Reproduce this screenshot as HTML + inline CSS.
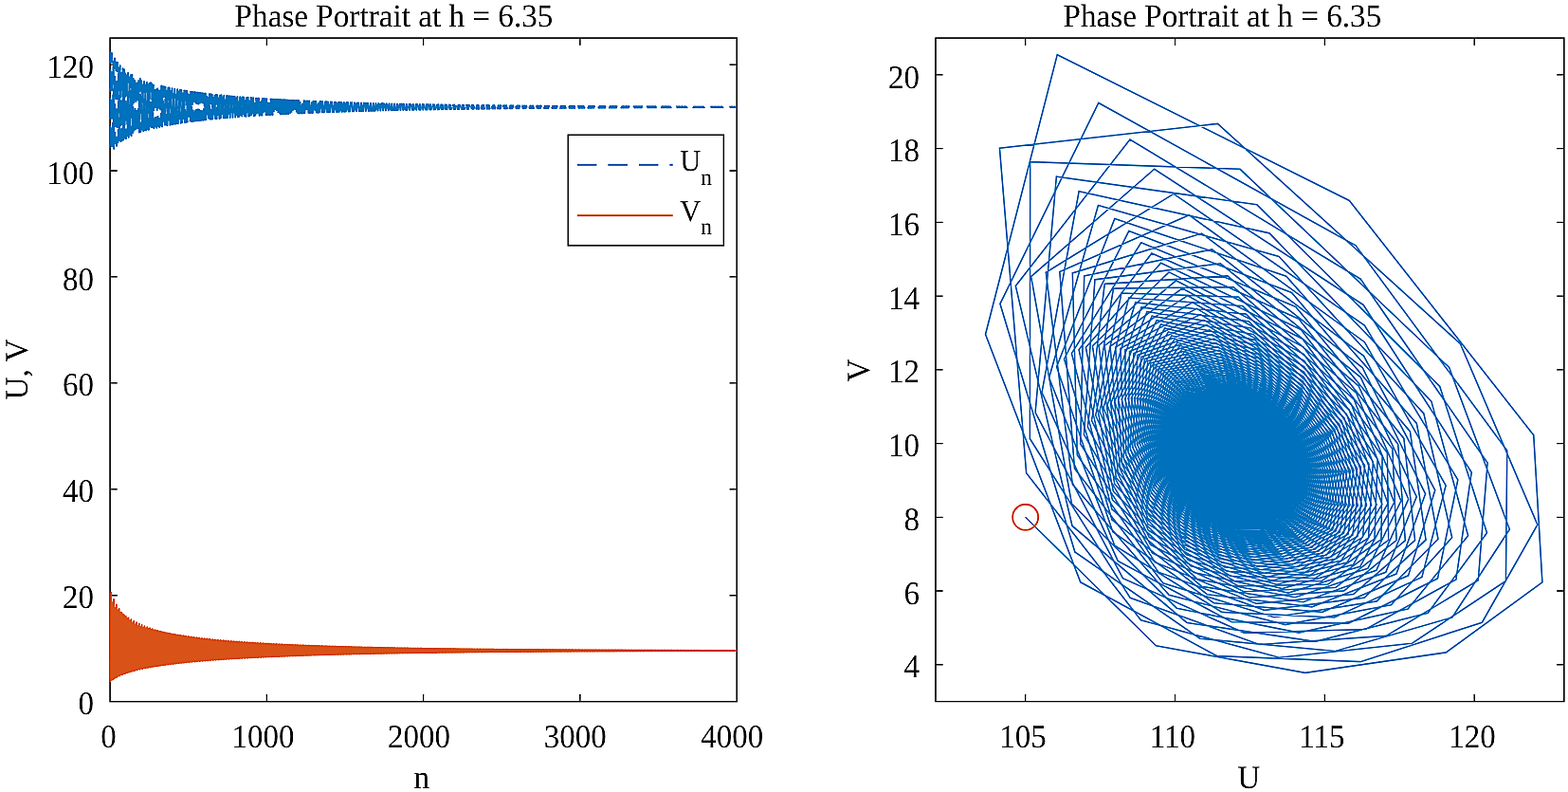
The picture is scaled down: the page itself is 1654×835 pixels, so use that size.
<!DOCTYPE html>
<html lang="en"><head><meta charset="utf-8"><title>Phase Portrait at h = 6.35</title>
<style>
html,body{margin:0;padding:0;background:#fff;}
body{width:1654px;height:835px;overflow:hidden;}
svg{display:block;}
text{font-family:"Liberation Serif","Times New Roman",serif;font-size:33.2px;fill:#1a1a1a;text-rendering:geometricPrecision;}
.t{text-anchor:middle;}
.r{text-anchor:end;}
.ax{fill:none;stroke:#231f20;stroke-width:1.4;}
.tk{stroke:#231f20;stroke-width:1.3;fill:none;}
.d{fill:none;stroke-linejoin:round;}
.m{fill:none;stroke-linejoin:miter;}
</style></head>
<body>
<svg width="1654" height="835" viewBox="0 0 1654 835">
<defs><filter id="usm" filterUnits="userSpaceOnUse" x="0" y="0" width="1654" height="835" color-interpolation-filters="sRGB"><feGaussianBlur in="SourceGraphic" stdDeviation="1.0" result="b"/><feComposite in="SourceGraphic" in2="b" operator="arithmetic" k1="0" k2="2.0" k3="-1.0" k4="0"/></filter></defs>
<g filter="url(#usm)">
<rect width="1654" height="835" fill="#fff"/>
<g id="left">
<rect class="ax" x="116.06" y="40.06" width="661.12" height="699.64"/>
<path class="tk" d="M281.34 739.70v-7.6 M281.34 40.06v7.6 M446.62 739.70v-7.6 M446.62 40.06v7.6 M611.90 739.70v-7.6 M611.90 40.06v7.6 M116.06 627.76h7.6 M777.18 627.76h-7.6 M116.06 515.82h7.6 M777.18 515.82h-7.6 M116.06 403.87h7.6 M777.18 403.87h-7.6 M116.06 291.93h7.6 M777.18 291.93h-7.6 M116.06 179.99h7.6 M777.18 179.99h-7.6 M116.06 68.05h7.6 M777.18 68.05h-7.6"/>
<polyline class="d" stroke="#0072bd" stroke-width="2.0" stroke-dasharray="19.5 10" stroke-dashoffset="0" points="116.06,152.00 116.23,127.56 116.39,99.67 116.56,73.34 116.72,55.33 116.89,56.95 117.05,91.43 117.22,146.04 117.38,159.47 117.55,141.70 117.71,116.18 117.88,89.34 118.04,66.59 118.21,56.23 118.37,70.68 118.54,116.05 118.70,156.83 118.87,151.83 119.04,130.41 119.20,104.55 119.37,79.68 119.53,62.15 119.70,61.92 119.86,90.23 120.03,138.32 120.19,156.74 120.36,142.75 120.52,119.38 120.69,94.04 120.85,72.19 121.02,61.45 121.18,72.75 121.35,111.85 121.51,151.11 121.68,151.16 121.84,132.40 122.01,108.25 122.18,84.53 122.34,67.31 122.51,65.58 122.67,89.32 122.84,132.45 123.00,153.83 123.17,143.25 123.33,121.81 123.50,97.80 123.66,76.72 123.83,65.68 123.99,74.51 124.16,108.72 124.32,146.20 124.49,150.15 124.65,133.78 124.82,111.14 124.99,88.39 125.15,71.46 125.32,68.57 125.48,88.79 125.65,127.88 125.81,150.94 125.98,143.35 126.14,123.69 126.31,100.87 126.47,80.47 126.64,69.21 126.80,76.08 126.97,106.36 127.13,141.99 127.30,148.93 127.46,134.71 127.63,113.42 127.79,91.56 127.96,74.91 128.13,71.12 128.29,88.57 128.46,124.27 128.62,148.17 128.79,143.19 128.95,125.14 129.12,103.40 129.28,83.62 129.45,72.22 129.61,77.51 129.78,104.58 129.94,138.39 130.11,147.57 130.27,135.31 130.44,115.27 130.60,94.22 130.77,77.85 130.94,73.37 131.10,88.56 131.27,121.38 131.43,145.59 131.60,142.82 131.76,126.26 131.93,105.51 132.09,86.30 132.26,74.82 132.42,78.83 132.59,103.23 132.75,135.30 132.92,146.17 133.08,135.66 133.25,116.77 133.41,96.48 133.58,80.40 133.74,75.38 133.91,88.71 134.08,119.03 134.24,143.19 134.41,142.32 134.57,127.13 134.74,107.29 134.90,88.62 135.07,77.11 135.23,80.06 135.40,102.21 135.56,132.65 135.73,144.75 135.89,135.82 136.06,118.00 136.22,98.42 136.39,82.63 136.55,77.20 136.72,88.97 136.89,117.10 137.05,141.00 137.22,141.72 137.38,127.78 137.55,108.79 137.71,90.64 137.88,79.14 138.04,81.22 138.21,101.44 138.37,130.36 138.54,143.35 138.70,135.84 138.87,119.01 139.03,100.10 139.20,84.61 139.36,78.84 139.53,89.30 139.70,115.51 139.86,139.01 140.03,141.05 140.19,128.27 140.36,110.08 140.52,92.42 140.69,80.96 140.85,82.31 141.02,100.88 141.18,128.38 141.35,142.00 141.51,135.75 141.68,119.85 141.84,101.56 142.01,86.37 142.17,80.35 142.34,89.69 142.50,114.20 142.67,137.19 142.84,140.34 143.00,128.62 143.17,111.18 143.33,93.99 143.50,82.60 143.66,83.35 143.83,100.48 143.99,126.65 144.16,140.70 144.32,135.57 144.49,120.53 144.65,102.85 144.82,87.95 144.98,81.74 145.15,90.10 145.31,113.10 145.48,135.54 145.65,139.62 145.81,128.86 145.98,112.13 146.14,95.39 146.31,84.09 146.47,84.33 146.64,100.19 146.80,125.15 146.97,139.46 147.13,135.33 147.30,121.10 147.46,103.98 147.63,89.38 147.79,83.02 147.96,90.55 148.12,112.19 148.29,134.04 148.45,138.88 148.62,129.01 148.79,112.95 148.95,96.64 149.12,85.46 149.28,85.25 149.45,100.01 149.61,123.83 149.78,138.29 149.94,135.04 150.11,121.56 150.27,104.98 150.44,90.68 150.60,84.20 150.77,91.00 150.93,111.42 151.10,132.67 151.26,138.14 151.43,129.09 151.60,113.65 151.76,97.76 151.93,86.70 152.09,86.14 152.26,99.90 152.42,122.68 152.59,137.18 152.75,134.71 152.92,121.94 153.08,105.87 153.25,91.85 153.41,85.30 153.58,91.46 153.74,110.78 153.91,131.43 154.07,137.41 154.24,129.11 154.40,114.26 154.57,98.78 154.74,87.85 154.90,86.97 155.07,99.86 155.23,121.66 155.40,136.13 155.56,134.35 155.73,122.24 155.89,106.66 156.06,92.93 156.22,86.33 156.39,91.92 156.55,110.25 156.72,130.30 156.88,136.69 157.05,129.08 157.21,114.79 157.38,99.69 157.55,88.91 157.71,87.77 157.88,99.87 158.04,120.76 158.21,135.15 158.37,133.98 158.54,122.48 158.70,107.37 158.87,93.91 159.03,87.29 159.20,92.39 159.36,109.80 159.53,129.26 159.69,135.99 159.86,129.01 160.02,115.25 160.19,100.53 160.36,89.90 160.52,88.53 160.69,99.92 160.85,119.96 161.02,134.22 161.18,133.59 161.35,122.66 161.51,108.00 161.68,94.82 161.84,88.19 162.01,92.85 162.17,109.43 162.34,128.32 162.50,135.31 162.67,128.90 162.83,115.65 163.00,101.29 163.16,90.81 163.33,89.25 163.50,100.01 163.66,119.25 163.83,133.35 163.99,133.19 164.16,122.80 164.32,108.57 164.49,95.65 164.65,89.03 164.82,93.30 164.98,109.12 165.15,127.46 165.31,134.65 165.48,128.77 165.64,115.99 165.81,101.98 165.97,91.66 166.14,89.94 166.31,100.12 166.47,118.62 166.64,132.53 166.80,132.78 166.97,122.90 167.13,109.08 167.30,96.43 167.46,89.83 167.63,93.75 167.79,108.86 167.96,126.66 168.12,134.02 168.29,128.61 168.45,116.29 168.62,102.61 168.78,92.45 168.95,90.60 169.11,100.25 169.28,118.06 169.45,131.76 169.61,132.38 169.78,122.96 169.94,109.53 170.11,97.14 170.27,90.58 170.44,94.19 170.60,108.65 170.77,125.94 170.93,133.40 171.10,128.44 171.26,116.54 171.43,103.20 171.59,93.20 171.76,91.23 171.92,100.40 172.09,117.56 172.26,131.04 172.42,131.97 172.59,123.00 172.75,109.95 172.92,97.80 173.08,91.29 173.25,94.62 173.41,108.49 173.58,125.27 173.74,132.81 173.91,128.25 174.07,116.76 174.24,103.73 174.40,93.89 174.57,91.83 174.73,100.56 174.90,117.12 175.06,130.36 175.23,131.57 175.40,123.01 175.56,110.32 175.73,98.42 175.89,91.96 176.06,95.04 176.22,108.35 176.39,124.65 176.55,132.24 176.72,128.05 176.88,116.94 177.05,104.22 177.21,94.55 177.38,92.41 177.54,100.74 177.71,116.72 177.87,129.71 178.04,131.17 178.21,123.00 178.37,110.65 178.54,99.00 178.70,92.60 178.87,95.45 179.03,108.25 179.20,124.09 179.36,131.69 179.53,127.84 179.69,117.10 179.86,104.67 180.02,95.16 180.19,92.97 180.35,100.92 180.52,116.36 180.68,129.11 180.85,130.78 181.02,122.97 181.18,110.95 181.35,99.53 181.51,93.20 181.68,95.85 181.84,108.17 182.01,123.56 182.17,131.16 182.34,127.62 182.50,117.23 182.67,105.09 182.83,95.74 183.00,93.50 183.16,101.11 183.33,116.04 183.49,128.54 183.66,130.39 183.82,122.92 183.99,111.22 184.16,100.04 184.32,93.78 184.49,96.24 184.65,108.12 184.82,123.08 184.98,130.65 185.15,127.39 185.31,117.34 185.48,105.47 185.64,96.29 185.81,94.01 185.97,101.30 186.14,115.76 186.30,128.00 186.47,130.01 186.63,122.86 186.80,111.46 186.97,100.51 187.13,94.32 187.30,96.63 187.46,108.08 187.63,122.63 187.79,130.16 187.96,127.17 188.12,117.43 188.29,105.83 188.45,96.81 188.62,94.50 188.78,101.50 188.95,115.50 189.11,127.49 189.28,129.64 189.44,122.78 189.61,111.68 189.77,100.95 189.94,94.84 190.11,97.00 190.27,108.06 190.44,122.21 190.60,129.69 190.77,126.93 190.93,117.50 191.10,106.16 191.26,97.30 191.43,94.97 191.59,101.70 191.76,115.27 191.92,127.01 192.09,129.27 192.25,122.70 192.42,111.88 192.58,101.36 192.75,95.34 192.92,97.36 193.08,108.06 193.25,121.83 193.41,129.24 193.58,126.70 193.74,117.55 193.91,106.47 194.07,97.77 194.24,95.42 194.40,101.91 194.57,115.06 194.73,126.56 194.90,128.91 195.06,122.60 195.23,112.06 195.39,101.75 195.56,95.82 195.72,97.72 195.89,108.06 196.06,121.47 196.22,128.81 196.39,126.47 196.55,117.59 196.72,106.75 196.88,98.21 197.05,95.86 197.21,102.11 197.38,114.88 197.54,126.13 197.71,128.56 197.87,122.50 198.04,112.22 198.20,102.12 198.37,96.27 198.53,98.06 198.70,108.08 198.87,121.13 199.03,128.39 199.20,126.23 199.36,117.62 199.53,107.02 199.69,98.63 199.86,96.28 200.02,102.31 200.19,114.71 200.35,125.72 200.52,128.22 200.68,122.39 200.85,112.37 201.01,102.47 201.18,96.71 201.34,98.40 201.51,108.11 201.68,120.82 201.84,127.99 202.01,126.00 202.17,117.63 202.34,107.26 202.50,99.03 202.67,96.69 202.83,102.52 203.00,114.56 203.16,125.33 203.33,127.89 203.49,122.28 203.66,112.50 203.82,102.79 203.99,97.13 204.15,98.73 204.32,108.15 204.48,120.53 204.65,127.61 204.82,125.77 204.98,117.64 205.15,107.49 205.31,99.41 205.48,97.08 205.64,102.72 205.81,114.43 205.97,124.97 206.14,127.56 206.30,122.16 206.47,112.61 206.63,103.10 206.80,97.53 206.96,99.05 207.13,108.19 207.29,120.26 207.46,127.24 207.63,125.54 207.79,117.63 207.96,107.71 208.12,99.77 208.29,97.46 208.45,102.92 208.62,114.31 208.78,124.62 208.95,127.25 209.11,122.04 209.28,112.72 209.44,103.40 209.61,97.91 209.77,99.36 209.94,108.24 210.10,120.00 210.27,126.88 210.43,125.31 210.60,117.62 210.77,107.91 210.93,100.12 211.10,97.82 211.26,103.12 211.43,114.20 211.59,124.28 211.76,126.94 211.92,121.91 212.09,112.81 212.25,103.67 212.42,98.28 212.58,99.66 212.75,108.30 212.91,119.76 213.08,126.54 213.24,125.08 213.41,117.60 213.58,108.09 213.74,100.45 213.91,98.18 214.07,103.32 214.24,114.10 214.40,123.97 214.57,126.64 214.73,121.79 214.90,112.89 215.06,103.94 215.23,98.64 215.39,99.96 215.56,108.36 215.72,119.54 215.89,126.20 216.05,124.86 216.22,117.58 216.38,108.27 216.55,100.77 216.72,98.52 216.88,103.51 217.05,114.02 217.21,123.67 217.38,126.34 217.54,121.65 217.71,112.97 217.87,104.19 218.04,98.98 218.20,100.25 218.37,108.42 218.53,119.33 218.70,125.88 218.86,124.63 219.03,117.55 219.19,108.43 219.36,101.07 219.53,98.85 219.69,103.71 219.86,113.94 220.02,123.38 220.19,126.06 220.35,121.52 220.52,113.03 220.68,104.42 220.85,99.31 221.01,100.53 221.18,108.49 221.34,119.13 221.51,125.58 221.67,124.42 221.84,117.51 222.00,108.58 222.17,101.37 222.34,99.17 222.50,103.90 222.67,113.87 222.83,123.10 223.00,125.78 223.16,121.39 223.33,113.09 223.49,104.65 223.66,99.63 223.82,100.80 223.99,108.56 224.15,118.94 224.32,125.28 224.48,124.20 224.65,117.47 224.81,108.73 224.98,101.65 225.14,99.49 225.31,104.08 225.48,113.81 225.64,122.84 225.81,125.50 225.97,121.26 226.14,113.14 226.30,104.87 226.47,99.93 226.63,101.07 226.80,108.63 226.96,118.77 227.13,124.99 227.29,123.99 227.46,117.42 227.62,108.86 227.79,101.92 227.95,99.79 228.12,104.27 228.29,113.76 228.45,122.59 228.62,125.24 228.78,121.12 228.95,113.18 229.11,105.07 229.28,100.23 229.44,101.33 229.61,108.71 229.77,118.60 229.94,124.71 230.10,123.78 230.27,117.38 230.43,108.99 230.60,102.17 230.76,100.08 230.93,104.45 231.09,113.71 231.26,122.35 231.43,124.98 231.59,120.99 231.76,113.22 231.92,105.27 232.09,100.52 232.25,101.58 232.42,108.78 232.58,118.45 232.75,124.44 232.91,123.57 233.08,117.33 233.24,109.11 233.41,102.42 233.57,100.37 233.74,104.63 233.90,113.67 234.07,122.12 234.24,124.73 234.40,120.85 234.57,113.25 234.73,105.46 234.90,100.80 235.06,101.83 235.23,108.86 235.39,118.30 235.56,124.18 235.72,123.37 235.89,117.27 236.05,109.22 236.22,102.66 236.38,100.64 236.55,104.81 236.71,113.63 236.88,121.89 237.04,124.48 237.21,120.72 237.38,113.28 237.54,105.63 237.71,101.06 237.87,102.07 238.04,108.94 238.20,118.16 238.37,123.93 238.53,123.17 238.70,117.21 238.86,109.32 239.03,102.89 239.19,100.91 239.36,104.98 239.52,113.60 239.69,121.68 239.85,124.24 240.02,120.58 240.19,113.30 240.35,105.81 240.52,101.32 240.68,102.31 240.85,109.02 241.01,118.02 241.18,123.69 241.34,122.97 241.51,117.16 241.67,109.42 241.84,103.11 242.00,101.17 242.17,105.15 242.33,113.57 242.50,121.48 242.66,124.01 242.83,120.45 243.00,113.32 243.16,105.97 243.33,101.58 243.49,102.54 243.66,109.09 243.82,117.90 243.99,123.45 244.15,122.78 244.32,117.10 244.48,109.51 244.65,103.33 244.81,101.43 244.98,105.32 245.14,113.55 245.31,121.28 245.47,123.78 245.64,120.32 245.80,113.34 245.97,106.13 246.14,101.82 246.30,102.76 246.47,109.17 246.63,117.78 246.80,123.22 246.96,122.59 247.13,117.03 247.29,109.60 247.46,103.54 247.62,101.67 247.79,105.48 247.95,113.53 248.12,121.09 248.28,123.56 248.45,120.19 248.61,113.35 248.78,106.28 248.95,102.06 249.11,102.98 249.28,109.25 249.44,117.66 249.61,123.00 249.77,122.40 249.94,116.97 250.10,109.68 250.27,103.74 250.43,101.91 250.60,105.65 250.76,113.51 250.93,120.91 251.09,123.34 251.26,120.06 251.42,113.36 251.59,106.42 251.75,102.29 251.92,103.20 252.09,109.33 252.25,117.56 252.42,122.79 252.58,122.22 252.75,116.91 252.91,109.76 253.08,103.93 253.24,102.15 253.41,105.80 253.57,113.49 253.74,120.73 253.90,123.13 254.07,119.93 254.23,113.37 254.40,106.56 254.56,102.51 254.73,103.40 254.90,109.41 255.06,117.45 255.23,122.58 255.39,122.04 255.56,116.84 255.72,109.84 255.89,104.12 256.05,102.37 256.22,105.96 256.38,113.48 256.55,120.56 256.71,122.92 256.88,119.80 257.04,113.37 257.21,106.70 257.37,102.73 257.54,103.61 257.70,109.49 257.87,117.35 258.04,122.38 258.20,121.86 258.37,116.78 258.53,109.91 258.70,104.30 258.86,102.60 259.03,106.11 259.19,113.47 259.36,120.40 259.52,122.72 259.69,119.67 259.85,113.37 260.02,106.83 260.18,102.94 260.35,103.81 260.51,109.57 260.68,117.26 260.85,122.18 261.01,121.69 261.18,116.71 261.34,109.97 261.51,104.48 261.67,102.81 261.84,106.26 262.00,113.46 262.17,120.24 262.33,122.52 262.50,119.55 262.66,113.37 262.83,106.95 262.99,103.14 263.16,104.00 263.32,109.65 263.49,117.17 263.66,121.99 263.82,121.52 263.99,116.64 264.15,110.04 264.32,104.65 264.48,103.02 264.65,106.41 264.81,113.46 264.98,120.09 265.14,122.33 265.31,119.42 265.47,113.37 265.64,107.07 265.80,103.34 265.97,104.19 266.13,109.72 266.30,117.08 266.46,121.80 266.63,121.35 266.80,116.58 266.96,110.10 267.13,104.81 267.29,103.23 267.46,106.55 267.62,113.45 267.79,119.94 267.95,122.14 268.12,119.30 268.28,113.36 268.45,107.19 268.61,103.53 268.78,104.38 268.94,109.80 269.11,117.00 269.27,121.62 269.44,121.19 269.61,116.51 269.77,110.15 269.94,104.97 270.10,103.43 270.27,106.69 270.43,113.45 270.60,119.80 270.76,121.96 270.93,119.18 271.09,113.36 271.26,107.30 271.42,103.72 271.59,104.56 271.75,109.87 271.92,116.92 272.08,121.45 272.25,121.03 272.41,116.44 272.58,110.21 272.75,105.13 272.91,103.62 273.08,106.83 273.24,113.45 273.41,119.66 273.57,121.78 273.74,119.06 273.90,113.35 274.07,107.41 274.23,103.91 274.40,104.74 274.56,109.95 274.73,116.84 274.89,121.27 275.06,120.87 275.22,116.38 275.39,110.26 275.56,105.28 275.72,103.81 275.89,106.97 276.05,113.45 276.22,119.53 276.38,121.60 276.55,118.94 276.71,113.34 276.88,107.51 277.04,104.09 277.21,104.91 277.37,110.02 277.54,116.77 277.70,121.11 277.87,120.71 278.03,116.31 278.20,110.31 278.36,105.43 278.53,104.00 278.70,107.10 278.86,113.45 279.03,119.40 279.19,121.43 279.36,118.82 279.52,113.33 279.69,107.62 279.85,104.26 280.02,105.08 280.18,110.09 280.35,116.70 280.51,120.94 280.68,120.56 280.84,116.25 281.01,110.35 281.17,105.57 281.34,104.18 281.51,107.23 281.67,113.45 281.84,119.27 282.00,121.26 282.17,118.71 282.33,113.32 282.50,107.71 282.66,104.43 282.83,105.25 282.99,110.16 283.16,116.63 283.32,120.79 283.49,120.41 283.65,116.18 283.82,110.40 283.98,105.71 284.15,104.36 284.32,107.36 284.48,113.45 284.65,119.15 284.81,121.10 284.98,118.60 285.14,113.31 285.31,107.81 285.47,104.60 285.64,105.41 285.80,110.23 285.97,116.57 286.13,120.63 286.30,120.26 286.46,116.11 286.63,110.44 286.79,105.85 286.96,104.53 287.12,107.48 287.29,113.45 287.46,119.03 287.62,120.94 287.79,118.48 287.95,113.30 288.12,107.90 288.28,104.76 288.45,105.57 288.61,110.30 288.78,116.50 288.94,120.48 289.11,120.12 289.27,116.05 289.44,110.48 289.60,105.98 289.77,104.70 289.93,107.61 290.10,113.45 290.27,118.91 290.43,120.78 290.60,118.37 290.76,113.28 290.93,107.99 291.09,104.92 291.26,105.73 291.42,110.37 291.59,116.44 291.75,120.34 291.92,119.98 292.08,115.98 292.25,110.52 292.41,106.11 292.58,104.87 292.74,107.73 292.91,113.46 293.07,118.80 293.24,120.63 293.41,118.27 293.57,113.27 293.74,108.08 293.90,105.07 294.07,105.88 294.23,110.44 294.40,116.38 294.56,120.19 294.73,119.84 294.89,115.92 295.06,110.56 295.22,106.23 295.39,105.03 295.55,107.84 295.72,113.46 295.88,118.69 296.05,120.48 296.22,118.16 296.38,113.26 296.55,108.16 296.71,105.22 296.88,106.03 297.04,110.50 297.21,116.32 297.37,120.05 297.54,119.71 297.70,115.86 297.87,110.60 298.03,106.36 298.20,105.19 298.36,107.96 298.53,113.47 298.69,118.58 298.86,120.33 299.02,118.06 299.19,113.24 299.36,108.24 299.52,105.37 299.69,106.17 299.85,110.57 300.02,116.27 300.18,119.92 300.35,119.57 300.51,115.79 300.68,110.63 300.84,106.48 301.01,105.34 301.17,108.07 301.34,113.47 301.50,118.48 301.67,120.19 301.83,117.95 302.00,113.23 302.17,108.32 302.33,105.51 302.50,106.31 302.66,110.63 302.83,116.22 302.99,119.78 303.16,119.44 303.32,115.73 303.49,110.66 303.65,106.59 303.82,105.49 303.98,108.18 304.15,113.48 304.31,118.38 304.48,120.05 304.64,117.85 304.81,113.21 304.98,108.40 305.14,105.65 305.31,106.45 305.47,110.69 305.64,116.16 305.80,119.65 305.97,119.31 306.13,115.67 306.30,110.70 306.46,106.71 306.63,105.64 306.79,108.29 306.96,113.48 307.12,118.28 307.29,119.91 307.45,117.75 307.62,113.20 307.78,108.48 307.95,105.79 308.12,106.59 308.28,110.75 308.45,116.11 308.61,119.53 308.78,119.19 308.94,115.61 309.11,110.73 309.27,106.82 309.44,105.79 309.60,108.39 309.77,113.49 309.93,118.18 310.10,119.78 310.26,117.65 310.43,113.18 310.59,108.55 310.76,105.92 310.93,106.72 311.09,110.81 311.26,116.06 311.42,119.40 311.59,119.07 311.75,115.55 311.92,110.76 312.08,106.93 312.25,105.93 312.41,108.50 312.58,113.49 312.74,118.09 312.91,119.64 313.07,117.56 313.24,113.16 313.40,108.62 313.57,106.06 313.73,106.85 313.90,110.87 314.07,116.01 314.23,119.28 314.40,118.94 314.56,115.49 314.73,110.78 314.89,107.03 315.06,106.07 315.22,108.60 315.39,113.50 315.55,118.00 315.72,119.51 315.88,117.46 316.05,113.15 316.21,108.69 316.38,106.18 316.54,106.98 316.71,110.93 316.88,115.97 317.04,119.16 317.21,118.83 317.37,115.43 317.54,110.81 317.70,107.14 317.87,106.20 318.03,108.70 318.20,113.50 318.36,117.91 318.53,119.39 318.69,117.37 318.86,113.13 319.02,108.76 319.19,106.31 319.35,107.11 319.52,110.99 319.68,115.92 319.85,119.04 320.02,118.71 320.18,115.37 320.35,110.84 320.51,107.24 320.68,106.33 320.84,108.80 321.01,113.51 321.17,117.82 321.34,119.26 321.50,117.28 321.67,113.11 321.83,108.83 322.00,106.43 322.16,107.23 322.33,111.04 322.49,115.88 322.66,118.93 322.83,118.59 322.99,115.32 323.16,110.87 323.32,107.34 323.49,106.46 323.65,108.89 323.82,113.52 323.98,117.73 324.15,119.14 324.31,117.19 324.48,113.10 324.64,108.89 324.81,106.55 324.97,107.35 325.14,111.10 325.30,115.83 325.47,118.82 325.64,118.48 325.80,115.26 325.97,110.89 326.13,107.43 326.30,106.59 326.46,108.98 326.63,113.52 326.79,117.65 326.96,119.02 327.12,117.10 327.29,113.08 327.45,108.96 327.62,106.67 327.78,107.46 327.95,111.15 328.11,115.79 328.28,118.71 328.44,118.37 328.61,115.21 328.78,110.92 328.94,107.53 329.11,106.71 329.27,109.08 329.44,113.53 329.60,117.57 329.77,118.91 329.93,117.01 330.10,113.07 330.26,109.02 330.43,106.79 330.59,107.58 330.76,111.20 330.92,115.75 331.09,118.60 331.25,118.26 331.42,115.15 331.59,110.94 331.75,107.62 331.92,106.84 332.08,109.16 332.25,113.53 332.41,117.49 332.58,118.79 332.74,116.93 332.91,113.05 333.07,109.08 333.24,106.90 333.40,107.69 333.57,111.25 333.73,115.71 333.90,118.50 334.06,118.16 334.23,115.10 334.39,110.96 334.56,107.71 334.73,106.96 334.89,109.25 335.06,113.54 335.22,117.41 335.39,118.68 335.55,116.84 335.72,113.03 335.88,109.14 336.05,107.01 336.21,107.80 336.38,111.30 336.54,115.67 336.71,118.40 336.87,118.05 337.04,115.05 337.20,110.99 337.37,107.80 337.54,107.07 337.70,109.34 337.87,113.54 338.03,117.33 338.20,118.57 338.36,116.76 338.53,113.02 338.69,109.20 338.86,107.12 339.02,107.91 339.19,111.35 339.35,115.63 339.52,118.30 339.68,117.95 339.85,115.00 340.01,111.01 340.18,107.89 340.34,107.19 340.51,109.42 340.68,113.55 340.84,117.26 341.01,118.46 341.17,116.68 341.34,113.00 341.50,109.26 341.67,107.22 341.83,108.01 342.00,111.40 342.16,115.59 342.33,118.20 342.49,117.85 342.66,114.94 342.82,111.03 342.99,107.98 343.15,107.30 343.32,109.50 343.49,113.55 343.65,117.18 343.82,118.36 343.98,116.60 344.15,112.99 344.31,109.31 344.48,107.33 344.64,108.12 344.81,111.44 344.97,115.56 345.14,118.10 345.30,117.75 345.47,114.89 345.63,111.05 345.80,108.06 345.96,107.41 346.13,109.58 346.30,113.56 346.46,117.11 346.63,118.25 346.79,116.52 346.96,112.97 347.12,109.37 347.29,107.43 347.45,108.22 347.62,111.49 347.78,115.52 347.95,118.01 348.11,117.66 348.28,114.85 348.44,111.07 348.61,108.14 348.77,107.52 348.94,109.66 349.10,113.56 349.27,117.04 349.44,118.15 349.60,116.44 349.77,112.96 349.93,109.42 350.10,107.53 350.26,108.32 350.43,111.53 350.59,115.48 350.76,117.92 350.92,117.56 351.09,114.80 351.25,111.09 351.42,108.22 351.58,107.62 351.75,109.74 351.91,113.57 352.08,116.97 352.25,118.05 352.41,116.37 352.58,112.94 352.74,109.47 352.91,107.63 353.07,108.41 353.24,111.58 353.40,115.45 353.57,117.83 353.73,117.47 353.90,114.75 354.06,111.11 354.23,108.30 354.39,107.72 354.56,109.81 354.72,113.57 354.89,116.90 355.05,117.95 355.22,116.29 355.39,112.93 355.55,109.53 355.72,107.73 355.88,108.51 356.05,111.62 356.21,115.41 356.38,117.74 356.54,117.38 356.71,114.70 356.87,111.13 357.04,108.38 357.20,107.83 357.37,109.88 357.53,113.57 357.70,116.84 357.86,117.86 358.03,116.22 358.20,112.91 358.36,109.58 358.53,107.82 358.69,108.60 358.86,111.66 359.02,115.38 359.19,117.65 359.35,117.29 359.52,114.66 359.68,111.15 359.85,108.46 360.01,107.93 360.18,109.96 360.34,113.58 360.51,116.77 360.67,117.76 360.84,116.15 361.00,112.90 361.17,109.63 361.34,107.91 361.50,108.69 361.67,111.70 361.83,115.35 362.00,117.57 362.16,117.20 362.33,114.61 362.49,111.17 362.66,108.53 362.82,108.02 362.99,110.03 363.15,113.58 363.32,116.71 363.48,117.67 363.65,116.08 363.81,112.88 363.98,109.67 364.15,108.00 364.31,108.78 364.48,111.74 364.64,115.31 364.81,117.48 364.97,117.12 365.14,114.57 365.30,111.19 365.47,108.60 365.63,108.12 365.80,110.10 365.96,113.58 366.13,116.65 366.29,117.58 366.46,116.01 366.62,112.87 366.79,109.72 366.96,108.09 367.12,108.87 367.29,111.78 367.45,115.28 367.62,117.40 367.78,117.03 367.95,114.53 368.11,111.20 368.28,108.68 368.44,108.21 368.61,110.16 368.77,113.59 368.94,116.58 369.10,117.49 369.27,115.95 369.43,112.86 369.60,109.77 369.76,108.18 369.93,108.95 370.10,111.82 370.26,115.25 370.43,117.32 370.59,116.95 370.76,114.48 370.92,111.22 371.09,108.75 371.25,108.30 371.42,110.23 371.58,113.59 371.75,116.52 371.91,117.41 372.08,115.88 372.24,112.84 372.41,109.82 372.57,108.26 372.74,109.04 372.91,111.85 373.07,115.22 373.24,117.24 373.40,116.87 373.57,114.44 373.73,111.24 373.90,108.82 374.06,108.39 374.23,110.29 374.39,113.59 374.56,116.46 374.72,117.32 374.89,115.81 375.05,112.83 375.22,109.86 375.38,108.35 375.55,109.12 375.71,111.89 375.88,115.19 376.05,117.16 376.21,116.79 376.38,114.40 376.54,111.26 376.71,108.88 376.87,108.48 377.04,110.35 377.20,113.59 377.37,116.41 377.53,117.24 377.70,115.75 377.86,112.82 378.03,109.91 378.19,108.43 378.36,109.20 378.52,111.92 378.69,115.16 378.86,117.09 379.02,116.71 379.19,114.36 379.35,111.27 379.52,108.95 379.68,108.57 379.85,110.42 380.01,113.60 380.18,116.35 380.34,117.16 380.51,115.69 380.67,112.81 380.84,109.95 381.00,108.51 381.17,109.28 381.33,111.96 381.50,115.13 381.66,117.01 381.83,116.64 382.00,114.32 382.16,111.29 382.33,109.02 382.49,108.65 382.66,110.48 382.82,113.60 382.99,116.29 383.15,117.08 383.32,115.63 383.48,112.80 383.65,109.99 383.81,108.59 383.98,109.36 384.14,111.99 384.31,115.10 384.47,116.94 384.64,116.56 384.81,114.28 384.97,111.31 385.14,109.08 385.30,108.73 385.47,110.53 385.63,113.60 385.80,116.24 385.96,117.00 386.13,115.57 386.29,112.78 386.46,110.04 386.62,108.67 386.79,109.43 386.95,112.02 387.12,115.07 387.28,116.87 387.45,116.49 387.62,114.25 387.78,111.32 387.95,109.14 388.11,108.81 388.28,110.59 388.44,113.60 388.61,116.18 388.77,116.92 388.94,115.51 389.10,112.77 389.27,110.08 389.43,108.75 389.60,109.50 389.76,112.05 389.93,115.04 390.09,116.80 390.26,116.42 390.42,114.21 390.59,111.34 390.76,109.21 390.92,108.89 391.09,110.65 391.25,113.60 391.42,116.13 391.58,116.84 391.75,115.45 391.91,112.76 392.08,110.12 392.24,108.82 392.41,109.58 392.57,112.08 392.74,115.01 392.90,116.73 393.07,116.34 393.23,114.17 393.40,111.35 393.57,109.27 393.73,108.97 393.90,110.70 394.06,113.60 394.23,116.08 394.39,116.77 394.56,115.40 394.72,112.75 394.89,110.16 395.05,108.89 395.22,109.65 395.38,112.11 395.55,114.98 395.71,116.66 395.88,116.28 396.04,114.14 396.21,111.37 396.37,109.33 396.54,109.05 396.71,110.76 396.87,113.60 397.04,116.03 397.20,116.69 397.37,115.34 397.53,112.74 397.70,110.20 397.86,108.97 398.03,109.72 398.19,112.14 398.36,114.96 398.52,116.59 398.69,116.21 398.85,114.10 399.02,111.38 399.18,109.39 399.35,109.12 399.52,110.81 399.68,113.61 399.85,115.97 400.01,116.62 400.18,115.29 400.34,112.73 400.51,110.24 400.67,109.04 400.84,109.78 401.00,112.17 401.17,114.93 401.33,116.53 401.50,116.14 401.66,114.07 401.83,111.40 401.99,109.45 402.16,109.20 402.32,110.86 402.49,113.61 402.66,115.92 402.82,116.55 402.99,115.23 403.15,112.72 403.32,110.28 403.48,109.11 403.65,109.85 403.81,112.20 403.98,114.90 404.14,116.46 404.31,116.07 404.47,114.04 404.64,111.42 404.80,109.50 404.97,109.27 405.13,110.91 405.30,113.61 405.47,115.88 405.63,116.48 405.80,115.18 405.96,112.71 406.13,110.32 406.29,109.18 406.46,109.92 406.62,112.23 406.79,114.88 406.95,116.40 407.12,116.01 407.28,114.00 407.45,111.43 407.61,109.56 407.78,109.34 407.94,110.96 408.11,113.61 408.28,115.83 408.44,116.41 408.61,115.13 408.77,112.70 408.94,110.35 409.10,109.24 409.27,109.98 409.43,112.25 409.60,114.85 409.76,116.34 409.93,115.95 410.09,113.97 410.26,111.45 410.42,109.61 410.59,109.41 410.75,111.01 410.92,113.61 411.08,115.78 411.25,116.35 411.42,115.08 411.58,112.69 411.75,110.39 411.91,109.31 412.08,110.04 412.24,112.28 412.41,114.82 412.57,116.27 412.74,115.88 412.90,113.94 413.07,111.46 413.23,109.67 413.40,109.48 413.56,111.05 413.73,113.61 413.89,115.73 414.06,116.28 414.23,115.03 414.39,112.68 414.56,110.43 414.72,109.37 414.89,110.10 415.05,112.30 415.22,114.80 415.38,116.21 415.55,115.82 415.71,113.91 415.88,111.47 416.04,109.72 416.21,109.54 416.37,111.10 416.54,113.60 416.70,115.69 416.87,116.22 417.03,114.98 417.20,112.68 417.37,110.46 417.53,109.44 417.70,110.16 417.86,112.33 418.03,114.77 418.19,116.16 418.36,115.76 418.52,113.88 418.69,111.49 418.85,109.77 419.02,109.61 419.18,111.14 419.35,113.60 419.51,115.64 419.68,116.15 419.84,114.93 420.01,112.67 420.18,110.50 420.34,109.50 420.51,110.22 420.67,112.35 420.84,114.75 421.00,116.10 421.17,115.71 421.33,113.85 421.50,111.50 421.66,109.83 421.83,109.67 421.99,111.19 422.16,113.60 422.32,115.60 422.49,116.09 422.65,114.89 422.82,112.66 422.98,110.53 423.15,109.56 423.32,110.28 423.48,112.37 423.65,114.72 423.81,116.04 423.98,115.65 424.14,113.82 424.31,111.52 424.47,109.88 424.64,109.74 424.80,111.23 424.97,113.60 425.13,115.55 425.30,116.03 425.46,114.84 425.63,112.65 425.79,110.57 425.96,109.62 426.13,110.34 426.29,112.39 426.46,114.70 426.62,115.99 426.79,115.59 426.95,113.79 427.12,111.53 427.28,109.93 427.45,109.80 427.61,111.27 427.78,113.60 427.94,115.51 428.11,115.97 428.27,114.80 428.44,112.65 428.60,110.60 428.77,109.68 428.94,110.39 429.10,112.42 429.27,114.68 429.43,115.93 429.60,115.54 429.76,113.77 429.93,111.55 430.09,109.97 430.26,109.86 430.42,111.31 430.59,113.60 430.75,115.47 430.92,115.91 431.08,114.75 431.25,112.64 431.41,110.63 431.58,109.74 431.74,110.44 431.91,112.44 432.08,114.65 432.24,115.88 432.41,115.48 432.57,113.74 432.74,111.56 432.90,110.02 433.07,109.92 433.23,111.35 433.40,113.60 433.56,115.43 433.73,115.86 433.89,114.71 434.06,112.63 434.22,110.67 434.39,109.79 434.55,110.50 434.72,112.46 434.89,114.63 435.05,115.82 435.22,115.43 435.38,113.71 435.55,111.57 435.71,110.07 435.88,109.98 436.04,111.39 436.21,113.60 436.37,115.39 436.54,115.80 436.70,114.67 436.87,112.63 437.03,110.70 437.20,109.85 437.36,110.55 437.53,112.48 437.69,114.61 437.86,115.77 438.03,115.38 438.19,113.69 438.36,111.59 438.52,110.12 438.69,110.03 438.85,111.43 439.02,113.59 439.18,115.35 439.35,115.74 439.51,114.63 439.68,112.62 439.84,110.73 440.01,109.91 440.17,110.60 440.34,112.50 440.50,114.58 440.67,115.72 440.84,115.33 441.00,113.66 441.17,111.60 441.33,110.16 441.50,110.09 441.66,111.47 441.83,113.59 441.99,115.31 442.16,115.69 442.32,114.59 442.49,112.61 442.65,110.76 442.82,109.96 442.98,110.65 443.15,112.51 443.31,114.56 443.48,115.67 443.64,115.28 443.81,113.64 443.98,111.61 444.14,110.21 444.31,110.15 444.47,111.50 444.64,113.59 444.80,115.27 444.97,115.64 445.13,114.55 445.30,112.61 445.46,110.79 445.63,110.01 445.79,110.70 445.96,112.53 446.12,114.54 446.29,115.62 446.45,115.23 446.62,113.62 446.79,111.63 446.95,110.25 447.12,110.20 447.28,111.54 447.45,113.59 447.61,115.23 447.78,115.58 447.94,114.51 448.11,112.60 448.27,110.82 448.44,110.06 448.60,110.75 448.77,112.55 448.93,114.52 449.10,115.57 449.26,115.18 449.43,113.59 449.60,111.64 449.76,110.30 449.93,110.25 450.09,111.57 450.26,113.58 450.42,115.19 450.59,115.53 450.75,114.47 450.92,112.60 451.08,110.85 451.25,110.12 451.41,110.79 451.58,112.57 451.74,114.49 451.91,115.52 452.07,115.13 452.24,113.57 452.40,111.65 452.57,110.34 452.74,110.30 452.90,111.61 453.07,113.58 453.23,115.15 453.40,115.48 453.56,114.44 453.73,112.59 453.89,110.88 454.06,110.17 454.22,110.84 454.39,112.58 454.55,114.47 454.72,115.48 454.88,115.08 455.05,113.55 455.21,111.67 455.38,110.38 455.55,110.36 455.71,111.64 455.88,113.58 456.04,115.12 456.21,115.43 456.37,114.40 456.54,112.59 456.70,110.91 456.87,110.21 457.03,110.88 457.20,112.60 457.36,114.45 457.53,115.43 457.69,115.04 457.86,113.53 458.02,111.68 458.19,110.42 458.35,110.41 458.52,111.67 458.69,113.58 458.85,115.08 459.02,115.38 459.18,114.36 459.35,112.58 459.51,110.94 459.68,110.26 459.84,110.93 460.01,112.61 460.17,114.43 460.34,115.39 460.50,114.99 460.67,113.50 460.83,111.69 461.00,110.46 461.16,110.45 461.33,111.70 461.50,113.57 461.66,115.05 461.83,115.34 461.99,114.33 462.16,112.58 462.32,110.97 462.49,110.31 462.65,110.97 462.82,112.63 462.98,114.41 463.15,115.34 463.31,114.95 463.48,113.48 463.64,111.70 463.81,110.50 463.97,110.50 464.14,111.73 464.30,113.57 464.47,115.01 464.64,115.29 464.80,114.30 464.97,112.57 465.13,111.00 465.30,110.36 465.46,111.01 465.63,112.64 465.79,114.39 465.96,115.30 466.12,114.91 466.29,113.46 466.45,111.72 466.62,110.54 466.78,110.55 466.95,111.76 467.11,113.57 467.28,114.98 467.45,115.24 467.61,114.26 467.78,112.57 467.94,111.02 468.11,110.40 468.27,111.05 468.44,112.66 468.60,114.37 468.77,115.25 468.93,114.87 469.10,113.44 469.26,111.73 469.43,110.58 469.59,110.60 469.76,111.79 469.92,113.56 470.09,114.94 470.26,115.20 470.42,114.23 470.59,112.57 470.75,111.05 470.92,110.45 471.08,111.09 471.25,112.67 471.41,114.35 471.58,115.21 471.74,114.82 471.91,113.43 472.07,111.74 472.24,110.62 472.40,110.64 472.57,111.82 472.73,113.56 472.90,114.91 473.06,115.15 473.23,114.20 473.40,112.56 473.56,111.08 473.73,110.49 473.89,111.13 474.06,112.69 474.22,114.33 474.39,115.17 474.55,114.78 474.72,113.41 474.88,111.75 475.05,110.66 475.21,110.68 475.38,111.85 475.54,113.56 475.71,114.88 475.87,115.11 476.04,114.17 476.21,112.56 476.37,111.10 476.54,110.54 476.70,111.17 476.87,112.70 477.03,114.31 477.20,115.13 477.36,114.74 477.53,113.39 477.69,111.77 477.86,110.70 478.02,110.73 478.19,111.88 478.35,113.55 478.52,114.84 478.68,115.07 478.85,114.14 479.01,112.56 479.18,111.13 479.35,110.58 479.51,111.21 479.68,112.71 479.84,114.29 480.01,115.09 480.17,114.71 480.34,113.37 480.50,111.78 480.67,110.73 480.83,110.77 481.00,111.90 481.16,113.55 481.33,114.81 481.49,115.02 481.66,114.11 481.82,112.55 481.99,111.16 482.16,110.62 482.32,111.24 482.49,112.72 482.65,114.27 482.82,115.05 482.98,114.67 483.15,113.35 483.31,111.79 483.48,110.77 483.64,110.81 483.81,111.93 483.97,113.54 484.14,114.78 484.30,114.98 484.47,114.08 484.63,112.55 484.80,111.18 484.96,110.66 485.13,111.28 485.30,112.73 485.46,114.25 485.63,115.01 485.79,114.63 485.96,113.34 486.12,111.80 486.29,110.80 486.45,110.85 486.62,111.96 486.78,113.54 486.95,114.75 487.11,114.94 487.28,114.05 487.44,112.55 487.61,111.21 487.77,110.70 487.94,111.32 488.11,112.75 488.27,114.23 488.44,114.97 488.60,114.59 488.77,113.32 488.93,111.81 489.10,110.84 489.26,110.89 489.43,111.98 489.59,113.54 489.76,114.72 489.92,114.90 490.09,114.02 490.25,112.55 490.42,111.23 490.58,110.74 490.75,111.35 490.92,112.76 491.08,114.21 491.25,114.94 491.41,114.56 491.58,113.30 491.74,111.83 491.91,110.87 492.07,110.93 492.24,112.01 492.40,113.53 492.57,114.69 492.73,114.86 492.90,113.99 493.06,112.54 493.23,111.26 493.39,110.78 493.56,111.38 493.72,112.77 493.89,114.20 494.06,114.90 494.22,114.52 494.39,113.29 494.55,111.84 494.72,110.91 494.88,110.97 495.05,112.03 495.21,113.53 495.38,114.66 495.54,114.83 495.71,113.96 495.87,112.54 496.04,111.28 496.20,110.82 496.37,111.42 496.53,112.78 496.70,114.18 496.87,114.86 497.03,114.49 497.20,113.27 497.36,111.85 497.53,110.94 497.69,111.01 497.86,112.05 498.02,113.52 498.19,114.63 498.35,114.79 498.52,113.94 498.68,112.54 498.85,111.30 499.01,110.86 499.18,111.45 499.34,112.79 499.51,114.16 499.67,114.83 499.84,114.45 500.01,113.26 500.17,111.86 500.34,110.97 500.50,111.05 500.67,112.07 500.83,113.52 501.00,114.60 501.16,114.75 501.33,113.91 501.49,112.54 501.66,111.33 501.82,110.89 501.99,111.48 502.15,112.80 502.32,114.14 502.48,114.79 502.65,114.42 502.82,113.24 502.98,111.87 503.15,111.00 503.31,111.08 503.48,112.10 503.64,113.51 503.81,114.57 503.97,114.72 504.14,113.89 504.30,112.54 504.47,111.35 504.63,110.93 504.80,111.51 504.96,112.81 505.13,114.12 505.29,114.76 505.46,114.39 505.62,113.23 505.79,111.88 505.96,111.03 506.12,111.12 506.29,112.12 506.45,113.51 506.62,114.55 506.78,114.68 506.95,113.86 507.11,112.53 507.28,111.37 507.44,110.97 507.61,111.54 507.77,112.82 507.94,114.11 508.10,114.73 508.27,114.36 508.43,113.21 508.60,111.90 508.77,111.07 508.93,111.16 509.10,112.14 509.26,113.51 509.43,114.52 509.59,114.64 509.76,113.84 509.92,112.53 510.09,111.39 510.25,111.00 510.42,111.57 510.58,112.82 510.75,114.09 510.91,114.69 511.08,114.32 511.24,113.20 511.41,111.91 511.58,111.10 511.74,111.19 511.91,112.16 512.07,113.50 512.24,114.49 512.40,114.61 512.57,113.81 512.73,112.53 512.90,111.42 513.06,111.04 513.23,111.60 513.39,112.83 513.56,114.07 513.72,114.66 513.89,114.29 514.05,113.19 514.22,111.92 514.38,111.13 514.55,111.22 514.72,112.18 514.88,113.50 515.05,114.47 515.21,114.58 515.38,113.79 515.54,112.53 515.71,111.44 515.87,111.07 516.04,111.63 516.20,112.84 516.37,114.06 516.53,114.63 516.70,114.26 516.86,113.18 517.03,111.93 517.19,111.15 517.36,111.26 517.53,112.20 517.69,113.49 517.86,114.44 518.02,114.54 518.19,113.77 518.35,112.53 518.52,111.46 518.68,111.10 518.85,111.66 519.01,112.85 519.18,114.04 519.34,114.60 519.51,114.23 519.67,113.16 519.84,111.94 520.00,111.18 520.17,111.29 520.33,112.22 520.50,113.49 520.67,114.41 520.83,114.51 521.00,113.75 521.16,112.53 521.33,111.48 521.49,111.14 521.66,111.69 521.82,112.86 521.99,114.02 522.15,114.56 522.32,114.20 522.48,113.15 522.65,111.95 522.81,111.21 522.98,111.32 523.14,112.24 523.31,113.48 523.48,114.39 523.64,114.48 523.81,113.72 523.97,112.53 524.14,111.50 524.30,111.17 524.47,111.71 524.63,112.86 524.80,114.01 524.96,114.53 525.13,114.18 525.29,113.14 525.46,111.96 525.62,111.24 525.79,111.35 525.95,112.25 526.12,113.48 526.28,114.36 526.45,114.45 526.62,113.70 526.78,112.53 526.95,111.52 527.11,111.20 527.28,111.74 527.44,112.87 527.61,113.99 527.77,114.50 527.94,114.15 528.10,113.13 528.27,111.97 528.43,111.27 528.60,111.38 528.76,112.27 528.93,113.47 529.09,114.34 529.26,114.42 529.43,113.68 529.59,112.53 529.76,111.54 529.92,111.23 530.09,111.76 530.25,112.88 530.42,113.98 530.58,114.48 530.75,114.12 530.91,113.12 531.08,111.98 531.24,111.30 531.41,111.41 531.57,112.29 531.74,113.47 531.90,114.32 532.07,114.39 532.24,113.66 532.40,112.53 532.57,111.56 532.73,111.26 532.90,111.79 533.06,112.88 533.23,113.96 533.39,114.45 533.56,114.09 533.72,113.11 533.89,111.99 534.05,111.32 534.22,111.44 534.38,112.31 534.55,113.46 534.71,114.29 534.88,114.36 535.04,113.64 535.21,112.53 535.38,111.58 535.54,111.29 535.71,111.81 535.87,112.89 536.04,113.95 536.20,114.42 536.37,114.07 536.53,113.10 536.70,112.00 536.86,111.35 537.03,111.47 537.19,112.32 537.36,113.46 537.52,114.27 537.69,114.33 537.85,113.62 538.02,112.53 538.19,111.60 538.35,111.32 538.52,111.84 538.68,112.90 538.85,113.93 539.01,114.39 539.18,114.04 539.34,113.09 539.51,112.01 539.67,111.37 539.84,111.50 540.00,112.34 540.17,113.45 540.33,114.25 540.50,114.30 540.66,113.60 540.83,112.53 540.99,111.62 541.16,111.35 541.33,111.86 541.49,112.90 541.66,113.92 541.82,114.36 541.99,114.02 542.15,113.08 542.32,112.02 542.48,111.40 542.65,111.53 542.81,112.35 542.98,113.45 543.14,114.22 543.31,114.27 543.47,113.59 543.64,112.53 543.80,111.64 543.97,111.38 544.14,111.89 544.30,112.91 544.47,113.90 544.63,114.34 544.80,113.99 544.96,113.07 545.13,112.03 545.29,111.42 545.46,111.56 545.62,112.37 545.79,113.44 545.95,114.20 546.12,114.24 546.28,113.57 546.45,112.53 546.61,111.66 546.78,111.41 546.94,111.91 547.11,112.91 547.28,113.89 547.44,114.31 547.61,113.97 547.77,113.06 547.94,112.04 548.10,111.45 548.27,111.58 548.43,112.38 548.60,113.44 548.76,114.18 548.93,114.22 549.09,113.55 549.26,112.53 549.42,111.68 549.59,111.43 549.75,111.93 549.92,112.92 550.09,113.87 550.25,114.28 550.42,113.94 550.58,113.05 550.75,112.05 550.91,111.47 551.08,111.61 551.24,112.40 551.41,113.43 551.57,114.16 551.74,114.19 551.90,113.53 552.07,112.53 552.23,111.70 552.40,111.46 552.56,111.95 552.73,112.92 552.90,113.86 553.06,114.26 553.23,113.92 553.39,113.04 553.56,112.06 553.72,111.50 553.89,111.63 554.05,112.41 554.22,113.43 554.38,114.14 554.55,114.17 554.71,113.52 554.88,112.53 555.04,111.71 555.21,111.49 555.37,111.97 555.54,112.93 555.70,113.84 555.87,114.23 556.04,113.90 556.20,113.03 556.37,112.07 556.53,111.52 556.70,111.66 556.86,112.43 557.03,113.42 557.19,114.11 557.36,114.14 557.52,113.50 557.69,112.53 557.85,111.73 558.02,111.51 558.18,111.99 558.35,112.93 558.51,113.83 558.68,114.21 558.85,113.88 559.01,113.02 559.18,112.08 559.34,111.54 559.51,111.68 559.67,112.44 559.84,113.42 560.00,114.09 560.17,114.12 560.33,113.48 560.50,112.53 560.66,111.75 560.83,111.54 560.99,112.01 561.16,112.94 561.32,113.82 561.49,114.18 561.65,113.85 561.82,113.01 561.99,112.09 562.15,111.57 562.32,111.71 562.48,112.45 562.65,113.41 562.81,114.07 562.98,114.09 563.14,113.47 563.31,112.53 563.47,111.77 563.64,111.56 563.80,112.03 563.97,112.94 564.13,113.80 564.30,114.16 564.46,113.83 564.63,113.00 564.80,112.10 564.96,111.59 565.13,111.73 565.29,112.47 565.46,113.41 565.62,114.05 565.79,114.07 565.95,113.45 566.12,112.53 566.28,111.78 566.45,111.59 566.61,112.05 566.78,112.94 566.94,113.79 567.11,114.14 567.27,113.81 567.44,113.00 567.60,112.11 567.77,111.61 567.94,111.75 568.10,112.48 568.27,113.40 568.43,114.03 568.60,114.04 568.76,113.44 568.93,112.53 569.09,111.80 569.26,111.61 569.42,112.07 569.59,112.95 569.75,113.77 569.92,114.11 570.08,113.79 570.25,112.99 570.41,112.12 570.58,111.63 570.75,111.78 570.91,112.49 571.08,113.40 571.24,114.01 571.41,114.02 571.57,113.42 571.74,112.53 571.90,111.82 572.07,111.63 572.23,112.09 572.40,112.95 572.56,113.76 572.73,114.09 572.89,113.77 573.06,112.98 573.22,112.13 573.39,111.65 573.56,111.80 573.72,112.50 573.89,113.39 574.05,114.00 574.22,114.00 574.38,113.41 574.55,112.54 574.71,111.83 574.88,111.66 575.04,112.11 575.21,112.96 575.37,113.75 575.54,114.07 575.70,113.75 575.87,112.98 576.03,112.14 576.20,111.67 576.36,111.82 576.53,112.51 576.70,113.39 576.86,113.98 577.03,113.97 577.19,113.39 577.36,112.54 577.52,111.85 577.69,111.68 577.85,112.13 578.02,112.96 578.18,113.74 578.35,114.05 578.51,113.73 578.68,112.97 578.84,112.15 579.01,111.70 579.17,111.84 579.34,112.52 579.51,113.38 579.67,113.96 579.84,113.95 580.00,113.38 580.17,112.54 580.33,111.86 580.50,111.70 580.66,112.14 580.83,112.96 580.99,113.72 581.16,114.02 581.32,113.71 581.49,112.96 581.65,112.16 581.82,111.72 581.98,111.86 582.15,112.54 582.31,113.38 582.48,113.94 582.65,113.93 582.81,113.36 582.98,112.54 583.14,111.88 583.31,111.72 583.47,112.16 583.64,112.96 583.80,113.71 583.97,114.00 584.13,113.69 584.30,112.96 584.46,112.17 584.63,111.74 584.79,111.89 584.96,112.55 585.12,113.37 585.29,113.92 585.46,113.91 585.62,113.35 585.79,112.54 585.95,111.89 586.12,111.75 586.28,112.18 586.45,112.97 586.61,113.70 586.78,113.98 586.94,113.68 587.11,112.95 587.27,112.18 587.44,111.75 587.60,111.91 587.77,112.56 587.93,113.37 588.10,113.90 588.26,113.89 588.43,113.34 588.60,112.54 588.76,111.91 588.93,111.77 589.09,112.19 589.26,112.97 589.42,113.69 589.59,113.96 589.75,113.66 589.92,112.94 590.08,112.18 590.25,111.77 590.41,111.93 590.58,112.57 590.74,113.36 590.91,113.89 591.07,113.87 591.24,113.33 591.41,112.54 591.57,111.92 591.74,111.79 591.90,112.21 592.07,112.97 592.23,113.67 592.40,113.94 592.56,113.64 592.73,112.94 592.89,112.19 593.06,111.79 593.22,111.94 593.39,112.58 593.55,113.36 593.72,113.87 593.88,113.85 594.05,113.31 594.22,112.54 594.38,111.94 594.55,111.81 594.71,112.22 594.88,112.98 595.04,113.66 595.21,113.92 595.37,113.62 595.54,112.93 595.70,112.20 595.87,111.81 596.03,111.96 596.20,112.59 596.36,113.35 596.53,113.85 596.69,113.83 596.86,113.30 597.02,112.55 597.19,111.95 597.36,111.83 597.52,112.24 597.69,112.98 597.85,113.65 598.02,113.90 598.18,113.61 598.35,112.93 598.51,112.21 598.68,111.83 598.84,111.98 599.01,112.59 599.17,113.35 599.34,113.84 599.50,113.81 599.67,113.29 599.83,112.55 600.00,111.97 600.17,111.85 600.33,112.25 600.50,112.98 600.66,113.64 600.83,113.88 600.99,113.59 601.16,112.92 601.32,112.22 601.49,111.85 601.65,112.00 601.82,112.60 601.98,113.34 602.15,113.82 602.31,113.79 602.48,113.28 602.64,112.55 602.81,111.98 602.97,111.87 603.14,112.27 603.31,112.98 603.47,113.63 603.64,113.87 603.80,113.58 603.97,112.92 604.13,112.23 604.30,111.87 604.46,112.02 604.63,112.61 604.79,113.34 604.96,113.80 605.12,113.77 605.29,113.27 605.45,112.55 605.62,112.00 605.78,111.89 605.95,112.28 606.12,112.98 606.28,113.62 606.45,113.85 606.61,113.56 606.78,112.91 606.94,112.24 607.11,111.88 607.27,112.04 607.44,112.62 607.60,113.33 607.77,113.79 607.93,113.75 608.10,113.26 608.26,112.55 608.43,112.01 608.59,111.90 608.76,112.30 608.92,112.99 609.09,113.61 609.26,113.83 609.42,113.54 609.59,112.91 609.75,112.24 609.92,111.90 610.08,112.05 610.25,112.63 610.41,113.33 610.58,113.77 610.74,113.74 610.91,113.24 611.07,112.56 611.24,112.02 611.40,111.92 611.57,112.31 611.73,112.99 611.90,113.59 612.07,113.81 612.23,113.53 612.40,112.90 612.56,112.25 612.73,111.92 612.89,112.07 613.06,112.64 613.22,113.32 613.39,113.76 613.55,113.72 613.72,113.23 613.88,112.56 614.05,112.04 614.21,111.94 614.38,112.32 614.54,112.99 614.71,113.58 614.88,113.79 615.04,113.51 615.21,112.90 615.37,112.26 615.54,111.93 615.70,112.09 615.87,112.65 616.03,113.32 616.20,113.74 616.36,113.70 616.53,113.22 616.69,112.56 616.86,112.05 617.02,111.96 617.19,112.34 617.35,112.99 617.52,113.57 617.68,113.78 617.85,113.50 618.02,112.89 618.18,112.27 618.35,111.95 618.51,112.10 618.68,112.65 618.84,113.31 619.01,113.73 619.17,113.69 619.34,113.21 619.50,112.56 619.67,112.06 619.83,111.98 620.00,112.35 620.16,112.99 620.33,113.56 620.49,113.76 620.66,113.49 620.83,112.89 620.99,112.28 621.16,111.97 621.32,112.12 621.49,112.66 621.65,113.31 621.82,113.71 621.98,113.67 622.15,113.20 622.31,112.56 622.48,112.07 622.64,111.99 622.81,112.36 622.97,112.99 623.14,113.55 623.30,113.74 623.47,113.47 623.63,112.88 623.80,112.28 623.97,111.98 624.13,112.14 624.30,112.67 624.46,113.30 624.63,113.70 624.79,113.65 624.96,113.19 625.12,112.56 625.29,112.09 625.45,112.01 625.62,112.37 625.78,112.99 625.95,113.54 626.11,113.73 626.28,113.46 626.44,112.88 626.61,112.29 626.78,112.00 626.94,112.15 627.11,112.68 627.27,113.30 627.44,113.68 627.60,113.64 627.77,113.19 627.93,112.57 628.10,112.10 628.26,112.03 628.43,112.39 628.59,113.00 628.76,113.53 628.92,113.71 629.09,113.44 629.25,112.88 629.42,112.30 629.58,112.01 629.75,112.17 629.92,112.68 630.08,113.29 630.25,113.67 630.41,113.62 630.58,113.18 630.74,112.57 630.91,112.11 631.07,112.04 631.24,112.40 631.40,113.00 631.57,113.52 631.73,113.70 631.90,113.43 632.06,112.87 632.23,112.31 632.39,112.03 632.56,112.18 632.73,112.69 632.89,113.29 633.06,113.66 633.22,113.61 633.39,113.17 633.55,112.57 633.72,112.12 633.88,112.06 634.05,112.41 634.21,113.00 634.38,113.51 634.54,113.68 634.71,113.42 634.87,112.87 635.04,112.31 635.20,112.04 635.37,112.19 635.54,112.70 635.70,113.28 635.87,113.64 636.03,113.59 636.20,113.16 636.36,112.57 636.53,112.13 636.69,112.07 636.86,112.42 637.02,113.00 637.19,113.50 637.35,113.66 637.52,113.41 637.68,112.86 637.85,112.32 638.01,112.06 638.18,112.21 638.34,112.70 638.51,113.28 638.68,113.63 638.84,113.58 639.01,113.15 639.17,112.57 639.34,112.15 639.50,112.09 639.67,112.43 639.83,113.00 640.00,113.49 640.16,113.65 640.33,113.39 640.49,112.86 640.66,112.33 640.82,112.07 640.99,112.22 641.15,112.71 641.32,113.27 641.49,113.62 641.65,113.56 641.82,113.14 641.98,112.58 642.15,112.16 642.31,112.10 642.48,112.44 642.64,113.00 642.81,113.48 642.97,113.64 643.14,113.38 643.30,112.86 643.47,112.34 643.63,112.08 643.80,112.24 643.96,112.71 644.13,113.27 644.29,113.60 644.46,113.55 644.63,113.13 644.79,112.58 644.96,112.17 645.12,112.12 645.29,112.45 645.45,113.00 645.62,113.47 645.78,113.62 645.95,113.37 646.11,112.85 646.28,112.34 646.44,112.10 646.61,112.25 646.77,112.72 646.94,113.26 647.10,113.59 647.27,113.53 647.44,113.13 647.60,112.58 647.77,112.18 647.93,112.13 648.10,112.46 648.26,113.00 648.43,113.46 648.59,113.61 648.76,113.36 648.92,112.85 649.09,112.35 649.25,112.11 649.42,112.26 649.58,112.73 649.75,113.26 649.91,113.58 650.08,113.52 650.24,113.12 650.41,112.58 650.58,112.19 650.74,112.15 650.91,112.47 651.07,113.00 651.24,113.46 651.40,113.59 651.57,113.35 651.73,112.85 651.90,112.36 652.06,112.13 652.23,112.28 652.39,112.73 652.56,113.25 652.72,113.57 652.89,113.51 653.05,113.11 653.22,112.59 653.39,112.20 653.55,112.16 653.72,112.48 653.88,113.00 654.05,113.45 654.21,113.58 654.38,113.34 654.54,112.85 654.71,112.36 654.87,112.14 655.04,112.29 655.20,112.74 655.37,113.25 655.53,113.55 655.70,113.49 655.86,113.10 656.03,112.59 656.20,112.21 656.36,112.17 656.53,112.49 656.69,113.00 656.86,113.44 657.02,113.57 657.19,113.32 657.35,112.84 657.52,112.37 657.68,112.15 657.85,112.30 658.01,112.74 658.18,113.24 658.34,113.54 658.51,113.48 658.67,113.10 658.84,112.59 659.00,112.22 659.17,112.19 659.34,112.50 659.50,113.00 659.67,113.43 659.83,113.55 660.00,113.31 660.16,112.84 660.33,112.38 660.49,112.16 660.66,112.31 660.82,112.75 660.99,113.24 661.15,113.53 661.32,113.47 661.48,113.09 661.65,112.59 661.81,112.23 661.98,112.20 662.15,112.51 662.31,113.00 662.48,113.42 662.64,113.54 662.81,113.30 662.97,112.84 663.14,112.38 663.30,112.18 663.47,112.32 663.63,112.75 663.80,113.24 663.96,113.52 664.13,113.46 664.29,113.08 664.46,112.59 664.62,112.24 664.79,112.21 664.95,112.52 665.12,113.00 665.29,113.41 665.45,113.53 665.62,113.29 665.78,112.84 665.95,112.39 666.11,112.19 666.28,112.34 666.44,112.76 666.61,113.23 666.77,113.51 666.94,113.44 667.10,113.08 667.27,112.60 667.43,112.25 667.60,112.22 667.76,112.53 667.93,113.00 668.10,113.40 668.26,113.51 668.43,113.28 668.59,112.83 668.76,112.40 668.92,112.20 669.09,112.35 669.25,112.76 669.42,113.23 669.58,113.50 669.75,113.43 669.91,113.07 670.08,112.60 670.24,112.26 670.41,112.24 670.57,112.54 670.74,113.00 670.90,113.39 671.07,113.50 671.24,113.27 671.40,112.83 671.57,112.40 671.73,112.21 671.90,112.36 672.06,112.77 672.23,113.22 672.39,113.49 672.56,113.42 672.72,113.06 672.89,112.60 673.05,112.27 673.22,112.25 673.38,112.54 673.55,113.00 673.71,113.39 673.88,113.49 674.05,113.26 674.21,112.83 674.38,112.41 674.54,112.22 674.71,112.37 674.87,112.77 675.04,113.22 675.20,113.48 675.37,113.41 675.53,113.06 675.70,112.60 675.86,112.28 676.03,112.26 676.19,112.55 676.36,113.00 676.52,113.38 676.69,113.48 676.86,113.26 677.02,112.83 677.19,112.42 677.35,112.24 677.52,112.38 677.68,112.77 677.85,113.21 678.01,113.46 678.18,113.40 678.34,113.05 678.51,112.61 678.67,112.29 678.84,112.27 679.00,112.56 679.17,113.00 679.33,113.37 679.50,113.47 679.66,113.25 679.83,112.83 680.00,112.42 680.16,112.25 680.33,112.39 680.49,112.78 680.66,113.21 680.82,113.45 680.99,113.39 681.15,113.05 681.32,112.61 681.48,112.30 681.65,112.28 681.81,112.57 681.98,113.00 682.14,113.36 682.31,113.46 682.47,113.24 682.64,112.82 682.81,112.43 682.97,112.26 683.14,112.40 683.30,112.78 683.47,113.20 683.63,113.44 683.80,113.38 683.96,113.04 684.13,112.61 684.29,112.31 684.46,112.30 684.62,112.58 684.79,113.00 684.95,113.35 685.12,113.44 685.28,113.23 685.45,112.82 685.61,112.43 685.78,112.27 685.95,112.41 686.11,112.79 686.28,113.20 686.44,113.43 686.61,113.37 686.77,113.03 686.94,112.61 687.10,112.32 687.27,112.31 687.43,112.58 687.60,113.00 687.76,113.35 687.93,113.43 688.09,113.22 688.26,112.82 688.42,112.44 688.59,112.28 688.76,112.42 688.92,112.79 689.09,113.20 689.25,113.42 689.42,113.36 689.58,113.03 689.75,112.61 689.91,112.33 690.08,112.32 690.24,112.59 690.41,113.00 690.57,113.34 690.74,113.42 690.90,113.21 691.07,112.82 691.23,112.45 691.40,112.29 691.56,112.43 691.73,112.79 691.90,113.19 692.06,113.41 692.23,113.35 692.39,113.02 692.56,112.62 692.72,112.34 692.89,112.33 693.05,112.60 693.22,113.00 693.38,113.33 693.55,113.41 693.71,113.20 693.88,112.82 694.04,112.45 694.21,112.30 694.37,112.44 694.54,112.80 694.71,113.19 694.87,113.40 695.04,113.34 695.20,113.02 695.37,112.62 695.53,112.35 695.70,112.34 695.86,112.60 696.03,113.00 696.19,113.32 696.36,113.40 696.52,113.20 696.69,112.81 696.85,112.46 697.02,112.31 697.18,112.45 697.35,112.80 697.52,113.18 697.68,113.40 697.85,113.33 698.01,113.01 698.18,112.62 698.34,112.35 698.51,112.35 698.67,112.61 698.84,113.00 699.00,113.32 699.17,113.39 699.33,113.19 699.50,112.81 699.66,112.46 699.83,112.32 699.99,112.46 700.16,112.80 700.32,113.18 700.49,113.39 700.66,113.32 700.82,113.01 700.99,112.62 701.15,112.36 701.32,112.36 701.48,112.62 701.65,113.00 701.81,113.31 701.98,113.38 702.14,113.18 702.31,112.81 702.47,112.47 702.64,112.33 702.80,112.47 702.97,112.81 703.13,113.18 703.30,113.38 703.47,113.31 703.63,113.00 703.80,112.63 703.96,112.37 704.13,112.37 704.29,112.62 704.46,113.00 704.62,113.30 704.79,113.37 704.95,113.17 705.12,112.81 705.28,112.48 705.45,112.34 705.61,112.47 705.78,112.81 705.94,113.17 706.11,113.37 706.27,113.30 706.44,113.00 706.61,112.63 706.77,112.38 706.94,112.38 707.10,112.63 707.27,113.00 707.43,113.30 707.60,113.36 707.76,113.16 707.93,112.81 708.09,112.48 708.26,112.35 708.42,112.48 708.59,112.81 708.75,113.17 708.92,113.36 709.08,113.29 709.25,112.99 709.42,112.63 709.58,112.39 709.75,112.39 709.91,112.64 710.08,113.00 710.24,113.29 710.41,113.35 710.57,113.16 710.74,112.81 710.90,112.49 711.07,112.36 711.23,112.49 711.40,112.82 711.56,113.16 711.73,113.35 711.89,113.28 712.06,112.99 712.22,112.63 712.39,112.39 712.56,112.40 712.72,112.64 712.89,113.00 713.05,113.28 713.22,113.34 713.38,113.15 713.55,112.81 713.71,112.49 713.88,112.37 714.04,112.50 714.21,112.82 714.37,113.16 714.54,113.34 714.70,113.27 714.87,112.99 715.03,112.64 715.20,112.40 715.37,112.41 715.53,112.65 715.70,113.00 715.86,113.28 716.03,113.33 716.19,113.14 716.36,112.81 716.52,112.50 716.69,112.38 716.85,112.51 717.02,112.82 717.18,113.16 717.35,113.33 717.51,113.26 717.68,112.98 717.84,112.64 718.01,112.41 718.18,112.42 718.34,112.65 718.51,113.00 718.67,113.27 718.84,113.33 719.00,113.14 719.17,112.81 719.33,112.50 719.50,112.38 719.66,112.51 719.83,112.82 719.99,113.15 720.16,113.33 720.32,113.25 720.49,112.98 720.65,112.64 720.82,112.42 720.98,112.42 721.15,112.66 721.32,113.00 721.48,113.26 721.65,113.32 721.81,113.13 721.98,112.80 722.14,112.51 722.31,112.39 722.47,112.52 722.64,112.83 722.80,113.15 722.97,113.32 723.13,113.25 723.30,112.97 723.46,112.64 723.63,112.42 723.79,112.43 723.96,112.66 724.13,113.00 724.29,113.26 724.46,113.31 724.62,113.12 724.79,112.80 724.95,112.51 725.12,112.40 725.28,112.53 725.45,112.83 725.61,113.15 725.78,113.31 725.94,113.24 726.11,112.97 726.27,112.64 726.44,112.43 726.60,112.44 726.77,112.67 726.93,113.00 727.10,113.25 727.27,113.30 727.43,113.12 727.60,112.80 727.76,112.52 727.93,112.41 728.09,112.54 728.26,112.83 728.42,113.14 728.59,113.30 728.75,113.23 728.92,112.97 729.08,112.65 729.25,112.44 729.41,112.45 729.58,112.67 729.74,113.00 729.91,113.24 730.08,113.29 730.24,113.11 730.41,112.80 730.57,112.52 730.74,112.42 730.90,112.54 731.07,112.83 731.23,113.14 731.40,113.29 731.56,113.22 731.73,112.96 731.89,112.65 732.06,112.45 732.22,112.46 732.39,112.68 732.55,113.00 732.72,113.24 732.88,113.28 733.05,113.11 733.22,112.80 733.38,112.53 733.55,112.43 733.71,112.55 733.88,112.84 734.04,113.13 734.21,113.29 734.37,113.21 734.54,112.96 734.70,112.65 734.87,112.45 735.03,112.47 735.20,112.68 735.36,112.99 735.53,113.23 735.69,113.27 735.86,113.10 736.03,112.80 736.19,112.53 736.36,112.43 736.52,112.56 736.69,112.84 736.85,113.13 737.02,113.28 737.18,113.21 737.35,112.95 737.51,112.65 737.68,112.46 737.84,112.47 738.01,112.69 738.17,112.99 738.34,113.23 738.50,113.27 738.67,113.09 738.84,112.80 739.00,112.54 739.17,112.44 739.33,112.56 739.50,112.84 739.66,113.13 739.83,113.27 739.99,113.20 740.16,112.95 740.32,112.66 740.49,112.47 740.65,112.48 740.82,112.69 740.98,112.99 741.15,113.22 741.31,113.26 741.48,113.09 741.64,112.80 741.81,112.54 741.98,112.45 742.14,112.57 742.31,112.84 742.47,113.12 742.64,113.26 742.80,113.19 742.97,112.95 743.13,112.66 743.30,112.47 743.46,112.49 743.63,112.70 743.79,112.99 743.96,113.22 744.12,113.25 744.29,113.08 744.45,112.80 744.62,112.55 744.79,112.46 744.95,112.58 745.12,112.85 745.28,113.12 745.45,113.26 745.61,113.19 745.78,112.94 745.94,112.66 746.11,112.48 746.27,112.50 746.44,112.70 746.60,112.99 746.77,113.21 746.93,113.24 747.10,113.08 747.26,112.80 747.43,112.55 747.59,112.46 747.76,112.58 747.93,112.85 748.09,113.12 748.26,113.25 748.42,113.18 748.59,112.94 748.75,112.66 748.92,112.49 749.08,112.50 749.25,112.71 749.41,112.99 749.58,113.20 749.74,113.24 749.91,113.07 750.07,112.80 750.24,112.56 750.40,112.47 750.57,112.59 750.74,112.85 750.90,113.11 751.07,113.24 751.23,113.17 751.40,112.94 751.56,112.66 751.73,112.49 751.89,112.51 752.06,112.71 752.22,112.99 752.39,113.20 752.55,113.23 752.72,113.07 752.88,112.80 753.05,112.56 753.21,112.48 753.38,112.60 753.54,112.85 753.71,113.11 753.88,113.24 754.04,113.17 754.21,112.94 754.37,112.67 754.54,112.50 754.70,112.52 754.87,112.72 755.03,112.99 755.20,113.19 755.36,113.22 755.53,113.06 755.69,112.80 755.86,112.56 756.02,112.49 756.19,112.60 756.35,112.85 756.52,113.11 756.69,113.23 756.85,113.16 757.02,112.93 757.18,112.67 757.35,112.50 757.51,112.52 757.68,112.72 757.84,112.99 758.01,113.19 758.17,113.21 758.34,113.06 758.50,112.80 758.67,112.57 758.83,112.49 759.00,112.61 759.16,112.85 759.33,113.10 759.50,113.22 759.66,113.15 759.83,112.93 759.99,112.67 760.16,112.51 760.32,112.53 760.49,112.72 760.65,112.99 760.82,113.18 760.98,113.21 761.15,113.05 761.31,112.80 761.48,112.57 761.64,112.50 761.81,112.61 761.97,112.86 762.14,113.10 762.30,113.22 762.47,113.15 762.64,112.93 762.80,112.67 762.97,112.52 763.13,112.54 763.30,112.73 763.46,112.99 763.63,113.18 763.79,113.20 763.96,113.05 764.12,112.80 764.29,112.58 764.45,112.51 764.62,112.62 764.78,112.86 764.95,113.10 765.11,113.21 765.28,113.14 765.45,112.92 765.61,112.68 765.78,112.52 765.94,112.54 766.11,112.73 766.27,112.99 766.44,113.17 766.60,113.19 766.77,113.04 766.93,112.80 767.10,112.58 767.26,112.51 767.43,112.62 767.59,112.86 767.76,113.09 767.92,113.20 768.09,113.13 768.25,112.92 768.42,112.68 768.59,112.53 768.75,112.55 768.92,112.74 769.08,112.98 769.25,113.17 769.41,113.19 769.58,113.04 769.74,112.79 769.91,112.59 770.07,112.52 770.24,112.63 770.40,112.86 770.57,113.09 770.73,113.20 770.90,113.13 771.06,112.92 771.23,112.68 771.40,112.53 771.56,112.56 771.73,112.74 771.89,112.98 772.06,113.16 772.22,113.18 772.39,113.03 772.55,112.79 772.72,112.59 772.88,112.53 773.05,112.64 773.21,112.86 773.38,113.09 773.54,113.19 773.71,113.12 773.87,112.92 774.04,112.68 774.20,112.54 774.37,112.56 774.54,112.74 774.70,112.98 774.87,113.16 775.03,113.18 775.20,113.03 775.36,112.79 775.53,112.59 775.69,112.53 775.86,112.64 776.02,112.86 776.19,113.08 776.35,113.19 776.52,113.12 776.68,112.91 776.85,112.68 777.01,112.54 777.18,112.57"/>
<polyline class="d" stroke="#d95319" stroke-width="1.9" points="116.06,694.92 116.23,714.43 116.39,718.56 116.56,715.46 116.72,704.80 116.89,682.46 117.05,646.84 117.22,624.69 117.38,667.17 117.55,704.79 117.71,715.99 117.88,716.87 118.04,710.90 118.21,696.07 118.37,668.57 118.54,635.18 118.70,638.89 118.87,688.22 119.04,710.54 119.20,716.24 119.37,714.07 119.53,704.60 119.70,684.80 119.86,653.67 120.03,632.01 120.19,662.52 120.36,700.21 120.52,713.35 120.69,715.26 120.85,710.14 121.02,696.76 121.18,672.20 121.35,642.07 121.51,640.97 121.68,683.00 121.84,707.17 122.01,714.25 122.18,712.94 122.34,704.50 122.51,686.67 122.67,658.76 122.84,637.56 123.00,659.82 123.17,696.25 123.33,710.94 123.50,713.81 123.66,709.47 123.83,697.31 123.99,675.05 124.16,647.46 124.32,643.22 124.49,679.01 124.65,704.20 124.82,712.47 124.99,711.94 125.15,704.38 125.32,688.11 125.48,662.69 125.65,642.06 125.81,658.38 125.98,692.84 126.14,708.75 126.31,712.48 126.47,708.84 126.64,697.72 126.80,677.33 126.97,651.80 127.13,645.44 127.30,676.00 127.46,701.57 127.63,710.84 127.79,711.02 127.96,704.22 128.13,689.24 128.29,665.80 128.46,645.83 128.62,657.75 128.79,689.96 128.95,706.74 129.12,711.25 129.28,708.25 129.45,698.02 129.61,679.17 129.78,655.36 129.94,647.58 130.11,673.75 130.27,699.23 130.44,709.34 130.60,710.15 130.77,704.02 130.94,690.12 131.10,668.34 131.27,649.04 131.43,657.64 131.60,687.52 131.76,704.92 131.93,710.11 132.09,707.69 132.26,698.23 132.42,680.67 132.59,658.32 132.75,649.59 132.92,672.10 133.08,697.16 133.25,707.95 133.41,709.33 133.58,703.79 133.74,690.82 133.91,670.44 134.08,651.83 134.24,657.86 134.41,685.49 134.57,703.26 134.74,709.04 134.90,707.14 135.07,698.36 135.23,681.92 135.40,660.82 135.56,651.47 135.73,670.90 135.89,695.32 136.06,706.66 136.22,708.55 136.39,703.54 136.55,691.38 136.72,672.20 136.89,654.25 137.05,658.29 137.22,683.79 137.38,701.74 137.55,708.05 137.71,706.61 137.88,698.43 138.04,682.95 138.21,662.96 138.37,653.22 138.54,670.06 138.70,693.69 138.87,705.46 139.03,707.80 139.20,703.27 139.36,691.82 139.53,673.69 139.70,656.39 139.86,658.85 140.03,682.38 140.19,700.36 140.36,707.11 140.52,706.10 140.69,698.45 140.85,683.81 141.02,664.81 141.18,654.83 141.35,669.49 141.51,692.26 141.68,704.34 141.84,707.09 142.01,702.99 142.17,692.17 142.34,674.98 142.50,658.28 142.67,659.50 142.84,681.21 143.00,699.10 143.17,706.22 143.33,705.60 143.50,698.43 143.66,684.54 143.83,666.42 143.99,656.32 144.16,669.12 144.32,690.99 144.49,703.30 144.65,706.41 144.82,702.70 144.98,692.45 145.15,676.08 145.31,659.97 145.48,660.19 145.65,680.25 145.81,697.95 145.98,705.39 146.14,705.11 146.31,698.38 146.47,685.16 146.64,667.84 146.80,657.71 146.97,668.92 147.13,689.88 147.30,702.34 147.46,705.76 147.63,702.41 147.79,692.66 147.96,677.04 148.12,661.48 148.29,660.90 148.45,679.47 148.62,696.91 148.79,704.60 148.95,704.63 149.12,698.30 149.28,685.68 149.45,669.09 149.61,658.99 149.78,668.84 149.94,688.90 150.11,701.44 150.27,705.14 150.44,702.11 150.60,692.83 150.77,677.88 150.93,662.84 151.10,661.61 151.26,678.83 151.43,695.96 151.60,703.86 151.76,704.17 151.93,698.21 152.09,686.13 152.26,670.19 152.42,660.17 152.59,668.86 152.75,688.03 152.92,700.60 153.08,704.55 153.25,701.81 153.41,692.96 153.58,678.62 153.74,664.08 153.91,662.33 154.07,678.32 154.24,695.09 154.40,703.16 154.57,703.73 154.74,698.09 154.90,686.51 155.07,671.19 155.23,661.28 155.40,668.95 155.56,687.28 155.73,699.82 155.89,703.98 156.06,701.52 156.22,693.05 156.39,679.27 156.55,665.19 156.72,663.03 156.88,677.91 157.05,694.30 157.21,702.49 157.38,703.29 157.55,697.96 157.71,686.83 157.88,672.07 158.04,662.30 158.21,669.10 158.37,686.61 158.54,699.09 158.70,703.44 158.87,701.22 159.03,693.11 159.20,679.85 159.36,666.21 159.53,663.71 159.69,677.58 159.86,693.57 160.02,701.86 160.19,702.87 160.36,697.82 160.52,687.11 160.69,672.87 160.85,663.25 161.02,669.29 161.18,686.03 161.35,698.41 161.51,702.91 161.68,700.93 161.84,693.14 162.01,680.36 162.17,667.14 162.34,664.37 162.50,677.33 162.67,692.92 162.83,701.27 163.00,702.46 163.16,697.67 163.33,687.35 163.50,673.60 163.66,664.14 163.83,669.52 163.99,685.52 164.16,697.78 164.32,702.42 164.49,700.64 164.65,693.16 164.82,680.82 164.98,668.00 165.15,665.01 165.31,677.15 165.48,692.32 165.64,700.71 165.81,702.07 165.97,697.51 166.14,687.56 166.31,674.26 166.47,664.98 166.64,669.77 166.80,685.08 166.97,697.19 167.13,701.94 167.30,700.35 167.46,693.15 167.63,681.22 167.79,668.79 167.96,665.63 168.12,677.01 168.29,691.77 168.45,700.17 168.62,701.68 168.78,697.35 168.95,687.73 169.11,674.86 169.28,665.75 169.45,670.04 169.61,684.69 169.78,696.64 169.94,701.48 170.11,700.07 170.27,693.13 170.44,681.59 170.60,669.51 170.77,666.23 170.93,676.92 171.10,691.27 171.26,699.67 171.43,701.31 171.59,697.18 171.76,687.88 171.92,675.40 172.09,666.48 172.26,670.32 172.42,684.35 172.59,696.13 172.75,701.04 172.92,699.79 173.08,693.10 173.25,681.92 173.41,670.19 173.58,666.80 173.74,676.87 173.91,690.82 174.07,699.19 174.24,700.95 174.40,697.01 174.57,688.00 174.73,675.90 174.90,667.17 175.06,670.61 175.23,684.06 175.40,695.65 175.56,700.62 175.73,699.52 175.89,693.06 176.06,682.21 176.22,670.81 176.39,667.35 176.55,676.85 176.72,690.40 176.88,698.73 177.05,700.60 177.21,696.84 177.38,688.10 177.54,676.36 177.71,667.82 177.87,670.90 178.04,683.81 178.21,695.20 178.37,700.22 178.54,699.25 178.70,693.01 178.87,682.48 179.03,671.39 179.20,667.88 179.36,676.86 179.53,690.02 179.69,698.30 179.86,700.26 180.02,696.66 180.19,688.19 180.35,676.78 180.52,668.42 180.68,671.20 180.85,683.59 181.02,694.78 181.18,699.83 181.35,698.98 181.51,692.94 181.68,682.72 181.84,671.93 182.01,668.39 182.17,676.89 182.34,689.68 182.50,697.89 182.67,699.93 182.83,696.49 183.00,688.26 183.16,677.17 183.33,669.00 183.49,671.50 183.66,683.40 183.82,694.39 183.99,699.46 184.16,698.72 184.32,692.88 184.49,682.93 184.65,672.43 184.82,668.88 184.98,676.94 185.15,689.36 185.31,697.51 185.48,699.61 185.64,696.31 185.81,688.32 185.97,677.53 186.14,669.54 186.30,671.80 186.47,683.24 186.63,694.02 186.80,699.10 186.97,698.47 187.13,692.80 187.30,683.13 187.46,672.91 187.63,669.35 187.79,677.00 187.96,689.08 188.12,697.14 188.29,699.30 188.45,696.14 188.62,688.36 188.78,677.87 188.95,670.05 189.11,672.10 189.28,683.11 189.44,693.67 189.61,698.76 189.77,698.22 189.94,692.72 190.11,683.30 190.27,673.35 190.44,669.81 190.60,677.08 190.77,688.81 190.93,696.78 191.10,699.00 191.26,695.96 191.43,688.39 191.59,678.18 191.76,670.54 191.92,672.39 192.09,682.99 192.25,693.35 192.42,698.43 192.58,697.98 192.75,692.64 192.92,683.46 193.08,673.77 193.25,670.24 193.41,677.17 193.58,688.57 193.74,696.45 193.91,698.71 194.07,695.79 194.24,688.42 194.40,678.46 194.57,671.00 194.73,672.68 194.90,682.90 195.06,693.05 195.23,698.11 195.39,697.74 195.56,692.55 195.72,683.61 195.89,674.16 196.06,670.66 196.22,677.27 196.39,688.35 196.55,696.13 196.72,698.42 196.88,695.62 197.05,688.43 197.21,678.73 197.38,671.44 197.54,672.97 197.71,682.82 197.87,692.77 198.04,697.80 198.20,697.50 198.37,692.46 198.53,683.74 198.70,674.53 198.87,671.06 199.03,677.38 199.20,688.16 199.36,695.83 199.53,698.15 199.69,695.45 199.86,688.44 200.02,678.98 200.19,671.86 200.35,673.25 200.52,682.76 200.68,692.50 200.85,697.51 201.01,697.28 201.18,692.37 201.34,683.86 201.51,674.88 201.68,671.45 201.84,677.50 202.01,687.97 202.17,695.54 202.34,697.88 202.50,695.28 202.67,688.44 202.83,679.22 203.00,672.25 203.16,673.53 203.33,682.72 203.49,692.25 203.66,697.22 203.82,697.05 203.99,692.27 204.15,683.97 204.32,675.20 204.48,671.82 204.65,677.62 204.82,687.81 204.98,695.26 205.15,697.62 205.31,695.11 205.48,688.44 205.64,679.43 205.81,672.63 205.97,673.80 206.14,682.68 206.30,692.01 206.47,696.95 206.63,696.83 206.80,692.18 206.96,684.07 207.13,675.52 207.29,672.18 207.46,677.74 207.63,687.65 207.79,695.00 207.96,697.37 208.12,694.94 208.29,688.43 208.45,679.64 208.62,673.00 208.78,674.07 208.95,682.66 209.11,691.79 209.28,696.69 209.44,696.62 209.61,692.08 209.77,684.16 209.94,675.81 210.10,672.53 210.27,677.87 210.43,687.52 210.60,694.74 210.77,697.13 210.93,694.78 211.10,688.41 211.26,679.83 211.43,673.34 211.59,674.33 211.76,682.64 211.92,691.58 212.09,696.43 212.25,696.41 212.42,691.98 212.58,684.24 212.75,676.09 212.91,672.86 213.08,678.00 213.24,687.39 213.41,694.50 213.58,696.89 213.74,694.62 213.91,688.39 214.07,680.01 214.24,673.67 214.40,674.59 214.57,682.64 214.73,691.39 214.90,696.19 215.06,696.20 215.23,691.88 215.39,684.31 215.56,676.36 215.72,673.19 215.89,678.13 216.05,687.27 216.22,694.27 216.38,696.66 216.55,694.46 216.72,688.37 216.88,680.18 217.05,673.99 217.21,674.84 217.38,682.64 217.54,691.20 217.71,695.95 217.87,696.00 218.04,691.78 218.20,684.38 218.37,676.61 218.53,673.50 218.70,678.26 218.86,687.17 219.03,694.05 219.19,696.43 219.36,694.30 219.53,688.35 219.69,680.34 219.86,674.30 220.02,675.08 220.19,682.65 220.35,691.03 220.52,695.72 220.68,695.80 220.85,691.68 221.01,684.44 221.18,676.86 221.34,673.80 221.51,678.40 221.67,687.07 221.84,693.84 222.00,696.21 222.17,694.15 222.34,688.32 222.50,680.49 222.67,674.59 222.83,675.32 223.00,682.66 223.16,690.86 223.33,695.50 223.49,695.61 223.66,691.58 223.82,684.50 223.99,677.09 224.15,674.09 224.32,678.53 224.48,686.99 224.65,693.64 224.81,696.00 224.98,693.99 225.14,688.29 225.31,680.64 225.48,674.87 225.64,675.56 225.81,682.68 225.97,690.70 226.14,695.28 226.30,695.42 226.47,691.48 226.63,684.55 226.80,677.31 226.96,674.37 227.13,678.67 227.29,686.91 227.46,693.44 227.62,695.79 227.79,693.84 227.95,688.26 228.12,680.77 228.29,675.14 228.45,675.79 228.62,682.70 228.78,690.56 228.95,695.08 229.11,695.24 229.28,691.38 229.44,684.59 229.61,677.52 229.77,674.65 229.94,678.80 230.10,686.84 230.27,693.26 230.43,695.59 230.60,693.69 230.76,688.22 230.93,680.90 231.09,675.40 231.26,676.01 231.43,682.73 231.59,690.42 231.76,694.87 231.92,695.05 232.09,691.28 232.25,684.63 232.42,677.72 232.58,674.91 232.75,678.94 232.91,686.77 233.08,693.08 233.24,695.40 233.41,693.55 233.57,688.18 233.74,681.02 233.90,675.65 234.07,676.23 234.24,682.76 234.40,690.28 234.57,694.68 234.73,694.88 234.90,691.18 235.06,684.67 235.23,677.92 235.39,675.17 235.56,679.07 235.72,686.71 235.89,692.91 236.05,695.21 236.22,693.40 236.38,688.15 236.55,681.14 236.71,675.89 236.88,676.44 237.04,682.80 237.21,690.16 237.38,694.49 237.54,694.70 237.71,691.09 237.87,684.70 238.04,678.10 238.20,675.41 238.37,679.20 238.53,686.66 238.70,692.74 238.86,695.02 239.03,693.26 239.19,688.11 239.36,681.25 239.52,676.12 239.69,676.65 239.85,682.84 240.02,690.04 240.19,694.31 240.35,694.53 240.52,690.99 240.68,684.74 240.85,678.28 241.01,675.65 241.18,679.34 241.34,686.61 241.51,692.58 241.67,694.84 241.84,693.12 242.00,688.07 242.17,681.35 242.33,676.35 242.50,676.85 242.66,682.88 242.83,689.93 243.00,694.13 243.16,694.37 243.33,690.89 243.49,684.76 243.66,678.45 243.82,675.89 243.99,679.47 244.15,686.57 244.32,692.43 244.48,694.66 244.65,692.98 244.81,688.03 244.98,681.45 245.14,676.57 245.31,677.05 245.47,682.92 245.64,689.82 245.80,693.96 245.97,694.21 246.14,690.80 246.30,684.79 246.47,678.62 246.63,676.11 246.80,679.59 246.96,686.53 247.13,692.28 247.29,694.49 247.46,692.85 247.62,687.99 247.79,681.55 247.95,676.78 248.12,677.24 248.28,682.96 248.45,689.72 248.61,693.79 248.78,694.05 248.95,690.70 249.11,684.81 249.28,678.78 249.44,676.33 249.61,679.72 249.77,686.49 249.94,692.14 250.10,694.32 250.27,692.71 250.43,687.94 250.60,681.64 250.76,676.98 250.93,677.43 251.09,683.01 251.26,689.62 251.42,693.63 251.59,693.89 251.75,690.61 251.92,684.83 252.09,678.93 252.25,676.55 252.42,679.85 252.58,686.46 252.75,692.00 252.91,694.15 253.08,692.58 253.24,687.90 253.41,681.73 253.57,677.17 253.74,677.62 253.90,683.06 254.07,689.53 254.23,693.47 254.40,693.74 254.56,690.52 254.73,684.85 254.90,679.08 255.06,676.75 255.23,679.97 255.39,686.43 255.56,691.87 255.72,693.99 255.89,692.46 256.05,687.86 256.22,681.81 256.38,677.37 256.55,677.80 256.71,683.10 256.88,689.44 257.04,693.32 257.21,693.59 257.37,690.42 257.54,684.87 257.70,679.22 257.87,676.96 258.04,680.09 258.20,686.41 258.37,691.74 258.53,693.84 258.70,692.33 258.86,687.82 259.03,681.89 259.19,677.55 259.36,677.97 259.52,683.15 259.69,689.36 259.85,693.17 260.02,693.44 260.18,690.33 260.35,684.88 260.51,679.36 260.68,677.15 260.85,680.21 261.01,686.38 261.18,691.62 261.34,693.68 261.51,692.20 261.67,687.77 261.84,681.97 262.00,677.73 262.17,678.14 262.33,683.20 262.50,689.28 262.66,693.03 262.83,693.30 262.99,690.24 263.16,684.90 263.32,679.50 263.49,677.34 263.66,680.33 263.82,686.36 263.99,691.50 264.15,693.53 264.32,692.08 264.48,687.73 264.65,682.04 264.81,677.90 264.98,678.31 265.14,683.25 265.31,689.20 265.47,692.89 265.64,693.15 265.80,690.16 265.97,684.91 266.13,679.62 266.30,677.53 266.46,680.45 266.63,686.35 266.80,691.39 266.96,693.39 267.13,691.96 267.29,687.69 267.46,682.11 267.62,678.07 267.79,678.48 267.95,683.30 268.12,689.13 268.28,692.75 268.45,693.02 268.61,690.07 268.78,684.92 268.94,679.75 269.11,677.71 269.27,680.56 269.44,686.33 269.61,691.28 269.77,693.24 269.94,691.84 270.10,687.64 270.27,682.18 270.43,678.23 270.60,678.64 270.76,683.35 270.93,689.06 271.09,692.62 271.26,692.88 271.42,689.98 271.59,684.93 271.75,679.87 271.92,677.88 272.08,680.68 272.25,686.32 272.41,691.17 272.58,693.10 272.75,691.73 272.91,687.60 273.08,682.25 273.24,678.39 273.41,678.79 273.57,683.40 273.74,688.99 273.90,692.49 274.07,692.75 274.23,689.90 274.40,684.94 274.56,679.99 274.73,678.05 274.89,680.79 275.06,686.30 275.22,691.06 275.39,692.97 275.56,691.62 275.72,687.56 275.89,682.31 276.05,678.55 276.22,678.95 276.38,683.45 276.55,688.93 276.71,692.36 276.88,692.62 277.04,689.82 277.21,684.95 277.37,680.10 277.54,678.22 277.70,680.90 277.87,686.29 278.03,690.96 278.20,692.83 278.36,691.50 278.53,687.52 278.70,682.37 278.86,678.70 279.03,679.10 279.19,683.50 279.36,688.87 279.52,692.24 279.69,692.49 279.85,689.73 280.02,684.95 280.18,680.22 280.35,678.38 280.51,681.00 280.68,686.29 280.84,690.86 281.01,692.70 281.17,691.39 281.34,687.48 281.51,682.43 281.67,678.85 281.84,679.24 282.00,683.56 282.17,688.81 282.33,692.12 282.50,692.36 282.66,689.65 282.83,684.96 282.99,680.32 283.16,678.54 283.32,681.11 283.49,686.28 283.65,690.77 283.82,692.58 283.98,691.29 284.15,687.43 284.32,682.49 284.48,678.99 284.65,679.39 284.81,683.61 284.98,688.75 285.14,692.00 285.31,692.24 285.47,689.57 285.64,684.96 285.80,680.43 285.97,678.70 286.13,681.21 286.30,686.27 286.46,690.68 286.63,692.45 286.79,691.18 286.96,687.39 287.12,682.55 287.29,679.13 287.46,679.53 287.62,683.66 287.79,688.70 287.95,691.89 288.12,692.12 288.28,689.50 288.45,684.97 288.61,680.53 288.78,678.85 288.94,681.31 289.11,686.27 289.27,690.59 289.44,692.33 289.60,691.08 289.77,687.35 289.93,682.60 290.10,679.26 290.27,679.66 290.43,683.71 290.60,688.64 290.76,691.78 290.93,692.00 291.09,689.42 291.26,684.97 291.42,680.63 291.59,678.99 291.75,681.41 291.92,686.26 292.08,690.50 292.25,692.21 292.41,690.97 292.58,687.31 292.74,682.65 292.91,679.39 293.07,679.80 293.24,683.76 293.41,688.59 293.57,691.67 293.74,691.89 293.90,689.34 294.07,684.98 294.23,680.73 294.40,679.14 294.56,681.51 294.73,686.26 294.89,690.41 295.06,692.09 295.22,690.87 295.39,687.27 295.55,682.70 295.72,679.52 295.88,679.93 296.05,683.80 296.22,688.54 296.38,691.56 296.55,691.77 296.71,689.27 296.88,684.98 297.04,680.82 297.21,679.28 297.37,681.61 297.54,686.26 297.70,690.33 297.87,691.98 298.03,690.77 298.20,687.23 298.36,682.75 298.53,679.65 298.69,680.05 298.86,683.85 299.02,688.50 299.19,691.46 299.36,691.66 299.52,689.20 299.69,684.99 299.85,680.91 300.02,679.41 300.18,681.70 300.35,686.26 300.51,690.25 300.68,691.86 300.84,690.68 301.01,687.20 301.17,682.80 301.34,679.77 301.50,680.18 301.67,683.90 301.83,688.45 302.00,691.36 302.17,691.55 302.33,689.12 302.50,684.99 302.66,681.00 302.83,679.55 302.99,681.79 303.16,686.26 303.32,690.17 303.49,691.75 303.65,690.58 303.82,687.16 303.98,682.85 304.15,679.89 304.31,680.30 304.48,683.95 304.64,688.41 304.81,691.26 304.98,691.45 305.14,689.05 305.31,684.99 305.47,681.09 305.64,679.68 305.80,681.89 305.97,686.26 306.13,690.10 306.30,691.65 306.46,690.49 306.63,687.12 306.79,682.90 306.96,680.01 307.12,680.42 307.29,684.00 307.45,688.37 307.62,691.16 307.78,691.34 307.95,688.98 308.12,684.99 308.28,681.18 308.45,679.81 308.61,681.97 308.78,686.26 308.94,690.02 309.11,691.54 309.27,690.40 309.44,687.08 309.60,682.94 309.77,680.12 309.93,680.54 310.10,684.04 310.26,688.33 310.43,691.07 310.59,691.24 310.76,688.92 310.93,685.00 311.09,681.26 311.26,679.93 311.42,682.06 311.59,686.26 311.75,689.95 311.92,691.44 312.08,690.31 312.25,687.05 312.41,682.99 312.58,680.23 312.74,680.65 312.91,684.09 313.07,688.29 313.24,690.97 313.40,691.14 313.57,688.85 313.73,685.00 313.90,681.34 314.07,680.05 314.23,682.15 314.40,686.26 314.56,689.88 314.73,691.34 314.89,690.22 315.06,687.01 315.22,683.03 315.39,680.34 315.55,680.76 315.72,684.13 315.88,688.25 316.05,690.88 316.21,691.04 316.38,688.78 316.54,685.00 316.71,681.42 316.88,680.17 317.04,682.23 317.21,686.26 317.37,689.81 317.54,691.24 317.70,690.13 317.87,686.98 318.03,683.07 318.20,680.45 318.36,680.87 318.53,684.18 318.69,688.21 318.86,690.79 319.02,690.94 319.19,688.72 319.35,685.00 319.52,681.50 319.68,680.29 319.85,682.31 320.02,686.26 320.18,689.74 320.35,691.14 320.51,690.05 320.68,686.94 320.84,683.11 321.01,680.55 321.17,680.98 321.34,684.22 321.50,688.17 321.67,690.71 321.83,690.85 322.00,688.65 322.16,685.00 322.33,681.58 322.49,680.40 322.66,682.39 322.83,686.27 322.99,689.68 323.16,691.04 323.32,689.96 323.49,686.91 323.65,683.15 323.82,680.65 323.98,681.08 324.15,684.26 324.31,688.14 324.48,690.62 324.64,690.75 324.81,688.59 324.97,685.01 325.14,681.65 325.30,680.51 325.47,682.47 325.64,686.27 325.80,689.61 325.97,690.95 326.13,689.88 326.30,686.88 326.46,683.19 326.63,680.75 326.79,681.19 326.96,684.31 327.12,688.11 327.29,690.54 327.45,690.66 327.62,688.53 327.78,685.01 327.95,681.72 328.11,680.62 328.28,682.55 328.44,686.27 328.61,689.55 328.78,690.86 328.94,689.80 329.11,686.84 329.27,683.23 329.44,680.85 329.60,681.29 329.77,684.35 329.93,688.07 330.10,690.46 330.26,690.57 330.43,688.47 330.59,685.01 330.76,681.80 330.92,680.73 331.09,682.62 331.25,686.27 331.42,689.49 331.59,690.77 331.75,689.72 331.92,686.81 332.08,683.27 332.25,680.95 332.41,681.38 332.58,684.39 332.74,688.04 332.91,690.38 333.07,690.48 333.24,688.41 333.40,685.01 333.57,681.87 333.73,680.83 333.90,682.70 334.06,686.28 334.23,689.43 334.39,690.68 334.56,689.65 334.73,686.78 334.89,683.30 335.06,681.04 335.22,681.48 335.39,684.43 335.55,688.01 335.72,690.30 335.88,690.40 336.05,688.35 336.21,685.01 336.38,681.93 336.54,680.93 336.71,682.77 336.87,686.28 337.04,689.37 337.20,690.59 337.37,689.57 337.54,686.75 337.70,683.34 337.87,681.13 338.03,681.57 338.20,684.47 338.36,687.98 338.53,690.22 338.69,690.31 338.86,688.30 339.02,685.01 339.19,682.00 339.35,681.03 339.52,682.84 339.68,686.28 339.85,689.31 340.01,690.51 340.18,689.50 340.34,686.72 340.51,683.37 340.68,681.22 340.84,681.67 341.01,684.51 341.17,687.95 341.34,690.15 341.50,690.23 341.67,688.24 341.83,685.02 342.00,682.07 342.16,681.13 342.33,682.91 342.49,686.29 342.66,689.26 342.82,690.43 342.99,689.42 343.15,686.69 343.32,683.41 343.49,681.31 343.65,681.76 343.82,684.55 343.98,687.92 344.15,690.07 344.31,690.14 344.48,688.19 344.64,685.02 344.81,682.13 344.97,681.23 345.14,682.98 345.30,686.29 345.47,689.20 345.63,690.34 345.80,689.35 345.96,686.66 346.13,683.44 346.30,681.39 346.46,681.84 346.63,684.58 346.79,687.89 346.96,690.00 347.12,690.06 347.29,688.13 347.45,685.02 347.62,682.20 347.78,681.32 347.95,683.05 348.11,686.29 348.28,689.15 348.44,690.26 348.61,689.28 348.77,686.63 348.94,683.48 349.10,681.48 349.27,681.93 349.44,684.62 349.60,687.86 349.77,689.93 349.93,689.98 350.10,688.08 350.26,685.02 350.43,682.26 350.59,681.41 350.76,683.11 350.92,686.30 351.09,689.09 351.25,690.19 351.42,689.21 351.58,686.61 351.75,683.51 351.91,681.56 352.08,682.01 352.25,684.66 352.41,687.84 352.58,689.86 352.74,689.91 352.91,688.03 353.07,685.02 353.24,682.32 353.40,681.50 353.57,683.18 353.73,686.30 353.90,689.04 354.06,690.11 354.23,689.14 354.39,686.58 354.56,683.54 354.72,681.64 354.89,682.10 355.05,684.69 355.22,687.81 355.39,689.79 355.55,689.83 355.72,687.98 355.88,685.03 356.05,682.38 356.21,681.59 356.38,683.24 356.54,686.30 356.71,688.99 356.87,690.03 357.04,689.08 357.20,686.55 357.37,683.58 357.53,681.72 357.70,682.18 357.86,684.73 358.03,687.78 358.20,689.73 358.36,689.76 358.53,687.93 358.69,685.03 358.86,682.44 359.02,681.67 359.19,683.30 359.35,686.31 359.52,688.94 359.68,689.96 359.85,689.01 360.01,686.53 360.18,683.61 360.34,681.79 360.51,682.26 360.67,684.76 360.84,687.76 361.00,689.66 361.17,689.68 361.34,687.88 361.50,685.03 361.67,682.50 361.83,681.76 362.00,683.36 362.16,686.31 362.33,688.89 362.49,689.88 362.66,688.95 362.82,686.50 362.99,683.64 363.15,681.87 363.32,682.33 363.48,684.79 363.65,687.73 363.81,689.60 363.98,689.61 364.15,687.84 364.31,685.03 364.48,682.55 364.64,681.84 364.81,683.42 364.97,686.32 365.14,688.85 365.30,689.81 365.47,688.88 365.63,686.48 365.80,683.67 365.96,681.94 366.13,682.41 366.29,684.82 366.46,687.71 366.62,689.53 366.79,689.54 366.96,687.79 367.12,685.03 367.29,682.61 367.45,681.92 367.62,683.48 367.78,686.32 367.95,688.80 368.11,689.74 368.28,688.82 368.44,686.45 368.61,683.70 368.77,682.02 368.94,682.48 369.10,684.86 369.27,687.68 369.43,689.47 369.60,689.47 369.76,687.74 369.93,685.04 370.10,682.66 370.26,682.00 370.43,683.53 370.59,686.32 370.76,688.75 370.92,689.67 371.09,688.76 371.25,686.43 371.42,683.73 371.58,682.09 371.75,682.56 371.91,684.89 372.08,687.66 372.24,689.41 372.41,689.40 372.57,687.70 372.74,685.04 372.91,682.72 373.07,682.08 373.24,683.59 373.40,686.33 373.57,688.71 373.73,689.61 373.90,688.70 374.06,686.41 374.23,683.76 374.39,682.16 374.56,682.63 374.72,684.92 374.89,687.64 375.05,689.35 375.22,689.34 375.38,687.66 375.55,685.04 375.71,682.77 375.88,682.15 376.05,683.64 376.21,686.33 376.38,688.66 376.54,689.54 376.71,688.64 376.87,686.38 377.04,683.79 377.20,682.23 377.37,682.70 377.53,684.95 377.70,687.62 377.86,689.29 378.03,689.27 378.19,687.61 378.36,685.05 378.52,682.82 378.69,682.23 378.86,683.70 379.02,686.33 379.19,688.62 379.35,689.47 379.52,688.59 379.68,686.36 379.85,683.82 380.01,682.30 380.18,682.77 380.34,684.98 380.51,687.59 380.67,689.23 380.84,689.21 381.00,687.57 381.17,685.05 381.33,682.87 381.50,682.30 381.66,683.75 381.83,686.33 382.00,688.58 382.16,689.41 382.33,688.53 382.49,686.34 382.66,683.84 382.82,682.36 382.99,682.83 383.15,685.01 383.32,687.57 383.48,689.18 383.65,689.14 383.81,687.53 383.98,685.05 384.14,682.92 384.31,682.37 384.47,683.80 384.64,686.34 384.81,688.54 384.97,689.35 385.14,688.48 385.30,686.32 385.47,683.87 385.63,682.43 385.80,682.90 385.96,685.03 386.13,687.55 386.29,689.12 386.46,689.08 386.62,687.49 386.79,685.06 386.95,682.97 387.12,682.44 387.28,683.85 387.45,686.34 387.62,688.49 387.78,689.28 387.95,688.42 388.11,686.30 388.28,683.90 388.44,682.49 388.61,682.96 388.77,685.06 388.94,687.53 389.10,689.07 389.27,689.02 389.43,687.45 389.60,685.06 389.76,683.02 389.93,682.51 390.09,683.90 390.26,686.34 390.42,688.45 390.59,689.22 390.76,688.37 390.92,686.28 391.09,683.93 391.25,682.55 391.42,683.03 391.58,685.09 391.75,687.51 391.91,689.01 392.08,688.96 392.24,687.41 392.41,685.06 392.57,683.07 392.74,682.58 392.90,683.95 393.07,686.34 393.23,688.41 393.40,689.16 393.57,688.32 393.73,686.26 393.90,683.95 394.06,682.61 394.23,683.09 394.39,685.11 394.56,687.49 394.72,688.96 394.89,688.90 395.05,687.37 395.22,685.07 395.38,683.11 395.55,682.64 395.71,683.99 395.88,686.35 396.04,688.38 396.21,689.10 396.37,688.27 396.54,686.24 396.71,683.98 396.87,682.67 397.04,683.15 397.20,685.14 397.37,687.47 397.53,688.91 397.70,688.84 397.86,687.34 398.03,685.07 398.19,683.16 398.36,682.71 398.52,684.04 398.69,686.35 398.85,688.34 399.02,689.05 399.18,688.22 399.35,686.23 399.52,684.00 399.68,682.73 399.85,683.21 400.01,685.16 400.18,687.45 400.34,688.86 400.51,688.79 400.67,687.30 400.84,685.07 401.00,683.20 401.17,682.77 401.33,684.08 401.50,686.35 401.66,688.30 401.83,688.99 401.99,688.17 402.16,686.21 402.32,684.03 402.49,682.79 402.66,683.26 402.82,685.19 402.99,687.43 403.15,688.81 403.32,688.73 403.48,687.27 403.65,685.08 403.81,683.25 403.98,682.83 404.14,684.13 404.31,686.35 404.47,688.26 404.64,688.94 404.80,688.12 404.97,686.19 405.13,684.06 405.30,682.85 405.47,683.32 405.63,685.21 405.80,687.41 405.96,688.76 406.13,688.68 406.29,687.23 406.46,685.08 406.62,683.29 406.79,682.89 406.95,684.17 407.12,686.36 407.28,688.23 407.45,688.88 407.61,688.07 407.78,686.18 407.94,684.08 408.11,682.90 408.28,683.38 408.44,685.24 408.61,687.39 408.77,688.71 408.94,688.62 409.10,687.20 409.27,685.08 409.43,683.33 409.60,682.95 409.76,684.21 409.93,686.36 410.09,688.19 410.26,688.83 410.42,688.03 410.59,686.16 410.75,684.10 410.92,682.96 411.08,683.43 411.25,685.26 411.42,687.37 411.58,688.66 411.75,688.57 411.91,687.17 412.08,685.09 412.24,683.38 412.41,683.01 412.57,684.25 412.74,686.36 412.90,688.15 413.07,688.77 413.23,687.98 413.40,686.14 413.56,684.13 413.73,683.01 413.89,683.48 414.06,685.28 414.23,687.35 414.39,688.62 414.56,688.52 414.72,687.13 414.89,685.09 415.05,683.42 415.22,683.07 415.38,684.29 415.55,686.36 415.71,688.12 415.88,688.72 416.04,687.94 416.21,686.13 416.37,684.15 416.54,683.07 416.70,683.53 416.87,685.30 417.03,687.34 417.20,688.57 417.37,688.47 417.53,687.10 417.70,685.10 417.86,683.46 418.03,683.13 418.19,684.33 418.36,686.36 418.52,688.09 418.69,688.67 418.85,687.89 419.02,686.11 419.18,684.18 419.35,683.12 419.51,683.59 419.68,685.32 419.84,687.32 420.01,688.53 420.18,688.42 420.34,687.07 420.51,685.10 420.67,683.50 420.84,683.18 421.00,684.37 421.17,686.36 421.33,688.05 421.50,688.62 421.66,687.85 421.83,686.10 421.99,684.20 422.16,683.17 422.32,683.64 422.49,685.34 422.65,687.30 422.82,688.48 422.98,688.37 423.15,687.04 423.32,685.11 423.48,683.54 423.65,683.23 423.81,684.41 423.98,686.36 424.14,688.02 424.31,688.57 424.47,687.81 424.64,686.09 424.80,684.22 424.97,683.22 425.13,683.68 425.30,685.36 425.46,687.28 425.63,688.44 425.79,688.32 425.96,687.01 426.13,685.11 426.29,683.58 426.46,683.29 426.62,684.44 426.79,686.36 426.95,687.99 427.12,688.52 427.28,687.77 427.45,686.07 427.61,684.25 427.78,683.27 427.94,683.73 428.11,685.38 428.27,687.27 428.44,688.40 428.60,688.27 428.77,686.98 428.94,685.12 429.10,683.62 429.27,683.34 429.43,684.48 429.60,686.37 429.76,687.95 429.93,688.48 430.09,687.73 430.26,686.06 430.42,684.27 430.59,683.32 430.75,683.78 430.92,685.40 431.08,687.25 431.25,688.35 431.41,688.23 431.58,686.95 431.74,685.12 431.91,683.65 432.08,683.39 432.24,684.51 432.41,686.37 432.57,687.92 432.74,688.43 432.90,687.69 433.07,686.05 433.23,684.29 433.40,683.36 433.56,683.83 433.73,685.42 433.89,687.23 434.06,688.31 434.22,688.18 434.39,686.93 434.55,685.13 434.72,683.69 434.89,683.44 435.05,684.55 435.22,686.37 435.38,687.89 435.55,688.38 435.71,687.65 435.88,686.03 436.04,684.31 436.21,683.41 436.37,683.87 436.54,685.44 436.70,687.22 436.87,688.27 437.03,688.14 437.20,686.90 437.36,685.13 437.53,683.73 437.69,683.49 437.86,684.58 438.03,686.37 438.19,687.86 438.36,688.34 438.52,687.61 438.69,686.02 438.85,684.34 439.02,683.45 439.18,683.91 439.35,685.46 439.51,687.20 439.68,688.23 439.84,688.10 440.01,686.87 440.17,685.14 440.34,683.76 440.50,683.54 440.67,684.61 440.84,686.37 441.00,687.83 441.17,688.30 441.33,687.58 441.50,686.01 441.66,684.36 441.83,683.50 441.99,683.96 442.16,685.48 442.32,687.18 442.49,688.19 442.65,688.05 442.82,686.85 442.98,685.14 443.15,683.80 443.31,683.58 443.48,684.65 443.64,686.37 443.81,687.80 443.98,688.25 444.14,687.54 444.31,686.00 444.47,684.38 444.64,683.54 444.80,684.00 444.97,685.49 445.13,687.17 445.30,688.16 445.46,688.01 445.63,686.82 445.79,685.15 445.96,683.83 446.12,683.63 446.29,684.68 446.45,686.37 446.62,687.77 446.79,688.21 446.95,687.50 447.12,685.99 447.28,684.40 447.45,683.59 447.61,684.04 447.78,685.51 447.94,687.15 448.11,688.12 448.27,687.97 448.44,686.80 448.60,685.15 448.77,683.87 448.93,683.68 449.10,684.71 449.26,686.37 449.43,687.74 449.60,688.17 449.76,687.47 449.93,685.98 450.09,684.42 450.26,683.63 450.42,684.08 450.59,685.52 450.75,687.14 450.92,688.08 451.08,687.93 451.25,686.77 451.41,685.16 451.58,683.90 451.74,683.72 451.91,684.74 452.07,686.37 452.24,687.72 452.40,688.13 452.57,687.43 452.74,685.97 452.90,684.44 453.07,683.67 453.23,684.12 453.40,685.54 453.56,687.12 453.73,688.04 453.89,687.89 454.06,686.75 454.22,685.16 454.39,683.93 454.55,683.76 454.72,684.77 454.88,686.37 455.05,687.69 455.21,688.09 455.38,687.40 455.55,685.96 455.71,684.46 455.88,683.71 456.04,684.16 456.21,685.56 456.37,687.11 456.54,688.01 456.70,687.85 456.87,686.73 457.03,685.17 457.20,683.97 457.36,683.81 457.53,684.80 457.69,686.37 457.86,687.66 458.02,688.05 458.19,687.37 458.35,685.95 458.52,684.48 458.69,683.75 458.85,684.20 459.02,685.57 459.18,687.09 459.35,687.97 459.51,687.81 459.68,686.70 459.84,685.17 460.01,684.00 460.17,683.85 460.34,684.82 460.50,686.37 460.67,687.63 460.83,688.01 461.00,687.34 461.16,685.94 461.33,684.50 461.50,683.79 461.66,684.24 461.83,685.58 461.99,687.08 462.16,687.94 462.32,687.77 462.49,686.68 462.65,685.18 462.82,684.03 462.98,683.89 463.15,684.85 463.31,686.37 463.48,687.61 463.64,687.97 463.81,687.31 463.97,685.93 464.14,684.52 464.30,683.83 464.47,684.27 464.64,685.60 464.80,687.06 464.97,687.90 465.13,687.74 465.30,686.66 465.46,685.18 465.63,684.06 465.79,683.93 465.96,684.88 466.12,686.37 466.29,687.58 466.45,687.93 466.62,687.27 466.78,685.92 466.95,684.54 467.11,683.87 467.28,684.31 467.45,685.61 467.61,687.05 467.78,687.87 467.94,687.70 468.11,686.64 468.27,685.19 468.44,684.09 468.60,683.97 468.77,684.90 468.93,686.37 469.10,687.56 469.26,687.90 469.43,687.24 469.59,685.91 469.76,684.56 469.92,683.91 470.09,684.34 470.26,685.63 470.42,687.03 470.59,687.84 470.75,687.67 470.92,686.62 471.08,685.20 471.25,684.12 471.41,684.01 471.58,684.93 471.74,686.36 471.91,687.53 472.07,687.86 472.24,687.21 472.40,685.91 472.57,684.58 472.73,683.94 472.90,684.38 473.06,685.64 473.23,687.02 473.40,687.80 473.56,687.63 473.73,686.60 473.89,685.20 474.06,684.15 474.22,684.04 474.39,684.96 474.55,686.36 474.72,687.51 474.88,687.82 475.05,687.19 475.21,685.90 475.38,684.60 475.54,683.98 475.71,684.41 475.87,685.65 476.04,687.00 476.21,687.77 476.37,687.60 476.54,686.58 476.70,685.21 476.87,684.18 477.03,684.08 477.20,684.98 477.36,686.36 477.53,687.48 477.69,687.79 477.86,687.16 478.02,685.89 478.19,684.62 478.35,684.01 478.52,684.44 478.68,685.66 478.85,686.99 479.01,687.74 479.18,687.56 479.35,686.56 479.51,685.21 479.68,684.21 479.84,684.12 480.01,685.00 480.17,686.36 480.34,687.46 480.50,687.75 480.67,687.13 480.83,685.88 481.00,684.63 481.16,684.05 481.33,684.48 481.49,685.68 481.66,686.98 481.82,687.71 481.99,687.53 482.16,686.54 482.32,685.22 482.49,684.24 482.65,684.15 482.82,685.03 482.98,686.36 483.15,687.43 483.31,687.72 483.48,687.10 483.64,685.88 483.81,684.65 483.97,684.08 484.14,684.51 484.30,685.69 484.47,686.96 484.63,687.68 484.80,687.50 484.96,686.52 485.13,685.22 485.30,684.27 485.46,684.19 485.63,685.05 485.79,686.36 485.96,687.41 486.12,687.69 486.29,687.08 486.45,685.87 486.62,684.67 486.78,684.12 486.95,684.54 487.11,685.70 487.28,686.95 487.44,687.65 487.61,687.47 487.77,686.51 487.94,685.23 488.11,684.29 488.27,684.22 488.44,685.07 488.60,686.36 488.77,687.39 488.93,687.65 489.10,687.05 489.26,685.86 489.43,684.69 489.59,684.15 489.76,684.57 489.92,685.71 490.09,686.94 490.25,687.62 490.42,687.44 490.58,686.49 490.75,685.24 490.92,684.32 491.08,684.26 491.25,685.09 491.41,686.36 491.58,687.36 491.74,687.62 491.91,687.02 492.07,685.86 492.24,684.71 492.40,684.18 492.57,684.60 492.73,685.72 492.90,686.92 493.06,687.59 493.23,687.41 493.39,686.47 493.56,685.24 493.72,684.35 493.89,684.29 494.06,685.12 494.22,686.35 494.39,687.34 494.55,687.59 494.72,687.00 494.88,685.85 495.05,684.72 495.21,684.21 495.38,684.63 495.54,685.73 495.71,686.91 495.87,687.56 496.04,687.38 496.20,686.46 496.37,685.25 496.53,684.37 496.70,684.32 496.87,685.14 497.03,686.35 497.20,687.32 497.36,687.56 497.53,686.97 497.69,685.85 497.86,684.74 498.02,684.25 498.19,684.66 498.35,685.74 498.52,686.90 498.68,687.53 498.85,687.35 499.01,686.44 499.18,685.25 499.34,684.40 499.51,684.36 499.67,685.16 499.84,686.35 500.01,687.30 500.17,687.53 500.34,686.95 500.50,685.84 500.67,684.76 500.83,684.28 501.00,684.68 501.16,685.75 501.33,686.89 501.49,687.50 501.66,687.32 501.82,686.42 501.99,685.26 502.15,684.42 502.32,684.39 502.48,685.18 502.65,686.35 502.82,687.28 502.98,687.50 503.15,686.93 503.31,685.84 503.48,684.77 503.64,684.31 503.81,684.71 503.97,685.76 504.14,686.87 504.30,687.48 504.47,687.29 504.63,686.41 504.80,685.27 504.96,684.45 505.13,684.42 505.29,685.20 505.46,686.35 505.62,687.26 505.79,687.47 505.96,686.90 506.12,685.83 506.29,684.79 506.45,684.34 506.62,684.74 506.78,685.77 506.95,686.86 507.11,687.45 507.28,687.26 507.44,686.39 507.61,685.27 507.77,684.47 507.94,684.45 508.10,685.21 508.27,686.35 508.43,687.23 508.60,687.44 508.77,686.88 508.93,685.83 509.10,684.81 509.26,684.37 509.43,684.76 509.59,685.78 509.76,686.85 509.92,687.42 510.09,687.23 510.25,686.38 510.42,685.28 510.58,684.50 510.75,684.48 510.91,685.23 511.08,686.34 511.24,687.21 511.41,687.41 511.58,686.86 511.74,685.82 511.91,684.82 512.07,684.39 512.24,684.79 512.40,685.79 512.57,686.84 512.73,687.40 512.90,687.21 513.06,686.37 513.23,685.28 513.39,684.52 513.56,684.51 513.72,685.25 513.89,686.34 514.05,687.19 514.22,687.39 514.38,686.84 514.55,685.82 514.72,684.84 514.88,684.42 515.05,684.81 515.21,685.79 515.38,686.83 515.54,687.37 515.71,687.18 515.87,686.35 516.04,685.29 516.20,684.55 516.37,684.53 516.53,685.27 516.70,686.34 516.86,687.17 517.03,687.36 517.19,686.82 517.36,685.81 517.53,684.85 517.69,684.45 517.86,684.84 518.02,685.80 518.19,686.81 518.35,687.35 518.52,687.16 518.68,686.34 518.85,685.30 519.01,684.57 519.18,684.56 519.34,685.29 519.51,686.34 519.67,687.15 519.84,687.33 520.00,686.80 520.17,685.81 520.33,684.87 520.50,684.48 520.67,684.86 520.83,685.81 521.00,686.80 521.16,687.32 521.33,687.13 521.49,686.33 521.66,685.30 521.82,684.59 521.99,684.59 522.15,685.30 522.32,686.34 522.48,687.14 522.65,687.31 522.81,686.78 522.98,685.81 523.14,684.88 523.31,684.50 523.48,684.89 523.64,685.82 523.81,686.79 523.97,687.30 524.14,687.11 524.30,686.31 524.47,685.31 524.63,684.61 524.80,684.62 524.96,685.32 525.13,686.33 525.29,687.12 525.46,687.28 525.62,686.76 525.79,685.80 525.95,684.90 526.12,684.53 526.28,684.91 526.45,685.83 526.62,686.78 526.78,687.28 526.95,687.08 527.11,686.30 527.28,685.31 527.44,684.64 527.61,684.64 527.77,685.34 527.94,686.33 528.10,687.10 528.27,687.25 528.43,686.74 528.60,685.80 528.76,684.91 528.93,684.56 529.09,684.93 529.26,685.83 529.43,686.77 529.59,687.25 529.76,687.06 529.92,686.29 530.09,685.32 530.25,684.66 530.42,684.67 530.58,685.35 530.75,686.33 530.91,687.08 531.08,687.23 531.24,686.72 531.41,685.80 531.57,684.93 531.74,684.58 531.90,684.95 532.07,685.84 532.24,686.76 532.40,687.23 532.57,687.04 532.73,686.28 532.90,685.33 533.06,684.68 533.23,684.69 533.39,685.37 533.56,686.33 533.72,687.06 533.89,687.21 534.05,686.70 534.22,685.79 534.38,684.94 534.55,684.61 534.71,684.98 534.88,685.85 535.04,686.75 535.21,687.21 535.38,687.01 535.54,686.26 535.71,685.33 535.87,684.70 536.04,684.72 536.20,685.38 536.37,686.32 536.53,687.04 536.70,687.18 536.86,686.68 537.03,685.79 537.19,684.96 537.36,684.63 537.52,685.00 537.69,685.85 537.85,686.73 538.02,687.18 538.19,686.99 538.35,686.25 538.52,685.34 538.68,684.72 538.85,684.74 539.01,685.40 539.18,686.32 539.34,687.03 539.51,687.16 539.67,686.66 539.84,685.79 540.00,684.97 540.17,684.65 540.33,685.02 540.50,685.86 540.66,686.72 540.83,687.16 540.99,686.97 541.16,686.24 541.33,685.34 541.49,684.74 541.66,684.77 541.82,685.41 541.99,686.32 542.15,687.01 542.32,687.13 542.48,686.65 542.65,685.78 542.81,684.98 542.98,684.68 543.14,685.04 543.31,685.87 543.47,686.71 543.64,687.14 543.80,686.95 543.97,686.23 544.14,685.35 544.30,684.76 544.47,684.79 544.63,685.43 544.80,686.32 544.96,686.99 545.13,687.11 545.29,686.63 545.46,685.78 545.62,685.00 545.79,684.70 545.95,685.06 546.12,685.87 546.28,686.70 546.45,687.12 546.61,686.93 546.78,686.22 546.94,685.36 547.11,684.78 547.28,684.81 547.44,685.44 547.61,686.31 547.77,686.97 547.94,687.09 548.10,686.61 548.27,685.78 548.43,685.01 548.60,684.72 548.76,685.08 548.93,685.88 549.09,686.69 549.26,687.10 549.42,686.91 549.59,686.21 549.75,685.36 549.92,684.80 550.09,684.83 550.25,685.45 550.42,686.31 550.58,686.96 550.75,687.07 550.91,686.60 551.08,685.78 551.24,685.03 551.41,684.75 551.57,685.10 551.74,685.88 551.90,686.68 552.07,687.08 552.23,686.89 552.40,686.20 552.56,685.37 552.73,684.82 552.90,684.86 553.06,685.47 553.23,686.31 553.39,686.94 553.56,687.05 553.72,686.58 553.89,685.77 554.05,685.04 554.22,684.77 554.38,685.11 554.55,685.89 554.71,686.67 554.88,687.06 555.04,686.87 555.21,686.19 555.37,685.37 555.54,684.84 555.70,684.88 555.87,685.48 556.04,686.31 556.20,686.92 556.37,687.02 556.53,686.56 556.70,685.77 556.86,685.05 557.03,684.79 557.19,685.13 557.36,685.89 557.52,686.66 557.69,687.04 557.85,686.85 558.02,686.18 558.18,685.38 558.35,684.86 558.51,684.90 558.68,685.49 558.85,686.30 559.01,686.91 559.18,687.00 559.34,686.55 559.51,685.77 559.67,685.07 559.84,684.81 560.00,685.15 560.17,685.90 560.33,686.65 560.50,687.02 560.66,686.83 560.83,686.17 560.99,685.39 561.16,684.87 561.32,684.92 561.49,685.50 561.65,686.30 561.82,686.89 561.99,686.98 562.15,686.53 562.32,685.77 562.48,685.08 562.65,684.83 562.81,685.17 562.98,685.90 563.14,686.64 563.31,687.00 563.47,686.81 563.64,686.16 563.80,685.39 563.97,684.89 564.13,684.94 564.30,685.51 564.46,686.30 564.63,686.88 564.80,686.96 564.96,686.52 565.13,685.77 565.29,685.09 565.46,684.85 565.62,685.19 565.79,685.91 565.95,686.63 566.12,686.98 566.28,686.79 566.45,686.16 566.61,685.40 566.78,684.91 566.94,684.96 567.11,685.53 567.27,686.30 567.44,686.86 567.60,686.94 567.77,686.50 567.94,685.77 568.10,685.10 568.27,684.87 568.43,685.20 568.60,685.91 568.76,686.62 568.93,686.96 569.09,686.77 569.26,686.15 569.42,685.40 569.59,684.93 569.75,684.98 569.92,685.54 570.08,686.29 570.25,686.85 570.41,686.92 570.58,686.49 570.75,685.76 570.91,685.12 571.08,684.89 571.24,685.22 571.41,685.92 571.57,686.61 571.74,686.94 571.90,686.75 572.07,686.14 572.23,685.41 572.40,684.94 572.56,685.00 572.73,685.55 572.89,686.29 573.06,686.83 573.22,686.90 573.39,686.48 573.56,685.76 573.72,685.13 573.89,684.91 574.05,685.23 574.22,685.92 574.38,686.60 574.55,686.93 574.71,686.74 574.88,686.13 575.04,685.41 575.21,684.96 575.37,685.02 575.54,685.56 575.70,686.29 575.87,686.82 576.03,686.89 576.20,686.46 576.36,685.76 576.53,685.14 576.70,684.93 576.86,685.25 577.03,685.93 577.19,686.59 577.36,686.91 577.52,686.72 577.69,686.12 577.85,685.42 578.02,684.98 578.18,685.04 578.35,685.57 578.51,686.28 578.68,686.80 578.84,686.87 579.01,686.45 579.17,685.76 579.34,685.15 579.51,684.95 579.67,685.27 579.84,685.93 580.00,686.59 580.17,686.89 580.33,686.70 580.50,686.12 580.66,685.43 580.83,684.99 580.99,685.05 581.16,685.58 581.32,686.28 581.49,686.79 581.65,686.85 581.82,686.44 581.98,685.76 582.15,685.16 582.31,684.97 582.48,685.28 582.65,685.93 582.81,686.58 582.98,686.87 583.14,686.69 583.31,686.11 583.47,685.43 583.64,685.01 583.80,685.07 583.97,685.59 584.13,686.28 584.30,686.78 584.46,686.83 584.63,686.43 584.79,685.76 584.96,685.17 585.12,684.98 585.29,685.30 585.46,685.94 585.62,686.57 585.79,686.86 585.95,686.67 586.12,686.10 586.28,685.44 586.45,685.02 586.61,685.09 586.78,685.60 586.94,686.28 587.11,686.76 587.27,686.82 587.44,686.41 587.60,685.76 587.77,685.19 587.93,685.00 588.10,685.31 588.26,685.94 588.43,686.56 588.60,686.84 588.76,686.66 588.93,686.09 589.09,685.44 589.26,685.04 589.42,685.11 589.59,685.61 589.75,686.27 589.92,686.75 590.08,686.80 590.25,686.40 590.41,685.76 590.58,685.20 590.74,685.02 590.91,685.32 591.07,685.95 591.24,686.55 591.41,686.83 591.57,686.64 591.74,686.09 591.90,685.45 592.07,685.05 592.23,685.12 592.40,685.62 592.56,686.27 592.73,686.74 592.89,686.78 593.06,686.39 593.22,685.76 593.39,685.21 593.55,685.04 593.72,685.34 593.88,685.95 594.05,686.54 594.22,686.81 594.38,686.62 594.55,686.08 594.71,685.45 594.88,685.07 595.04,685.14 595.21,685.63 595.37,686.27 595.54,686.72 595.70,686.76 595.87,686.38 596.03,685.76 596.20,685.22 596.36,685.05 596.53,685.35 596.69,685.95 596.86,686.53 597.02,686.79 597.19,686.61 597.36,686.07 597.52,685.46 597.69,685.08 597.85,685.16 598.02,685.64 598.18,686.26 598.35,686.71 598.51,686.75 598.68,686.37 598.84,685.76 599.01,685.23 599.17,685.07 599.34,685.36 599.50,685.96 599.67,686.52 599.83,686.78 600.00,686.60 600.17,686.07 600.33,685.46 600.50,685.10 600.66,685.17 600.83,685.65 600.99,686.26 601.16,686.70 601.32,686.73 601.49,686.36 601.65,685.76 601.82,685.24 601.98,685.09 602.15,685.38 602.31,685.96 602.48,686.52 602.64,686.76 602.81,686.58 602.97,686.06 603.14,685.47 603.31,685.11 603.47,685.19 603.64,685.65 603.80,686.26 603.97,686.68 604.13,686.72 604.30,686.34 604.46,685.75 604.63,685.25 604.79,685.10 604.96,685.39 605.12,685.96 605.29,686.51 605.45,686.75 605.62,686.57 605.78,686.06 605.95,685.47 606.12,685.13 606.28,685.20 606.45,685.66 606.61,686.26 606.78,686.67 606.94,686.70 607.11,686.33 607.27,685.75 607.44,685.26 607.60,685.12 607.77,685.40 607.93,685.96 608.10,686.50 608.26,686.73 608.43,686.55 608.59,686.05 608.76,685.48 608.92,685.14 609.09,685.22 609.26,685.67 609.42,686.25 609.59,686.66 609.75,686.69 609.92,686.32 610.08,685.75 610.25,685.27 610.41,685.13 610.58,685.41 610.74,685.97 610.91,686.49 611.07,686.72 611.24,686.54 611.40,686.05 611.57,685.49 611.73,685.15 611.90,685.23 612.07,685.68 612.23,686.25 612.40,686.65 612.56,686.67 612.73,686.31 612.89,685.75 613.06,685.28 613.22,685.15 613.39,685.43 613.55,685.97 613.72,686.48 613.88,686.71 614.05,686.53 614.21,686.04 614.38,685.49 614.54,685.17 614.71,685.25 614.88,685.69 615.04,686.25 615.21,686.64 615.37,686.66 615.54,686.30 615.70,685.75 615.87,685.29 616.03,685.16 616.20,685.44 616.36,685.97 616.53,686.48 616.69,686.69 616.86,686.51 617.02,686.03 617.19,685.50 617.35,685.18 617.52,685.26 617.68,685.69 617.85,686.24 618.02,686.63 618.18,686.64 618.35,686.29 618.51,685.75 618.68,685.30 618.84,685.18 619.01,685.45 619.17,685.97 619.34,686.47 619.50,686.68 619.67,686.50 619.83,686.03 620.00,685.50 620.16,685.19 620.33,685.27 620.49,685.70 620.66,686.24 620.83,686.61 620.99,686.63 621.16,686.29 621.32,685.75 621.49,685.31 621.65,685.19 621.82,685.46 621.98,685.98 622.15,686.46 622.31,686.66 622.48,686.49 622.64,686.02 622.81,685.51 622.97,685.21 623.14,685.29 623.30,685.71 623.47,686.24 623.63,686.60 623.80,686.62 623.97,686.28 624.13,685.75 624.30,685.32 624.46,685.20 624.63,685.47 624.79,685.98 624.96,686.45 625.12,686.65 625.29,686.48 625.45,686.02 625.62,685.51 625.78,685.22 625.95,685.30 626.11,685.71 626.28,686.24 626.44,686.59 626.61,686.60 626.78,686.27 626.94,685.75 627.11,685.33 627.27,685.22 627.44,685.48 627.60,685.98 627.77,686.45 627.93,686.64 628.10,686.47 628.26,686.02 628.43,685.52 628.59,685.23 628.76,685.31 628.92,685.72 629.09,686.23 629.25,686.58 629.42,686.59 629.58,686.26 629.75,685.75 629.92,685.34 630.08,685.23 630.25,685.49 630.41,685.98 630.58,686.44 630.74,686.63 630.91,686.45 631.07,686.01 631.24,685.52 631.40,685.24 631.57,685.33 631.73,685.73 631.90,686.23 632.06,686.57 632.23,686.58 632.39,686.25 632.56,685.76 632.73,685.35 632.89,685.24 633.06,685.50 633.22,685.98 633.39,686.43 633.55,686.61 633.72,686.44 633.88,686.01 634.05,685.53 634.21,685.26 634.38,685.34 634.54,685.73 634.71,686.23 634.87,686.56 635.04,686.56 635.20,686.24 635.37,685.76 635.54,685.36 635.70,685.26 635.87,685.51 636.03,685.99 636.20,686.42 636.36,686.60 636.53,686.43 636.69,686.00 636.86,685.53 637.02,685.27 637.19,685.35 637.35,685.74 637.52,686.22 637.68,686.55 637.85,686.55 638.01,686.23 638.18,685.76 638.34,685.37 638.51,685.27 638.68,685.52 638.84,685.99 639.01,686.42 639.17,686.59 639.34,686.42 639.50,686.00 639.67,685.54 639.83,685.28 640.00,685.36 640.16,685.75 640.33,686.22 640.49,686.54 640.66,686.54 640.82,686.23 640.99,685.76 641.15,685.37 641.32,685.28 641.49,685.53 641.65,685.99 641.82,686.41 641.98,686.58 642.15,686.41 642.31,685.99 642.48,685.54 642.64,685.29 642.81,685.38 642.97,685.75 643.14,686.22 643.30,686.53 643.47,686.53 643.63,686.22 643.80,685.76 643.96,685.38 644.13,685.29 644.29,685.54 644.46,685.99 644.63,686.40 644.79,686.57 644.96,686.40 645.12,685.99 645.29,685.55 645.45,685.30 645.62,685.39 645.78,685.76 645.95,686.22 646.11,686.52 646.28,686.52 646.44,686.21 646.61,685.76 646.77,685.39 646.94,685.31 647.10,685.55 647.27,685.99 647.44,686.40 647.60,686.55 647.77,686.39 647.93,685.99 648.10,685.55 648.26,685.31 648.43,685.40 648.59,685.76 648.76,686.21 648.92,686.51 649.09,686.50 649.25,686.20 649.42,685.76 649.58,685.40 649.75,685.32 649.91,685.56 650.08,685.99 650.24,686.39 650.41,686.54 650.58,686.38 650.74,685.98 650.91,685.56 651.07,685.32 651.24,685.41 651.40,685.77 651.57,686.21 651.73,686.50 651.90,686.49 652.06,686.20 652.23,685.76 652.39,685.41 652.56,685.33 652.72,685.57 652.89,685.99 653.05,686.38 653.22,686.53 653.39,686.37 653.55,685.98 653.72,685.56 653.88,685.33 654.05,685.42 654.21,685.77 654.38,686.21 654.54,686.49 654.71,686.48 654.87,686.19 655.04,685.76 655.20,685.42 655.37,685.34 655.53,685.58 655.70,686.00 655.86,686.38 656.03,686.52 656.20,686.36 656.36,685.98 656.53,685.57 656.69,685.34 656.86,685.43 657.02,685.78 657.19,686.20 657.35,686.48 657.52,686.47 657.68,686.18 657.85,685.76 658.01,685.42 658.18,685.35 658.34,685.59 658.51,686.00 658.67,686.37 658.84,686.51 659.00,686.35 659.17,685.97 659.34,685.57 659.50,685.35 659.67,685.44 659.83,685.78 660.00,686.20 660.16,686.47 660.33,686.46 660.49,686.17 660.66,685.76 660.82,685.43 660.99,685.36 661.15,685.59 661.32,686.00 661.48,686.36 661.65,686.50 661.81,686.34 661.98,685.97 662.15,685.57 662.31,685.36 662.48,685.45 662.64,685.79 662.81,686.20 662.97,686.46 663.14,686.45 663.30,686.17 663.47,685.76 663.63,685.44 663.80,685.37 663.96,685.60 664.13,686.00 664.29,686.36 664.46,686.49 664.62,686.33 664.79,685.97 664.95,685.58 665.12,685.37 665.29,685.46 665.45,685.79 665.62,686.19 665.78,686.45 665.95,686.44 666.11,686.16 666.28,685.76 666.44,685.45 666.61,685.39 666.77,685.61 666.94,686.00 667.10,686.35 667.27,686.48 667.43,686.32 667.60,685.96 667.76,685.58 667.93,685.38 668.10,685.47 668.26,685.80 668.43,686.19 668.59,686.44 668.76,686.43 668.92,686.16 669.09,685.76 669.25,685.45 669.42,685.40 669.58,685.62 669.75,686.00 669.91,686.34 670.08,686.47 670.24,686.31 670.41,685.96 670.57,685.59 670.74,685.39 670.90,685.48 671.07,685.80 671.24,686.19 671.40,686.44 671.57,686.42 671.73,686.15 671.90,685.76 672.06,685.46 672.23,685.41 672.39,685.63 672.56,686.00 672.72,686.34 672.89,686.46 673.05,686.31 673.22,685.96 673.38,685.59 673.55,685.40 673.71,685.49 673.88,685.81 674.05,686.19 674.21,686.43 674.38,686.41 674.54,686.14 674.71,685.76 674.87,685.47 675.04,685.42 675.20,685.63 675.37,686.00 675.53,686.33 675.70,686.45 675.86,686.30 676.03,685.95 676.19,685.60 676.36,685.41 676.52,685.50 676.69,685.81 676.86,686.18 677.02,686.42 677.19,686.40 677.35,686.14 677.52,685.77 677.68,685.48 677.85,685.43 678.01,685.64 678.18,686.00 678.34,686.33 678.51,686.44 678.67,686.29 678.84,685.95 679.00,685.60 679.17,685.42 679.33,685.51 679.50,685.82 679.66,686.18 679.83,686.41 680.00,686.39 680.16,686.13 680.33,685.77 680.49,685.48 680.66,685.44 680.82,685.65 680.99,686.00 681.15,686.32 681.32,686.43 681.48,686.28 681.65,685.95 681.81,685.61 681.98,685.43 682.14,685.52 682.31,685.82 682.47,686.18 682.64,686.40 682.81,686.38 682.97,686.13 683.14,685.77 683.30,685.49 683.47,685.44 683.63,685.65 683.80,686.01 683.96,686.31 684.13,686.42 684.29,686.27 684.46,685.95 684.62,685.61 684.79,685.44 684.95,685.53 685.12,685.82 685.28,686.18 685.45,686.40 685.61,686.37 685.78,686.12 685.95,685.77 686.11,685.50 686.28,685.45 686.44,685.66 686.61,686.01 686.77,686.31 686.94,686.41 687.10,686.27 687.27,685.94 687.43,685.61 687.60,685.45 687.76,685.53 687.93,685.83 688.09,686.17 688.26,686.39 688.42,686.36 688.59,686.12 688.76,685.77 688.92,685.51 689.09,685.46 689.25,685.67 689.42,686.01 689.58,686.30 689.75,686.40 689.91,686.26 690.08,685.94 690.24,685.62 690.41,685.46 690.57,685.54 690.74,685.83 690.90,686.17 691.07,686.38 691.23,686.36 691.40,686.11 691.56,685.77 691.73,685.51 691.90,685.47 692.06,685.67 692.23,686.01 692.39,686.30 692.56,686.39 692.72,686.25 692.89,685.94 693.05,685.62 693.22,685.46 693.38,685.55 693.55,685.84 693.71,686.17 693.88,686.37 694.04,686.35 694.21,686.10 694.37,685.77 694.54,685.52 694.71,685.48 694.87,685.68 695.04,686.01 695.20,686.29 695.37,686.39 695.53,686.24 695.70,685.94 695.86,685.63 696.03,685.47 696.19,685.56 696.36,685.84 696.52,686.16 696.69,686.36 696.85,686.34 697.02,686.10 697.18,685.77 697.35,685.53 697.52,685.49 697.68,685.69 697.85,686.01 698.01,686.29 698.18,686.38 698.34,686.24 698.51,685.94 698.67,685.63 698.84,685.48 699.00,685.57 699.17,685.84 699.33,686.16 699.50,686.36 699.66,686.33 699.83,686.10 699.99,685.77 700.16,685.53 700.32,685.50 700.49,685.69 700.66,686.01 700.82,686.28 700.99,686.37 701.15,686.23 701.32,685.93 701.48,685.63 701.65,685.49 701.81,685.57 701.98,685.85 702.14,686.16 702.31,686.35 702.47,686.32 702.64,686.09 702.80,685.77 702.97,685.54 703.13,685.51 703.30,685.70 703.47,686.01 703.63,686.28 703.80,686.36 703.96,686.22 704.13,685.93 704.29,685.64 704.46,685.50 704.62,685.58 704.79,685.85 704.95,686.16 705.12,686.34 705.28,686.31 705.45,686.09 705.61,685.78 705.78,685.54 705.94,685.51 706.11,685.70 706.27,686.01 706.44,686.27 706.61,686.35 706.77,686.22 706.94,685.93 707.10,685.64 707.27,685.50 707.43,685.59 707.60,685.85 707.76,686.15 707.93,686.34 708.09,686.31 708.26,686.08 708.42,685.78 708.59,685.55 708.75,685.52 708.92,685.71 709.08,686.01 709.25,686.27 709.42,686.35 709.58,686.21 709.75,685.93 709.91,685.65 710.08,685.51 710.24,685.60 710.41,685.86 710.57,686.15 710.74,686.33 710.90,686.30 711.07,686.08 711.23,685.78 711.40,685.56 711.56,685.53 711.73,685.71 711.89,686.01 712.06,686.26 712.22,686.34 712.39,686.20 712.56,685.93 712.72,685.65 712.89,685.52 713.05,685.60 713.22,685.86 713.38,686.15 713.55,686.32 713.71,686.29 713.88,686.07 714.04,685.78 714.21,685.56 714.37,685.54 714.54,685.72 714.70,686.01 714.87,686.26 715.03,686.33 715.20,686.20 715.37,685.92 715.53,685.65 715.70,685.53 715.86,685.61 716.03,685.86 716.19,686.15 716.36,686.32 716.52,686.28 716.69,686.07 716.85,685.78 717.02,685.57 717.18,685.55 717.35,685.72 717.51,686.01 717.68,686.25 717.84,686.32 718.01,686.19 718.18,685.92 718.34,685.66 718.51,685.53 718.67,685.62 718.84,685.86 719.00,686.14 719.17,686.31 719.33,686.28 719.50,686.06 719.66,685.78 719.83,685.57 719.99,685.55 720.16,685.73 720.32,686.01 720.49,686.25 720.65,686.32 720.82,686.19 720.98,685.92 721.15,685.66 721.32,685.54 721.48,685.62 721.65,685.87 721.81,686.14 721.98,686.30 722.14,686.27 722.31,686.06 722.47,685.78 722.64,685.58 722.80,685.56 722.97,685.74 723.13,686.01 723.30,686.24 723.46,686.31 723.63,686.18 723.79,685.92 723.96,685.66 724.13,685.55 724.29,685.63 724.46,685.87 724.62,686.14 724.79,686.30 724.95,686.26 725.12,686.06 725.28,685.78 725.45,685.59 725.61,685.57 725.78,685.74 725.94,686.01 726.11,686.24 726.27,686.30 726.44,686.17 726.60,685.92 726.77,685.67 726.93,685.55 727.10,685.64 727.27,685.87 727.43,686.14 727.60,686.29 727.76,686.26 727.93,686.05 728.09,685.78 728.26,685.59 728.42,685.57 728.59,685.74 728.75,686.01 728.92,686.23 729.08,686.29 729.25,686.17 729.41,685.92 729.58,685.67 729.74,685.56 729.91,685.64 730.08,685.88 730.24,686.13 730.41,686.28 730.57,686.25 730.74,686.05 730.90,685.79 731.07,685.60 731.23,685.58 731.40,685.75 731.56,686.01 731.73,686.23 731.89,686.29 732.06,686.16 732.22,685.92 732.39,685.68 732.55,685.57 732.72,685.65 732.88,685.88 733.05,686.13 733.22,686.28 733.38,686.24 733.55,686.05 733.71,685.79 733.88,685.60 734.04,685.59 734.21,685.75 734.37,686.01 734.54,686.22 734.70,686.28 734.87,686.16 735.03,685.91 735.20,685.68 735.36,685.57 735.53,685.66 735.69,685.88 735.86,686.13 736.03,686.27 736.19,686.24 736.36,686.04 736.52,685.79 736.69,685.61 736.85,685.60 737.02,685.76 737.18,686.01 737.35,686.22 737.51,686.27 737.68,686.15 737.84,685.91 738.01,685.68 738.17,685.58 738.34,685.66 738.50,685.88 738.67,686.13 738.84,686.27 739.00,686.23 739.17,686.04 739.33,685.79 739.50,685.61 739.66,685.60 739.83,685.76 739.99,686.01 740.16,686.21 740.32,686.27 740.49,686.15 740.65,685.91 740.82,685.69 740.98,685.59 741.15,685.67 741.31,685.88 741.48,686.12 741.64,686.26 741.81,686.22 741.98,686.04 742.14,685.79 742.31,685.62 742.47,685.61 742.64,685.77 742.80,686.01 742.97,686.21 743.13,686.26 743.30,686.14 743.46,685.91 743.63,685.69 743.79,685.59 743.96,685.67 744.12,685.89 744.29,686.12 744.45,686.25 744.62,686.22 744.79,686.03 744.95,685.79 745.12,685.62 745.28,685.61 745.45,685.77 745.61,686.01 745.78,686.20 745.94,686.26 746.11,686.14 746.27,685.91 746.44,685.69 746.60,685.60 746.77,685.68 746.93,685.89 747.10,686.12 747.26,686.25 747.43,686.21 747.59,686.03 747.76,685.79 747.93,685.63 748.09,685.62 748.26,685.78 748.42,686.01 748.59,686.20 748.75,686.25 748.92,686.13 749.08,685.91 749.25,685.70 749.41,685.60 749.58,685.68 749.74,685.89 749.91,686.12 750.07,686.24 750.24,686.21 750.40,686.03 750.57,685.79 750.74,685.63 750.90,685.63 751.07,685.78 751.23,686.01 751.40,686.20 751.56,686.24 751.73,686.13 751.89,685.91 752.06,685.70 752.22,685.61 752.39,685.69 752.55,685.89 752.72,686.11 752.88,686.24 753.05,686.20 753.21,686.02 753.38,685.80 753.54,685.64 753.71,685.63 753.88,685.78 754.04,686.01 754.21,686.19 754.37,686.24 754.54,686.12 754.70,685.91 754.87,685.70 755.03,685.62 755.20,685.69 755.36,685.89 755.53,686.11 755.69,686.23 755.86,686.20 756.02,686.02 756.19,685.80 756.35,685.64 756.52,685.64 756.69,685.79 756.85,686.01 757.02,686.19 757.18,686.23 757.35,686.12 757.51,685.91 757.68,685.71 757.84,685.62 758.01,685.70 758.17,685.90 758.34,686.11 758.50,686.23 758.67,686.19 758.83,686.02 759.00,685.80 759.16,685.65 759.33,685.64 759.50,685.79 759.66,686.01 759.83,686.18 759.99,686.23 760.16,686.11 760.32,685.91 760.49,685.71 760.65,685.63 760.82,685.70 760.98,685.90 761.15,686.11 761.31,686.22 761.48,686.18 761.64,686.01 761.81,685.80 761.97,685.65 762.14,685.65 762.30,685.79 762.47,686.01 762.64,686.18 762.80,686.22 762.97,686.11 763.13,685.90 763.30,685.71 763.46,685.63 763.63,685.71 763.79,685.90 763.96,686.11 764.12,686.22 764.29,686.18 764.45,686.01 764.62,685.80 764.78,685.66 764.95,685.66 765.11,685.80 765.28,686.01 765.45,686.18 765.61,686.21 765.78,686.11 765.94,685.90 766.11,685.72 766.27,685.64 766.44,685.71 766.60,685.90 766.77,686.10 766.93,686.21 767.10,686.17 767.26,686.01 767.43,685.80 767.59,685.66 767.76,685.66 767.92,685.80 768.09,686.01 768.25,686.17 768.42,686.21 768.59,686.10 768.75,685.90 768.92,685.72 769.08,685.64 769.25,685.72 769.41,685.90 769.58,686.10 769.74,686.21 769.91,686.17 770.07,686.01 770.24,685.80 770.40,685.67 770.57,685.67 770.73,685.80 770.90,686.01 771.06,686.17 771.23,686.20 771.40,686.10 771.56,685.90 771.73,685.72 771.89,685.65 772.06,685.72 772.22,685.91 772.39,686.10 772.55,686.20 772.72,686.16 772.88,686.00 773.05,685.80 773.21,685.67 773.38,685.67 773.54,685.81 773.71,686.01 773.87,686.16 774.04,686.20 774.20,686.09 774.37,685.90 774.54,685.72 774.70,685.65 774.87,685.73 775.03,685.91 775.20,686.10 775.36,686.20 775.53,686.16 775.69,686.00 775.86,685.81 776.02,685.67 776.19,685.68 776.35,685.81 776.52,686.01 776.68,686.16 776.85,686.19 777.01,686.09 777.18,685.90"/>
<text class="t" style="font-size:33.0px" transform="translate(114.40 787.70) scale(1 1.05)">0</text>
<text class="t" style="font-size:33.0px" transform="translate(277.60 787.70) scale(1 1.05)">1000</text>
<text class="t" style="font-size:33.0px" transform="translate(442.00 787.70) scale(1 1.05)">2000</text>
<text class="t" style="font-size:33.0px" transform="translate(606.80 787.70) scale(1 1.05)">3000</text>
<text class="t" style="font-size:33.0px" transform="translate(772.20 787.70) scale(1 1.05)">4000</text>
<text class="r" style="font-size:33.0px" transform="translate(99.10 753.30) scale(1 1.05)">0</text>
<text class="r" style="font-size:33.0px" transform="translate(99.10 641.36) scale(1 1.05)">20</text>
<text class="r" style="font-size:33.0px" transform="translate(99.10 529.42) scale(1 1.05)">40</text>
<text class="r" style="font-size:33.0px" transform="translate(99.10 417.47) scale(1 1.05)">60</text>
<text class="r" style="font-size:33.0px" transform="translate(99.10 305.53) scale(1 1.05)">80</text>
<text class="r" style="font-size:33.0px" transform="translate(99.10 193.59) scale(1 1.05)">100</text>
<text class="r" style="font-size:33.0px" transform="translate(99.10 81.65) scale(1 1.05)">120</text>
<text transform="translate(247.60 27.90) scale(1 1.02)">Phase Portrait at h = 6.35</text>
<text class="t" transform="translate(444.70 831.00) scale(1 1.04)">n</text>
<text class="t" transform="translate(29.00 389.60) rotate(-90) scale(1 1.04)">U, V</text>
<rect x="599.30" y="142.30" width="164.10" height="116.50" fill="#fff" stroke="#231f20" stroke-width="1.6"/>
<line x1="608.9" y1="173.7" x2="709.7" y2="173.7" stroke="#0072bd" stroke-width="2.0" stroke-dasharray="20.5 12"/>
<line x1="608.9" y1="227.2" x2="709.7" y2="227.2" stroke="#d95319" stroke-width="2.0"/>
<text style="font-size:30.5px" transform="translate(717.20 180.30) scale(1 1.04)">U<tspan dx="0" dy="14.0" style="font-size:23.5px">n</tspan></text>
<text style="font-size:30.5px" transform="translate(717.20 232.50) scale(1 1.04)">V<tspan dx="0" dy="14.0" style="font-size:23.5px">n</tspan></text>
</g>
<g id="right">
<rect class="ax" x="986.96" y="40.06" width="662.92" height="699.54"/>
<path class="tk" d="M1081.66 739.60v-7.6 M1081.66 40.06v7.6 M1239.50 739.60v-7.6 M1239.50 40.06v7.6 M1397.34 739.60v-7.6 M1397.34 40.06v7.6 M1555.18 739.60v-7.6 M1555.18 40.06v7.6 M986.96 700.74h7.6 M1649.88 700.74h-7.6 M986.96 623.01h7.6 M1649.88 623.01h-7.6 M986.96 545.28h7.6 M1649.88 545.28h-7.6 M986.96 467.56h7.6 M1649.88 467.56h-7.6 M986.96 389.83h7.6 M1649.88 389.83h-7.6 M986.96 312.10h7.6 M1649.88 312.10h-7.6 M986.96 234.38h7.6 M1649.88 234.38h-7.6 M986.96 156.65h7.6 M1649.88 156.65h-7.6 M986.96 78.92h7.6 M1649.88 78.92h-7.6"/>
<polyline class="m" stroke="#0072bd" stroke-width="1.65" points="1081.66,545.28 1219.49,680.72 1376.83,709.43 1525.32,687.88 1626.90,613.87 1617.74,458.72 1423.31,211.44 1115.27,57.66 1039.52,352.55 1139.79,613.82 1283.68,691.60 1435.10,697.68 1563.37,656.19 1621.82,553.22 1540.31,362.28 1284.42,130.46 1054.44,156.25 1082.65,498.74 1203.47,653.75 1349.30,693.28 1489.58,678.22 1588.42,612.49 1589.75,474.98 1430.05,258.86 1158.82,108.45 1054.93,320.33 1133.86,582.02 1265.67,673.21 1408.56,686.49 1531.78,650.95 1592.38,558.07 1528.66,387.50 1308.11,178.28 1086.67,170.69 1086.39,462.52 1192.21,630.33 1328.41,679.45 1462.22,670.39 1559.30,611.81 1569.08,487.95 1435.18,294.20 1191.96,146.99 1071.34,301.57 1131.05,554.47 1251.93,656.49 1387.35,676.39 1506.25,646.27 1568.51,561.84 1518.71,407.30 1325.76,215.74 1114.40,186.25 1092.09,434.81 1184.44,609.70 1312.15,667.09 1440.42,663.46 1535.93,610.98 1552.24,498.00 1438.17,321.45 1217.70,178.23 1087.65,291.57 1130.44,530.85 1241.34,641.26 1370.06,667.16 1485.13,641.94 1548.61,564.70 1509.87,423.11 1339.07,245.85 1138.14,201.73 1099.01,413.89 1179.19,591.41 1299.25,655.80 1422.53,657.05 1516.48,609.86 1537.81,505.82 1439.43,343.10 1238.05,204.39 1103.25,287.18 1131.39,510.80 1233.15,627.37 1355.79,658.65 1467.36,637.85 1531.65,566.79 1501.82,435.90 1349.14,270.55 1158.45,216.57 1106.64,398.28 1175.82,575.18 1288.85,645.38 1407.55,651.03 1499.90,608.47 1525.12,511.96 1439.46,360.70 1254.38,226.73 1117.86,286.40 1133.44,493.91 1226.83,614.71 1343.88,650.73 1452.21,633.93 1516.96,568.24 1494.37,446.35 1356.76,291.13 1175.85,230.55 1114.58,386.80 1173.85,560.78 1280.38,635.73 1394.83,645.32 1485.52,606.88 1513.79,516.81 1438.61,375.27 1267.64,246.04 1131.34,287.92 1136.29,479.76 1221.97,603.16 1333.85,643.33 1439.13,630.13 1504.06,569.16 1487.41,454.96 1362.51,308.52 1190.81,243.59 1122.57,378.50 1172.93,548.03 1273.44,626.77 1383.89,639.89 1472.92,605.12 1503.57,520.66 1437.15,387.50 1278.50,262.90 1143.69,290.92 1139.68,467.97 1218.29,592.64 1325.35,636.40 1427.74,626.45 1492.60,569.65 1480.87,462.13 1366.81,323.38 1203.72,255.70 1130.44,372.65 1172.83,536.74 1267.73,618.43 1374.42,634.71 1461.76,603.25 1494.27,523.73 1435.28,397.88 1287.45,277.74 1154.96,294.83 1143.43,458.18 1215.54,583.05 1318.11,629.88 1417.72,622.87 1482.34,569.80 1474.71,468.13 1369.98,336.22 1214.90,266.91 1138.07,368.68 1173.35,526.78 1263.02,610.68 1366.15,629.77 1451.82,601.30 1485.77,526.17 1433.12,406.78 1294.88,290.89 1165.21,299.31 1147.41,450.09 1213.56,574.30 1311.89,623.73 1408.86,619.39 1473.08,569.66 1468.88,473.19 1372.27,347.40 1224.62,277.28 1145.39,366.15 1174.34,517.99 1259.14,603.47 1358.90,625.05 1442.89,599.29 1477.96,528.09 1430.76,414.46 1301.06,302.60 1174.52,304.10 1151.52,443.43 1212.19,566.34 1306.55,617.94 1400.97,616.01 1464.66,569.30 1463.36,477.47 1373.86,357.21 1233.11,286.88 1152.37,364.75 1175.71,510.25 1255.96,596.75 1352.52,620.54 1434.84,597.25 1470.75,529.60 1428.28,421.13 1306.22,313.10 1182.99,309.03 1155.69,437.98 1211.33,559.07 1301.94,612.48 1393.92,612.71 1456.99,568.76 1458.12,481.11 1374.90,365.88 1240.54,295.77 1159.00,364.21 1177.35,503.44 1253.35,590.50 1346.86,616.23 1427.55,595.19 1464.07,530.76 1425.72,426.97 1310.54,322.55 1190.69,314.01 1159.84,433.55 1210.88,552.46 1297.96,607.32 1387.58,609.52 1449.95,568.07 1453.15,484.21 1375.49,373.58 1247.06,304.01 1165.26,364.33 1179.20,497.46 1251.23,584.68 1341.84,612.11 1420.91,593.12 1457.86,531.63 1423.12,432.09 1314.15,331.09 1197.69,318.95 1163.96,429.97 1210.78,546.43 1294.51,602.44 1381.85,606.41 1443.47,567.26 1448.43,486.86 1375.73,380.46 1252.81,311.66 1171.16,364.96 1181.21,492.20 1249.53,579.26 1337.38,608.16 1414.84,591.06 1452.06,532.25 1420.50,436.61 1317.17,338.86 1204.08,323.81 1168.00,427.12 1210.95,540.93 1291.52,597.83 1376.68,603.39 1437.49,566.36 1443.93,489.12 1375.68,386.63 1257.89,318.77 1176.72,366.00 1183.33,487.59 1248.19,574.21 1333.39,604.39 1409.28,589.01 1446.65,532.67 1417.89,440.61 1319.69,345.93 1209.91,328.55 1171.95,424.87 1211.36,535.92 1288.93,593.47 1371.97,600.47 1431.94,565.38 1439.66,491.06 1375.39,392.19 1262.39,325.39 1181.94,367.33 1185.53,483.55 1247.14,569.50 1329.82,600.77 1404.17,586.97 1441.57,532.92 1415.30,444.17 1321.80,352.40 1215.23,333.15 1175.79,423.14 1211.95,531.36 1286.69,589.34 1367.69,597.63 1426.79,564.33 1435.58,492.71 1374.92,397.22 1266.38,331.57 1186.86,368.89 1187.78,480.01 1246.36,565.11 1326.63,597.31 1399.46,584.95 1436.81,533.02 1412.74,447.33 1323.54,358.34 1220.10,337.60 1179.51,421.84 1212.71,527.19 1284.76,585.44 1363.79,594.88 1421.99,563.24 1431.68,494.13 1374.30,401.79 1269.92,337.35 1191.48,370.62 1190.05,476.92 1245.80,561.02 1323.76,594.00 1395.11,582.96 1432.32,533.00 1410.22,450.16 1324.97,363.81 1224.57,341.90 1183.10,420.91 1213.58,523.40 1283.09,581.74 1360.21,592.21 1417.51,562.11 1427.97,495.33 1373.56,405.94 1273.08,342.75 1195.82,372.48 1192.34,474.23 1245.44,557.20 1321.18,590.82 1391.08,581.00 1428.08,532.86 1407.75,452.70 1326.15,368.85 1228.67,346.04 1186.57,420.29 1214.57,519.94 1281.66,578.23 1356.94,589.62 1413.32,560.95 1424.41,496.35 1372.71,409.74 1275.90,347.82 1199.91,374.43 1194.63,471.89 1245.24,553.63 1318.86,587.77 1387.34,579.07 1424.08,532.64 1405.32,454.97 1327.10,373.52 1232.44,350.03 1189.92,419.93 1215.64,516.78 1280.44,574.90 1353.93,587.11 1409.39,559.77 1421.01,497.21 1371.79,413.21 1278.42,352.58 1203.75,376.45 1196.90,469.85 1245.18,550.30 1316.78,584.85 1383.86,577.17 1420.30,532.34 1402.94,457.02 1327.85,377.85 1235.91,353.86 1193.14,419.79 1216.77,513.90 1279.39,571.75 1351.16,584.68 1405.70,558.57 1417.75,497.93 1370.81,416.40 1280.66,357.06 1207.37,378.50 1199.15,468.10 1245.25,547.19 1314.90,582.05 1380.61,575.30 1416.71,531.97 1400.62,458.86 1328.43,381.88 1239.11,357.54 1196.24,419.84 1217.96,511.27 1278.51,568.76 1348.61,582.32 1402.23,557.37 1414.63,498.52 1369.78,419.34 1282.68,361.28 1210.78,380.57 1201.36,466.58 1245.43,544.27 1313.20,579.35 1377.58,573.47 1413.30,531.54 1398.35,460.52 1328.87,385.63 1242.06,361.08 1199.22,420.05 1219.19,508.87 1277.78,565.92 1346.26,580.04 1398.95,556.15 1411.64,499.01 1368.70,422.04 1284.48,365.27 1213.99,382.65 1203.55,465.28 1245.70,541.55 1311.68,576.77 1374.75,571.67 1410.06,531.07 1396.14,462.02 1329.18,389.14 1244.80,364.48 1202.08,420.40 1220.46,506.68 1277.17,563.21 1344.08,577.82 1395.86,554.94 1408.76,499.40 1367.60,424.54 1286.10,369.03 1217.03,384.73 1205.70,464.18 1246.05,539.00 1310.30,574.29 1372.10,569.91 1406.98,530.55 1393.98,463.38 1329.39,392.42 1247.33,367.75 1204.83,420.85 1221.74,504.69 1276.67,560.65 1342.07,575.67 1392.94,553.73 1406.00,499.71 1366.48,426.86 1287.54,372.60 1219.89,386.80 1207.80,463.24 1246.47,536.61 1309.06,571.90 1369.61,568.18 1404.03,530.00 1391.88,464.61 1329.50,395.49 1249.67,370.89 1207.48,421.40 1223.05,502.86 1276.28,558.20 1340.21,573.58 1390.17,552.52 1403.34,499.94 1365.35,429.01 1288.84,375.97 1222.60,388.85 1209.86,462.46 1246.94,534.37 1307.94,569.60 1367.27,566.49 1401.23,529.42 1389.83,465.72 1329.52,398.38 1251.85,373.91 1210.02,422.03 1224.36,501.20 1275.97,555.88 1338.48,571.56 1387.55,551.31 1400.78,500.11 1364.20,431.01 1290.01,379.18 1225.16,390.87 1211.88,461.81 1247.47,532.27 1306.93,567.40 1365.07,564.83 1398.55,528.82 1387.83,466.73 1329.48,401.10 1253.88,376.81 1212.46,422.73 1225.68,499.68 1275.75,553.67 1336.87,569.59 1385.05,550.11 1398.31,500.22 1363.05,432.87 1291.06,382.23 1227.59,392.86 1213.85,461.28 1248.05,530.30 1306.03,565.27 1363.00,563.21 1395.98,528.19 1385.88,467.64 1329.37,403.66 1255.77,379.61 1214.81,423.48 1227.00,498.29 1275.60,551.56 1335.38,567.68 1382.68,548.93 1395.94,500.27 1361.91,434.60 1292.00,385.13 1229.89,394.82 1215.78,460.86 1248.66,528.45 1305.21,563.22 1361.05,561.62 1393.52,527.54 1383.98,468.47 1329.21,406.08 1257.53,382.30 1217.07,424.28 1228.32,497.02 1275.51,549.55 1333.99,565.83 1380.43,547.75 1393.64,500.28 1360.76,436.22 1292.84,387.89 1232.07,396.75 1217.66,460.53 1249.30,526.71 1304.48,561.25 1359.20,560.06 1391.17,526.89 1382.13,469.23 1329.00,408.37 1259.17,384.89 1219.25,425.11 1229.63,495.87 1275.48,547.63 1332.69,564.03 1378.28,546.59 1391.43,500.25 1359.62,437.74 1293.59,390.52 1234.15,398.64 1219.49,460.29 1249.97,525.08 1303.82,559.35 1357.46,558.54 1388.91,526.22 1380.33,469.91 1328.75,410.53 1260.71,387.39 1221.34,425.98 1230.93,494.81 1275.50,545.79 1331.49,562.29 1376.23,545.43 1389.29,500.18 1358.48,439.16 1294.27,393.04 1236.12,400.50 1221.28,460.12 1250.66,523.54 1303.24,557.52 1355.81,557.04 1386.74,525.54 1378.57,470.53 1328.47,412.59 1262.15,389.79 1223.35,426.86 1232.22,493.85 1275.57,544.04 1330.36,560.59 1374.27,544.30 1387.23,500.08 1357.36,440.50 1294.87,395.44 1237.99,402.31 1223.02,460.02 1251.36,522.09 1302.71,555.75 1354.24,555.58 1384.65,524.85 1376.86,471.10 1328.16,414.54 1263.49,392.12 1225.29,427.77 1233.50,492.97 1275.68,542.37 1329.31,558.94 1372.40,543.17 1385.23,499.95 1356.24,441.75 1295.42,397.74 1239.78,404.09 1224.72,459.98 1252.09,520.72 1302.24,554.05 1352.76,554.16 1382.65,524.16 1375.20,471.61 1327.82,416.39 1264.76,394.36 1227.17,428.69 1234.77,492.17 1275.82,540.77 1328.33,557.33 1370.61,542.06 1383.30,499.80 1355.14,442.93 1295.90,399.95 1241.48,405.83 1226.38,459.99 1252.82,519.44 1301.83,552.40 1351.35,552.76 1380.71,523.47 1373.57,472.08 1327.45,418.16 1265.95,396.53 1228.97,429.62 1236.02,491.44 1275.99,539.24 1327.41,555.77 1368.89,540.96 1381.43,499.62 1354.05,444.05 1296.33,402.06 1243.11,407.53 1228.00,460.04 1253.57,518.22 1301.46,550.81 1350.00,551.39 1378.85,522.78 1371.99,472.50 1327.07,419.84 1267.06,398.62 1230.71,430.55 1237.25,490.78 1276.20,537.77 1326.55,554.25 1367.25,539.88 1379.61,499.43 1352.98,445.10 1296.71,404.09 1244.66,409.19 1229.57,460.14 1254.32,517.07 1301.14,549.27 1348.73,550.05 1377.06,522.08 1370.44,472.88 1326.68,421.44 1268.11,400.64 1232.39,431.49 1238.47,490.18 1276.43,536.37 1325.74,552.77 1365.67,538.82 1377.85,499.22 1351.92,446.09 1297.06,406.04 1246.14,410.81 1231.11,460.28 1255.07,515.99 1300.85,547.78 1347.51,548.74 1375.32,521.39 1368.94,473.23 1326.27,422.98 1269.10,402.60 1234.01,432.42 1239.67,489.63 1276.68,535.02 1324.98,551.34 1364.15,537.77 1376.15,498.99 1350.87,447.03 1297.36,407.92 1247.56,412.40 1232.61,460.44 1255.83,514.97 1300.61,546.34 1346.35,547.45 1373.65,520.70 1367.47,473.55 1325.85,424.44 1270.04,404.49 1235.58,433.36 1240.85,489.13 1276.95,533.73 1324.27,549.94 1362.70,536.74 1374.50,498.75 1349.85,447.92 1297.63,409.72 1248.92,413.95 1234.07,460.64 1256.59,514.00 1300.39,544.95 1345.25,546.20 1372.03,520.01 1366.04,473.84 1325.42,425.85 1270.92,406.32 1237.10,434.29 1242.02,488.68 1277.24,532.48 1323.60,548.57 1361.29,535.72 1372.89,498.50 1348.84,448.77 1297.86,411.46 1250.23,415.46 1235.49,460.86 1257.35,513.08 1300.21,543.60 1344.19,544.97 1370.47,519.32 1364.64,474.10 1324.99,427.20 1271.76,408.10 1238.56,435.22 1243.17,488.27 1277.55,531.29 1322.97,547.24 1359.94,534.72 1371.33,498.24 1347.84,449.57 1298.07,413.13 1251.48,416.94 1236.87,461.10 1258.11,512.21 1300.05,542.29 1343.18,543.76 1368.95,518.64 1363.27,474.33 1324.55,428.49 1272.55,409.82 1239.98,436.14 1244.29,487.90 1277.86,530.14 1322.38,545.95 1358.64,533.73 1369.82,497.97 1346.86,450.33 1298.25,414.75 1252.68,418.39 1238.23,461.37 1258.86,511.38 1299.92,541.02 1342.21,542.58 1367.49,517.97 1361.94,474.55 1324.11,429.73 1273.30,411.49 1241.36,437.05 1245.40,487.56 1278.19,529.04 1321.82,544.68 1357.39,532.76 1368.35,497.69 1345.90,451.06 1298.41,416.31 1253.83,419.80 1239.55,461.64 1259.62,510.60 1299.81,539.79 1341.28,541.43 1366.07,517.30 1360.65,474.74 1323.66,430.92 1274.01,413.11 1242.69,437.95 1246.49,487.26 1278.53,527.98 1321.30,543.45 1356.18,531.81 1366.92,497.41 1344.96,451.75 1298.55,417.82 1254.94,421.17 1240.83,461.94 1260.36,509.85 1299.72,538.60 1340.39,540.30 1364.69,516.63 1359.38,474.92 1323.21,432.07 1274.68,414.68 1243.97,438.85 1247.56,486.98 1278.88,526.95 1320.80,542.25 1355.01,530.87 1365.52,497.12 1344.03,452.42 1298.67,419.27 1256.00,422.52 1242.09,462.24 1261.11,509.15 1299.65,537.44 1339.54,539.19 1363.36,515.98 1358.14,475.08 1322.77,433.18 1275.33,416.20 1245.22,439.73 1248.61,486.74 1279.24,525.97 1320.34,541.08 1353.88,529.95 1364.17,496.83 1343.12,453.05 1298.77,420.68 1257.03,423.83 1243.31,462.56 1261.84,508.47 1299.60,536.32 1338.72,538.11 1362.06,515.33 1356.93,475.22 1322.32,434.25 1275.94,417.69 1246.44,440.60 1249.65,486.52 1279.60,525.02 1319.89,539.94 1352.78,529.04 1362.85,496.53 1342.22,453.66 1298.85,422.05 1258.02,425.11 1244.51,462.88 1262.57,507.83 1299.56,535.23 1337.93,537.04 1360.80,514.68 1355.75,475.35 1321.88,435.28 1276.52,419.12 1247.61,441.46 1250.66,486.32 1279.96,524.10 1319.48,538.82 1351.73,528.15 1361.57,496.24 1341.35,454.24 1298.92,423.37 1258.98,426.37 1245.67,463.22 1263.30,507.22 1299.54,534.17 1337.18,536.00 1359.58,514.05 1354.60,475.46 1321.43,436.27 1277.08,420.52 1248.76,442.31 1251.66,486.14 1280.33,523.21 1319.08,537.73 1350.70,527.27 1360.31,495.94 1340.48,454.79 1298.98,424.65 1259.90,427.59 1246.81,463.55 1264.01,506.64 1299.54,533.14 1336.45,534.98 1358.40,513.42 1353.48,475.57 1320.99,437.23 1277.61,421.88 1249.87,443.15 1252.63,485.99 1280.70,522.36 1318.71,536.67 1349.71,526.41 1359.10,495.64 1339.64,455.33 1299.03,425.90 1260.79,428.78 1247.93,463.90 1264.72,506.09 1299.54,532.13 1335.74,533.98 1357.24,512.80 1352.38,475.66 1320.56,438.16 1278.12,423.21 1250.94,443.97 1253.60,485.85 1281.08,521.53 1318.35,535.63 1348.75,525.56 1357.91,495.34 1338.81,455.84 1299.06,427.10 1261.65,429.95 1249.01,464.24 1265.42,505.55 1299.56,531.16 1335.07,533.00 1356.12,512.19 1351.30,475.75 1320.12,439.06 1278.61,424.49 1251.99,444.78 1254.54,485.72 1281.45,520.73 1318.01,534.62 1347.81,524.73 1356.75,495.05 1338.00,456.34 1299.09,428.27 1262.49,431.09 1250.07,464.59 1266.11,505.05 1299.58,530.21 1334.41,532.04 1355.02,511.59 1350.25,475.82 1319.70,439.93 1279.08,425.75 1253.01,445.58 1255.46,485.62 1281.83,519.96 1317.69,533.62 1346.91,523.91 1355.62,494.75 1337.20,456.81 1299.11,429.41 1263.29,432.21 1251.11,464.95 1266.79,504.56 1299.61,529.29 1333.78,531.10 1353.96,510.99 1349.23,475.89 1319.27,440.77 1279.53,426.97 1254.01,446.36 1256.37,485.52 1282.21,519.21 1317.39,532.65 1346.03,523.11 1354.52,494.45 1336.42,457.27 1299.12,430.51 1264.07,433.29 1252.12,465.30 1267.47,504.10 1299.66,528.39 1333.17,530.18 1352.92,510.41 1348.22,475.95 1318.85,441.59 1279.96,428.16 1254.97,447.14 1257.26,485.44 1282.58,518.48 1317.10,531.71 1345.17,522.32 1353.44,494.16 1335.66,457.72 1299.12,431.59 1264.83,434.36 1253.11,465.65 1268.13,503.65 1299.70,527.51 1332.58,529.28 1351.91,509.83 1347.24,476.01 1318.44,442.39 1280.37,429.31 1255.91,447.89 1258.14,485.37 1282.96,517.78 1316.82,530.78 1344.34,521.54 1352.39,493.86 1334.91,458.14 1299.12,432.63 1265.57,435.40 1254.08,466.00 1268.79,503.23 1299.76,526.65 1332.01,528.39 1350.93,509.26 1346.29,476.06 1318.03,443.16 1280.77,430.44 1256.83,448.64 1258.99,485.31 1283.33,517.10 1316.55,529.87 1343.53,520.78 1351.37,493.57 1334.18,458.56 1299.12,433.65 1266.28,436.41 1255.02,466.35 1269.44,502.82 1299.82,525.82 1331.45,527.52 1349.97,508.70 1345.35,476.10 1317.63,443.91 1281.15,431.54 1257.72,449.37 1259.84,485.26 1283.70,516.43 1316.30,528.99 1342.75,520.03 1350.37,493.29 1333.46,458.96 1299.11,434.64 1266.97,437.40 1255.95,466.70 1270.08,502.42 1299.89,525.01 1330.92,526.67 1349.04,508.15 1344.43,476.14 1317.24,444.64 1281.52,432.62 1258.59,450.09 1260.66,485.22 1284.07,515.79 1316.06,528.12 1341.98,519.29 1349.39,493.00 1332.75,459.35 1299.09,435.61 1267.64,438.37 1256.85,467.05 1270.70,502.05 1299.96,524.21 1330.40,525.83 1348.12,507.60 1343.54,476.18 1316.85,445.35 1281.88,433.66 1259.44,450.79 1261.47,485.18 1284.44,515.16 1315.83,527.27 1341.23,518.57 1348.43,492.72 1332.06,459.73 1299.07,436.55 1268.30,439.32 1257.74,467.40 1271.32,501.68 1300.03,523.44 1329.89,525.01 1347.23,507.07 1342.66,476.21 1316.46,446.04 1282.23,434.68 1260.27,451.49 1262.27,485.16 1284.80,514.56 1315.61,526.44 1340.51,517.86 1347.50,492.44 1331.38,460.09 1299.05,437.46 1268.93,440.25 1258.60,467.74 1271.93,501.33 1300.11,522.68 1329.40,524.21 1346.36,506.54 1341.80,476.24 1316.09,446.72 1282.56,435.68 1261.07,452.17 1263.05,485.14 1285.16,513.97 1315.40,525.63 1339.80,517.16 1346.59,492.17 1330.72,460.45 1299.03,438.35 1269.55,441.16 1259.45,468.08 1272.53,500.99 1300.19,521.95 1328.92,523.42 1345.51,506.03 1340.97,476.26 1315.71,447.37 1282.88,436.65 1261.86,452.83 1263.81,485.12 1285.52,513.39 1315.20,524.83 1339.11,516.48 1345.70,491.89 1330.07,460.79 1299.00,439.23 1270.15,442.04 1260.28,468.42 1273.12,500.67 1300.27,521.23 1328.46,522.65 1344.68,505.52 1340.15,476.28 1315.35,448.01 1283.20,437.60 1262.63,453.49 1264.56,485.11 1285.88,512.83 1315.00,524.05 1338.43,515.81 1344.82,491.63 1329.44,461.13 1298.98,440.08 1270.74,442.91 1261.09,468.75 1273.71,500.35 1300.36,520.52 1328.01,521.89 1343.87,505.02 1339.34,476.30 1314.99,448.63 1283.50,438.53 1263.38,454.13 1265.30,485.11 1286.23,512.29 1314.81,523.28 1337.78,515.15 1343.97,491.36 1328.82,461.46 1298.95,440.91 1271.31,443.76 1261.88,469.08 1274.28,500.05 1300.44,519.83 1327.57,521.15 1343.08,504.53 1338.56,476.32 1314.64,449.24 1283.80,439.44 1264.12,454.76 1266.02,485.11 1286.57,511.76 1314.63,522.54 1337.13,514.50 1343.14,491.10 1328.21,461.78 1298.92,441.72 1271.87,444.59 1262.66,469.41 1274.84,499.76 1300.53,519.16 1327.14,520.42 1342.30,504.05 1337.79,476.34 1314.30,449.84 1284.08,440.32 1264.83,455.37 1266.73,485.11 1286.92,511.24 1314.46,521.80 1336.51,513.87 1342.32,490.85 1327.61,462.09 1298.89,442.51 1272.41,445.40 1263.42,469.73 1275.39,499.47 1300.62,518.50 1326.73,519.71 1341.55,503.57 1337.04,476.36 1313.96,450.42 1284.36,441.19 1265.53,455.98 1267.43,485.11 1287.25,510.74 1314.29,521.09 1335.89,513.24 1341.53,490.60 1327.03,462.39 1298.86,443.28 1272.94,446.19 1264.17,470.05 1275.94,499.20 1300.71,517.86 1326.32,519.00 1340.80,503.11 1336.30,476.37 1313.63,450.98 1284.63,442.03 1266.22,456.57 1268.11,485.12 1287.59,510.25 1314.13,520.38 1335.29,512.63 1340.74,490.35 1326.45,462.69 1298.83,444.04 1273.46,446.97 1264.90,470.36 1276.47,498.93 1300.80,517.23 1325.93,518.32 1340.08,502.65 1335.58,476.39 1313.30,451.54 1284.90,442.86 1266.89,457.15 1268.78,485.14 1287.92,509.77 1313.97,519.69 1334.71,512.03 1339.98,490.11 1325.89,462.98 1298.79,444.77 1273.96,447.72 1265.61,470.67 1277.00,498.67 1300.90,516.61 1325.54,517.64 1339.37,502.20 1334.88,476.40 1312.99,452.08 1285.15,443.66 1267.54,457.72 1269.44,485.15 1288.24,509.30 1313.82,519.02 1334.14,511.44 1339.23,489.87 1325.35,463.26 1298.76,445.50 1274.46,448.47 1266.31,470.97 1277.52,498.42 1300.99,516.01 1325.16,516.98 1338.68,501.76 1334.19,476.41 1312.67,452.61 1285.41,444.45 1268.19,458.28 1270.08,485.17 1288.56,508.85 1313.67,518.35 1333.58,510.86 1338.50,489.63 1324.81,463.54 1298.73,446.20 1274.94,449.19 1267.00,471.27 1278.02,498.18 1301.08,515.42 1324.80,516.33 1338.00,501.33 1333.51,476.42 1312.37,453.13 1285.65,445.22 1268.81,458.83 1270.71,485.19 1288.88,508.40 1313.53,517.70 1333.03,510.29 1337.79,489.40 1324.29,463.81 1298.70,446.89 1275.41,449.90 1267.67,471.56 1278.52,497.94 1301.17,514.84 1324.44,515.69 1337.33,500.90 1332.85,476.43 1312.07,453.64 1285.89,445.98 1269.43,459.37 1271.33,485.21 1289.19,507.97 1313.39,517.06 1332.49,509.73 1337.08,489.18 1323.77,464.08 1298.67,447.57 1275.87,450.60 1268.33,471.85 1279.01,497.71 1301.26,514.28 1324.08,515.06 1336.68,500.49 1332.21,476.45 1311.78,454.13 1286.12,446.72 1270.03,459.89 1271.94,485.23 1289.49,507.54 1313.26,516.44 1331.97,509.18 1336.40,488.96 1323.27,464.34 1298.64,448.23 1276.32,451.28 1268.97,472.14 1279.50,497.49 1301.35,513.72 1323.74,514.45 1336.04,500.08 1331.57,476.46 1311.49,454.62 1286.35,447.44 1270.62,460.41 1272.54,485.25 1289.79,507.12 1313.13,515.83 1331.45,508.64 1335.72,488.74 1322.78,464.60 1298.61,448.87 1276.77,451.95 1269.60,472.42 1279.97,497.27 1301.44,513.18 1323.40,513.85 1335.42,499.68 1330.95,476.47 1311.21,455.10 1286.58,448.15 1271.19,460.91 1273.13,485.27 1290.09,506.72 1313.00,515.23 1330.95,508.11 1335.07,488.53 1322.30,464.85 1298.58,449.51 1277.20,452.60 1270.22,472.69 1280.43,497.06 1301.53,512.65 1323.07,513.25 1334.81,499.28 1330.35,476.48 1310.94,455.56 1286.79,448.84 1271.76,461.40 1273.70,485.30 1290.38,506.32 1312.87,514.64 1330.46,507.60 1334.42,488.32 1321.82,465.10 1298.55,450.13 1277.62,453.24 1270.83,472.96 1280.89,496.85 1301.62,512.12 1322.75,512.67 1334.21,498.90 1329.75,476.49 1310.67,456.02 1287.01,449.52 1272.31,461.89 1274.26,485.32 1290.67,505.93 1312.75,514.06 1329.97,507.09 1333.79,488.11 1321.36,465.34 1298.52,450.74 1278.04,453.86 1271.43,473.22 1281.34,496.65 1301.71,511.61 1322.44,512.10 1333.62,498.52 1329.17,476.51 1310.41,456.47 1287.22,450.18 1272.85,462.36 1274.82,485.34 1290.95,505.55 1312.63,513.49 1329.50,506.59 1333.17,487.91 1320.91,465.58 1298.50,451.33 1278.44,454.47 1272.01,473.48 1281.78,496.46 1301.79,511.11 1322.13,511.54 1333.04,498.15 1328.60,476.52 1310.15,456.91 1287.43,450.83 1273.39,462.83 1275.36,485.37 1291.23,505.17 1312.52,512.93 1329.03,506.10 1332.56,487.72 1320.47,465.81 1298.47,451.91 1278.84,455.07 1272.58,473.74 1282.21,496.26 1301.88,510.62 1321.82,510.99 1332.48,497.78 1328.04,476.53 1309.90,457.34 1287.63,451.46 1273.91,463.28 1275.89,485.39 1291.50,504.81 1312.40,512.39 1328.58,505.62 1331.97,487.53 1320.04,466.04 1298.45,452.48 1279.23,455.66 1273.14,473.99 1282.64,496.07 1301.96,510.14 1321.53,510.46 1331.93,497.43 1327.50,476.55 1309.66,457.77 1287.83,452.08 1274.42,463.73 1276.42,485.42 1291.77,504.45 1312.29,511.85 1328.13,505.15 1331.39,487.34 1319.62,466.27 1298.42,453.04 1279.61,456.23 1273.69,474.23 1283.05,495.89 1302.05,509.67 1321.23,509.93 1331.38,497.08 1326.96,476.56 1309.42,458.18 1288.02,452.69 1274.92,464.16 1276.93,485.44 1292.03,504.10 1312.18,511.32 1327.69,504.68 1330.82,487.16 1319.20,466.49 1298.40,453.59 1279.99,456.79 1274.23,474.47 1283.46,495.71 1302.13,509.20 1320.95,509.41 1330.85,496.74 1326.44,476.58 1309.19,458.59 1288.21,453.29 1275.41,464.59 1277.43,485.47 1292.29,503.75 1312.08,510.81 1327.26,504.23 1330.26,486.98 1318.80,466.71 1298.38,454.13 1280.36,457.34 1274.76,474.71 1283.86,495.53 1302.21,508.75 1320.67,508.90 1330.33,496.40 1325.93,476.59 1308.96,458.99 1288.40,453.87 1275.89,465.01 1277.92,485.49 1292.54,503.42 1311.97,510.30 1326.84,503.79 1329.71,486.81 1318.41,466.93 1298.36,454.65 1280.72,457.88 1275.28,474.94 1284.26,495.36 1302.29,508.30 1320.39,508.40 1329.82,496.07 1325.42,476.61 1308.74,459.38 1288.59,454.44 1276.36,465.42 1278.41,485.52 1292.79,503.08 1311.87,509.80 1326.43,503.35 1329.17,486.64 1318.02,467.14 1298.34,455.17 1281.07,458.40 1275.79,475.17 1284.64,495.19 1302.36,507.86 1320.12,507.91 1329.32,495.75 1324.93,476.63 1308.52,459.77 1288.77,455.00 1276.82,465.82 1278.88,485.54 1293.03,502.76 1311.77,509.31 1326.02,502.92 1328.65,486.47 1317.64,467.35 1298.33,455.68 1281.42,458.92 1276.29,475.39 1285.02,495.03 1302.44,507.43 1319.85,507.42 1328.83,495.43 1324.45,476.64 1308.31,460.15 1288.95,455.55 1277.28,466.21 1279.35,485.56 1293.27,502.44 1311.67,508.83 1325.62,502.50 1328.13,486.31 1317.27,467.55 1298.31,456.17 1281.76,459.42 1276.78,475.60 1285.39,494.86 1302.51,507.01 1319.59,506.95 1328.34,495.12 1323.98,476.66 1308.10,460.52 1289.13,456.09 1277.72,466.59 1279.81,485.58 1293.51,502.13 1311.57,508.36 1325.23,502.09 1327.62,486.15 1316.91,467.76 1298.30,456.66 1282.10,459.92 1277.26,475.82 1285.76,494.70 1302.58,506.59 1319.34,506.49 1327.87,494.82 1323.52,476.68 1307.90,460.89 1289.30,456.62 1278.16,466.97 1280.25,485.61 1293.74,501.82 1311.47,507.90 1324.85,501.68 1327.13,486.00 1316.56,467.96 1298.28,457.14 1282.42,460.40 1277.73,476.02 1286.12,494.55 1302.65,506.19 1319.08,506.03 1327.40,494.52 1323.07,476.70 1307.71,461.25 1289.47,457.13 1278.59,467.34 1280.69,485.63 1293.96,501.52 1311.38,507.44 1324.47,501.29 1326.64,485.85 1316.21,468.16 1298.27,457.60 1282.75,460.88 1278.20,476.23 1286.47,494.39 1302.72,505.79 1318.83,505.58 1326.95,494.23 1322.62,476.72 1307.52,461.60 1289.64,457.64 1279.01,467.70 1281.13,485.65 1294.18,501.22 1311.28,507.00 1324.10,500.90 1326.17,485.70 1315.87,468.35 1298.26,458.06 1283.07,461.34 1278.65,476.42 1286.81,494.24 1302.79,505.39 1318.59,505.14 1326.50,493.95 1322.19,476.74 1307.33,461.95 1289.81,458.13 1279.42,468.05 1281.55,485.67 1294.40,500.93 1311.19,506.56 1323.74,500.51 1325.70,485.56 1315.54,468.54 1298.25,458.51 1283.38,461.79 1279.10,476.62 1287.15,494.09 1302.85,505.01 1318.35,504.71 1326.06,493.67 1321.77,476.77 1307.15,462.29 1289.97,458.62 1279.83,468.39 1281.96,485.69 1294.61,500.65 1311.10,506.13 1323.38,500.14 1325.24,485.42 1315.22,468.73 1298.24,458.96 1283.68,462.24 1279.54,476.81 1287.48,493.95 1302.92,504.63 1318.11,504.29 1325.63,493.40 1321.35,476.79 1306.97,462.62 1290.13,459.10 1280.23,468.73 1282.37,485.70 1294.82,500.37 1311.01,505.71 1323.03,499.77 1324.79,485.29 1314.90,468.92 1298.23,459.39 1283.99,462.67 1279.96,476.99 1287.81,493.80 1302.98,504.26 1317.88,503.87 1325.21,493.13 1320.94,476.81 1306.80,462.95 1290.29,459.56 1280.62,469.06 1282.77,485.72 1295.02,500.09 1310.92,505.29 1322.68,499.41 1324.35,485.16 1314.59,469.11 1298.23,459.82 1284.28,463.10 1280.39,477.18 1288.13,493.66 1303.04,503.89 1317.65,503.47 1324.79,492.87 1320.54,476.84 1306.63,463.28 1290.45,460.02 1281.00,469.38 1283.16,485.74 1295.22,499.82 1310.83,504.89 1322.34,499.06 1323.92,485.03 1314.29,469.29 1298.22,460.23 1284.57,463.52 1280.80,477.35 1288.44,493.52 1303.10,503.53 1317.43,503.07 1324.39,492.61 1320.15,476.86 1306.47,463.60 1290.60,460.47 1281.38,469.70 1283.55,485.75 1295.42,499.55 1310.74,504.49 1322.01,498.71 1323.50,484.90 1313.99,469.47 1298.22,460.64 1284.86,463.93 1281.20,477.53 1288.75,493.38 1303.16,503.18 1317.21,502.67 1323.99,492.36 1319.77,476.89 1306.31,463.91 1290.76,460.91 1281.75,470.01 1283.93,485.77 1295.61,499.29 1310.66,504.09 1321.68,498.37 1323.08,484.78 1313.70,469.65 1298.22,461.05 1285.14,464.33 1281.60,477.70 1289.05,493.25 1303.21,502.83 1316.99,502.29 1323.59,492.12 1319.40,476.92 1306.15,464.22 1290.91,461.34 1282.11,470.31 1284.30,485.78 1295.80,499.03 1310.57,503.71 1321.36,498.04 1322.67,484.66 1313.42,469.82 1298.22,461.44 1285.42,464.72 1281.99,477.86 1289.34,493.12 1303.26,502.49 1316.78,501.91 1323.21,491.88 1319.03,476.94 1306.00,464.52 1291.06,461.76 1282.47,470.61 1284.66,485.79 1295.98,498.78 1310.49,503.33 1321.04,497.72 1322.27,484.55 1313.15,470.00 1298.22,461.83 1285.69,465.10 1282.38,478.02 1289.63,492.98 1303.32,502.16 1316.56,501.54 1322.83,491.65 1318.67,476.97 1305.86,464.82 1291.20,462.17 1282.82,470.90 1285.02,485.81 1296.16,498.53 1310.40,502.95 1320.73,497.40 1321.88,484.44 1312.88,470.17 1298.22,462.21 1285.96,465.48 1282.75,478.18 1289.91,492.86 1303.37,501.83 1316.36,501.17 1322.46,491.42 1318.32,477.00 1305.71,465.11 1291.35,462.58 1283.17,471.18 1285.37,485.82 1296.34,498.29 1310.32,502.59 1320.43,497.08 1321.50,484.33 1312.61,470.34 1298.22,462.58 1286.22,465.85 1283.12,478.33 1290.19,492.73 1303.42,501.51 1316.15,500.81 1322.09,491.19 1317.97,477.03 1305.57,465.40 1291.49,462.98 1283.50,471.46 1285.71,485.83 1296.51,498.05 1310.24,502.23 1320.13,496.77 1321.12,484.22 1312.35,470.50 1298.22,462.95 1286.48,466.21 1283.49,478.48 1290.46,492.60 1303.46,501.19 1315.95,500.46 1321.73,490.97 1317.64,477.06 1305.44,465.68 1291.63,463.37 1283.84,471.73 1286.04,485.84 1296.68,497.81 1310.16,501.88 1319.83,496.47 1320.75,484.12 1312.10,470.67 1298.23,463.31 1286.73,466.56 1283.84,478.63 1290.73,492.48 1303.51,500.88 1315.75,500.12 1321.38,490.76 1317.30,477.09 1305.31,465.96 1291.77,463.75 1284.16,472.00 1286.37,485.84 1296.84,497.58 1310.08,501.53 1319.54,496.18 1320.39,484.02 1311.86,470.83 1298.23,463.66 1286.98,466.91 1284.19,478.77 1290.99,492.36 1303.55,500.57 1315.56,499.78 1321.04,490.55 1316.98,477.12 1305.18,466.24 1291.91,464.12 1284.48,472.26 1286.70,485.85 1297.00,497.35 1310.00,501.19 1319.25,495.89 1320.04,483.93 1311.62,470.99 1298.24,464.01 1287.23,467.25 1284.53,478.91 1291.25,492.24 1303.59,500.27 1315.36,499.45 1320.70,490.34 1316.66,477.16 1305.05,466.51 1292.05,464.49 1284.80,472.51 1287.02,485.86 1297.16,497.12 1309.92,500.85 1318.97,495.60 1319.69,483.83 1311.38,471.15 1298.25,464.35 1287.47,467.58 1284.87,479.05 1291.50,492.12 1303.64,499.97 1315.17,499.12 1320.36,490.14 1316.35,477.19 1304.93,466.77 1292.18,464.85 1285.11,472.76 1287.33,485.86 1297.31,496.90 1309.84,500.53 1318.70,495.33 1319.35,483.74 1311.15,471.31 1298.26,464.69 1287.71,467.91 1285.20,479.18 1291.74,492.00 1303.68,499.68 1314.99,498.80 1320.04,489.95 1316.05,477.22 1304.82,467.04 1292.32,465.20 1285.41,473.00 1287.63,485.87 1297.46,496.68 1309.76,500.20 1318.43,495.05 1319.01,483.65 1310.93,471.46 1298.27,465.01 1287.95,468.23 1285.53,479.31 1291.98,491.88 1303.71,499.39 1314.80,498.49 1319.72,489.75 1315.75,477.26 1304.70,467.29 1292.45,465.55 1285.71,473.24 1287.93,485.87 1297.61,496.47 1309.68,499.89 1318.16,494.79 1318.68,483.57 1310.71,471.62 1298.28,465.34 1288.18,468.54 1285.84,479.44 1292.22,491.77 1303.75,499.11 1314.62,498.18 1319.40,489.57 1315.46,477.29 1304.59,467.55 1292.58,465.89 1286.01,473.47 1288.23,485.88 1297.75,496.25 1309.61,499.57 1317.90,494.52 1318.36,483.49 1310.49,471.77 1298.29,465.65 1288.40,468.84 1286.16,479.56 1292.45,491.66 1303.78,498.83 1314.44,497.88 1319.09,489.38 1315.17,477.33 1304.48,467.80 1292.71,466.22 1286.29,473.70 1288.52,485.88 1297.89,496.05 1309.53,499.27 1317.64,494.27 1318.04,483.41 1310.28,471.92 1298.30,465.96 1288.63,469.14 1286.46,479.68 1292.68,491.54 1303.82,498.56 1314.26,497.58 1318.79,489.20 1314.90,477.36 1304.38,468.04 1292.83,466.55 1286.58,473.93 1288.80,485.88 1298.03,495.84 1309.46,498.97 1317.38,494.01 1317.73,483.33 1310.08,472.07 1298.31,466.27 1288.85,469.44 1286.77,479.80 1292.90,491.43 1303.85,498.29 1314.09,497.29 1318.49,489.03 1314.62,477.40 1304.28,468.28 1292.96,466.87 1286.86,474.14 1289.08,485.88 1298.17,495.64 1309.38,498.67 1317.13,493.77 1317.43,483.25 1309.88,472.21 1298.33,466.57 1289.06,469.72 1287.06,479.91 1293.12,491.32 1303.88,498.03 1313.92,497.00 1318.19,488.86 1314.35,477.43 1304.18,468.52 1293.08,467.18 1287.13,474.36 1289.35,485.88 1298.30,495.44 1309.31,498.38 1316.89,493.53 1317.13,483.18 1309.68,472.36 1298.34,466.87 1289.28,470.00 1287.35,480.03 1293.33,491.22 1303.91,497.77 1313.75,496.72 1317.90,488.69 1314.09,477.47 1304.08,468.76 1293.21,467.49 1287.40,474.56 1289.61,485.88 1298.42,495.24 1309.23,498.10 1316.64,493.29 1316.84,483.11 1309.49,472.50 1298.36,467.15 1289.49,470.28 1287.64,480.13 1293.54,491.11 1303.94,497.51 1313.58,496.45 1317.62,488.53 1313.83,477.51 1303.99,468.99 1293.33,467.79 1287.66,474.77 1289.88,485.88 1298.55,495.05 1309.16,497.82 1316.41,493.06 1316.55,483.04 1309.31,472.64 1298.37,467.44 1289.69,470.55 1287.92,480.24 1293.74,491.01 1303.97,497.26 1313.42,496.17 1317.34,488.37 1313.58,477.54 1303.90,469.21 1293.45,468.09 1287.92,474.97 1290.13,485.88 1298.67,494.86 1309.09,497.54 1316.17,492.83 1316.27,482.98 1309.12,472.78 1298.39,467.72 1289.90,470.81 1288.19,480.34 1293.94,490.90 1303.99,497.02 1313.25,495.91 1317.07,488.21 1313.34,477.58 1303.81,469.43 1293.57,468.38 1288.18,475.16 1290.38,485.88 1298.79,494.68 1309.01,497.27 1315.94,492.61 1316.00,482.91 1308.95,472.92 1298.41,467.99 1290.10,471.07 1288.46,480.44 1294.14,490.80 1304.02,496.78 1313.09,495.65 1316.80,488.06 1313.09,477.62 1303.73,469.65 1293.68,468.67 1288.43,475.35 1290.63,485.87 1298.91,494.49 1308.94,497.01 1315.71,492.39 1315.72,482.85 1308.77,473.06 1298.43,468.26 1290.30,471.33 1288.73,480.54 1294.33,490.70 1304.04,496.54 1312.94,495.39 1316.54,487.91 1312.86,477.66 1303.64,469.87 1293.80,468.94 1288.68,475.54 1290.87,485.87 1299.02,494.31 1308.87,496.74 1315.49,492.18 1315.46,482.79 1308.60,473.19 1298.44,468.53 1290.49,471.57 1288.99,480.64 1294.52,490.60 1304.06,496.30 1312.78,495.14 1316.28,487.77 1312.63,477.70 1303.56,470.08 1293.91,469.22 1288.92,475.72 1291.11,485.86 1299.13,494.13 1308.80,496.49 1315.27,491.97 1315.20,482.74 1308.44,473.33 1298.46,468.79 1290.68,471.82 1289.24,480.73 1294.70,490.50 1304.08,496.07 1312.63,494.90 1316.02,487.63 1312.40,477.74 1303.49,470.29 1294.03,469.49 1289.16,475.90 1291.34,485.86 1299.24,493.96 1308.73,496.24 1315.06,491.76 1314.94,482.68 1308.27,473.46 1298.48,469.04 1290.87,472.06 1289.49,480.82 1294.88,490.40 1304.10,495.85 1312.48,494.66 1315.77,487.49 1312.18,477.78 1303.41,470.50 1294.14,469.75 1289.39,476.07 1291.57,485.85 1299.34,493.78 1308.66,495.99 1314.84,491.56 1314.69,482.63 1308.12,473.59 1298.50,469.29 1291.05,472.29 1289.74,480.90 1295.06,490.30 1304.12,495.62 1312.33,494.42 1315.53,487.35 1311.96,477.82 1303.34,470.70 1294.25,470.01 1289.62,476.24 1291.80,485.84 1299.45,493.61 1308.59,495.75 1314.64,491.36 1314.45,482.58 1307.96,473.72 1298.52,469.54 1291.24,472.52 1289.98,480.99 1295.23,490.21 1304.14,495.40 1312.18,494.19 1315.29,487.22 1311.75,477.86 1303.27,470.90 1294.36,470.26 1289.85,476.41 1292.02,485.84 1299.55,493.44 1308.52,495.51 1314.43,491.17 1314.21,482.53 1307.81,473.84 1298.55,469.78 1291.42,472.74 1290.22,481.07 1295.40,490.11 1304.16,495.19 1312.04,493.96 1315.05,487.09 1311.54,477.90 1303.20,471.10 1294.47,470.51 1290.07,476.57 1292.23,485.83 1299.64,493.28 1308.45,495.27 1314.23,490.98 1313.97,482.48 1307.67,473.97 1298.57,470.02 1291.59,472.96 1290.45,481.15 1295.57,490.02 1304.17,494.98 1311.89,493.73 1314.82,486.97 1311.34,477.94 1303.13,471.29 1294.58,470.76 1290.29,476.73 1292.44,485.82 1299.74,493.12 1308.39,495.04 1314.03,490.80 1313.74,482.43 1307.52,474.09 1298.59,470.25 1291.77,473.17 1290.68,481.23 1295.73,489.93 1304.19,494.77 1311.75,493.51 1314.59,486.84 1311.14,477.98 1303.07,471.48 1294.68,471.00 1290.50,476.88 1292.65,485.81 1299.83,492.96 1308.32,494.82 1313.83,490.62 1313.51,482.39 1307.38,474.21 1298.61,470.48 1291.94,473.38 1290.90,481.31 1295.89,489.83 1304.20,494.56 1311.61,493.30 1314.37,486.72 1310.94,478.02 1303.01,471.67 1294.79,471.23 1290.71,477.03 1292.85,485.80 1299.92,492.80 1308.25,494.59 1313.64,490.44 1313.29,482.35 1307.24,474.34 1298.64,470.71 1292.11,473.59 1291.12,481.38 1296.04,489.74 1304.21,494.36 1311.47,493.09 1314.15,486.61 1310.75,478.06 1302.95,471.85 1294.89,471.46 1290.92,477.18 1293.05,485.79 1300.01,492.64 1308.19,494.38 1313.45,490.26 1313.07,482.31 1307.11,474.46 1298.66,470.93 1292.27,473.79 1291.34,481.45 1296.19,489.65 1304.22,494.16 1311.34,492.88 1313.93,486.49 1310.56,478.10 1302.89,472.03 1294.99,471.69 1291.12,477.33 1293.25,485.78 1300.10,492.49 1308.12,494.16 1313.26,490.09 1312.86,482.27 1306.98,474.57 1298.69,471.15 1292.44,473.99 1291.55,481.52 1296.34,489.57 1304.23,493.97 1311.21,492.68 1313.72,486.38 1310.38,478.14 1302.83,472.21 1295.09,471.91 1291.32,477.47 1293.44,485.77 1300.18,492.34 1308.06,493.95 1313.08,489.93 1312.64,482.23 1306.85,474.69 1298.71,471.36 1292.60,474.18 1291.76,481.59 1296.49,489.48 1304.24,493.78 1311.07,492.48 1313.51,486.27 1310.20,478.19 1302.78,472.39 1295.19,472.12 1291.52,477.61 1293.63,485.75 1300.27,492.19 1307.99,493.74 1312.90,489.76 1312.44,482.19 1306.73,474.81 1298.74,471.57 1292.76,474.37 1291.96,481.66 1296.63,489.39 1304.25,493.59 1310.94,492.28 1313.30,486.17 1310.02,478.23 1302.73,472.56 1295.29,472.34 1291.72,477.74 1293.81,485.74 1300.35,492.04 1307.93,493.54 1312.72,489.60 1312.24,482.16 1306.61,474.92 1298.76,471.77 1292.91,474.56 1292.16,481.72 1296.77,489.31 1304.26,493.40 1310.82,492.09 1313.10,486.06 1309.85,478.27 1302.68,472.73 1295.39,472.55 1291.91,477.87 1293.99,485.73 1300.42,491.90 1307.86,493.34 1312.55,489.45 1312.04,482.12 1306.49,475.03 1298.79,471.98 1293.07,474.74 1292.36,481.78 1296.91,489.22 1304.27,493.22 1310.69,491.90 1312.90,485.96 1309.68,478.31 1302.63,472.90 1295.48,472.75 1292.09,478.00 1294.17,485.72 1300.50,491.76 1307.80,493.14 1312.38,489.29 1311.84,482.09 1306.38,475.14 1298.81,472.18 1293.22,474.92 1292.55,481.84 1297.04,489.14 1304.27,493.04 1310.57,491.72 1312.71,485.87 1309.52,478.35 1302.58,473.07 1295.58,472.95 1292.28,478.13 1294.34,485.70 1300.57,491.62 1307.74,492.95 1312.21,489.14 1311.65,482.06 1306.26,475.25 1298.84,472.37 1293.37,475.09 1292.74,481.90 1297.17,489.06 1304.28,492.86 1310.44,491.54 1312.52,485.77 1309.36,478.39 1302.53,473.23 1295.67,473.15 1292.46,478.25 1294.51,485.69 1300.64,491.48 1307.68,492.76 1312.04,489.00 1311.47,482.03 1306.15,475.36 1298.86,472.56 1293.52,475.26 1292.93,481.96 1297.30,488.97 1304.29,492.69 1310.32,491.36 1312.33,485.68 1309.20,478.44 1302.49,473.39 1295.77,473.34 1292.64,478.37 1294.68,485.67 1300.71,491.34 1307.61,492.58 1311.88,488.85 1311.28,482.01 1306.05,475.47 1298.89,472.75 1293.66,475.43 1293.11,482.01 1297.43,488.89 1304.29,492.52 1310.20,491.18 1312.15,485.58 1309.05,478.48 1302.45,473.55 1295.86,473.53 1292.81,478.49 1294.84,485.66 1300.78,491.21 1307.55,492.39 1311.72,488.71 1311.10,481.98 1305.94,475.57 1298.92,472.94 1293.80,475.59 1293.29,482.07 1297.55,488.81 1304.29,492.35 1310.08,491.01 1311.97,485.50 1308.90,478.52 1302.41,473.70 1295.95,473.72 1292.98,478.61 1295.00,485.64 1300.85,491.08 1307.49,492.21 1311.56,488.58 1310.93,481.95 1305.84,475.68 1298.95,473.12 1293.94,475.75 1293.47,482.12 1297.67,488.73 1304.30,492.19 1309.97,490.84 1311.79,485.41 1308.75,478.56 1302.37,473.85 1296.04,473.90 1293.15,478.72 1295.16,485.63 1300.91,490.95 1307.43,492.04 1311.40,488.44 1310.75,481.93 1305.74,475.78 1298.97,473.30 1294.08,475.91 1293.64,482.17 1297.78,488.66 1304.30,492.02 1309.85,490.68 1311.61,485.32 1308.60,478.60 1302.33,474.00 1296.13,474.08 1293.32,478.83 1295.31,485.61 1300.98,490.82 1307.37,491.86 1311.25,488.31 1310.58,481.91 1305.64,475.88 1299.00,473.47 1294.22,476.06 1293.81,482.22 1297.90,488.58 1304.30,491.86 1309.74,490.52 1311.44,485.24 1308.46,478.64 1302.29,474.15 1296.22,474.25 1293.48,478.93 1295.46,485.60 1301.04,490.69 1307.31,491.69 1311.10,488.18 1310.42,481.88 1305.55,475.98 1299.03,473.64 1294.35,476.21 1293.98,482.27 1298.01,488.50 1304.30,491.71 1309.63,490.36 1311.27,485.16 1308.32,478.69 1302.26,474.30 1296.30,474.42 1293.64,479.04 1295.61,485.58 1301.10,490.57 1307.26,491.53 1310.95,488.05 1310.25,481.86 1305.46,476.08 1299.06,473.81 1294.48,476.36 1294.14,482.31 1298.12,488.43 1304.30,491.55 1309.52,490.21 1311.11,485.08 1308.19,478.73 1302.22,474.44 1296.39,474.59 1293.80,479.14 1295.75,485.56 1301.16,490.44 1307.20,491.36 1310.80,487.93 1310.09,481.84 1305.37,476.18 1299.08,473.98 1294.61,476.50 1294.30,482.36 1298.23,488.35 1304.30,491.40 1309.41,490.05 1310.95,485.01 1308.05,478.77 1302.19,474.58 1296.47,474.76 1293.95,479.24 1295.90,485.55 1301.21,490.32 1307.14,491.20 1310.66,487.81 1309.94,481.83 1305.28,476.28 1299.11,474.14 1294.74,476.64 1294.46,482.40 1298.33,488.28 1304.30,491.25 1309.31,489.90 1310.79,484.93 1307.92,478.81 1302.16,474.72 1296.56,474.92 1294.10,479.34 1296.04,485.53 1301.27,490.20 1307.08,491.04 1310.52,487.69 1309.78,481.81 1305.19,476.37 1299.14,474.30 1294.87,476.78 1294.61,482.44 1298.44,488.20 1304.30,491.10 1309.20,489.76 1310.63,484.86 1307.80,478.85 1302.13,474.86 1296.64,475.08 1294.25,479.43 1296.17,485.51 1301.32,490.09 1307.03,490.89 1310.38,487.58 1309.63,481.79 1305.11,476.47 1299.17,474.46 1294.99,476.92 1294.77,482.48 1298.54,488.13 1304.29,490.96 1309.10,489.61 1310.48,484.79 1307.67,478.89 1302.10,474.99 1296.72,475.24 1294.40,479.53 1296.31,485.49 1301.37,489.97 1306.97,490.74 1310.24,487.46 1309.49,481.78 1305.03,476.56 1299.20,474.62 1295.11,477.05 1294.92,482.52 1298.63,488.06 1304.29,490.82 1308.99,489.47 1310.33,484.72 1307.55,478.93 1302.07,475.12 1296.80,475.39 1294.54,479.62 1296.44,485.48 1301.42,489.86 1306.91,490.59 1310.11,487.35 1309.34,481.76 1304.95,476.65 1299.23,474.77 1295.23,477.18 1295.06,482.56 1298.73,487.99 1304.29,490.68 1308.89,489.34 1310.18,484.66 1307.43,478.98 1302.05,475.25 1296.88,475.54 1294.69,479.71 1296.57,485.46 1301.47,489.75 1306.86,490.44 1309.98,487.24 1309.20,481.75 1304.87,476.75 1299.25,474.92 1295.35,477.30 1295.21,482.60 1298.82,487.92 1304.29,490.54 1308.79,489.20 1310.03,484.59 1307.31,479.02 1302.02,475.38 1296.96,475.69 1294.83,479.79 1296.69,485.44 1301.52,489.64 1306.80,490.29 1309.85,487.14 1309.06,481.73 1304.79,476.84 1299.28,475.06 1295.47,477.43 1295.35,482.63 1298.92,487.85 1304.28,490.40 1308.70,489.07 1309.89,484.53 1307.20,479.06 1302.00,475.51 1297.04,475.83 1294.96,479.88 1296.81,485.42 1301.56,489.53 1306.75,490.15 1309.72,487.03 1308.92,481.72 1304.72,476.92 1299.31,475.21 1295.58,477.55 1295.48,482.67 1299.01,487.78 1304.28,490.27 1308.60,488.94 1309.75,484.47 1307.09,479.10 1301.97,475.63 1297.11,475.97 1295.10,479.96 1296.94,485.40 1301.61,489.42 1306.69,490.01 1309.59,486.93 1308.79,481.71 1304.65,477.01 1299.34,475.35 1295.69,477.67 1295.62,482.70 1299.09,487.72 1304.27,490.14 1308.50,488.81 1309.61,484.41 1306.98,479.14 1301.95,475.75 1297.19,476.11 1295.23,480.04 1297.05,485.38 1301.65,489.32 1306.64,489.88 1309.47,486.83 1308.66,481.70 1304.58,477.10 1299.37,475.49 1295.81,477.79 1295.75,482.73 1299.18,487.65 1304.27,490.01 1308.41,488.68 1309.48,484.35 1306.87,479.18 1301.93,475.87 1297.26,476.25 1295.36,480.12 1297.17,485.36 1301.70,489.21 1306.59,489.74 1309.35,486.73 1308.53,481.69 1304.51,477.18 1299.40,475.62 1295.92,477.90 1295.88,482.76 1299.26,487.58 1304.26,489.89 1308.32,488.56 1309.34,484.29 1306.77,479.22 1301.91,475.99 1297.34,476.38 1295.49,480.19 1297.28,485.34 1301.74,489.11 1306.54,489.61 1309.23,486.64 1308.40,481.68 1304.45,477.27 1299.43,475.76 1296.02,478.01 1296.01,482.79 1299.34,487.52 1304.25,489.76 1308.22,488.44 1309.21,484.24 1306.67,479.26 1301.89,476.11 1297.41,476.51 1295.61,480.27 1297.39,485.32 1301.78,489.01 1306.48,489.48 1309.11,486.55 1308.28,481.67 1304.38,477.35 1299.46,475.89 1296.13,478.12 1296.14,482.82 1299.42,487.45 1304.25,489.64 1308.13,488.32 1309.08,484.18 1306.57,479.30 1301.87,476.22 1297.48,476.64 1295.74,480.34 1297.50,485.31 1301.81,488.91 1306.43,489.35 1308.99,486.46 1308.16,481.67 1304.32,477.43 1299.49,476.02 1296.23,478.23 1296.26,482.85 1299.50,487.39 1304.24,489.52 1308.05,488.21 1308.96,484.13 1306.47,479.34 1301.85,476.33 1297.56,476.76 1295.86,480.41 1297.61,485.29 1301.85,488.81 1306.38,489.23 1308.88,486.37 1308.04,481.66 1304.26,477.51 1299.51,476.15 1296.34,478.33 1296.38,482.87 1299.58,487.33 1304.23,489.40 1307.96,488.09 1308.83,484.08 1306.37,479.38 1301.83,476.44 1297.63,476.89 1295.98,480.48 1297.72,485.27 1301.89,488.71 1306.33,489.11 1308.77,486.28 1307.92,481.65 1304.20,477.59 1299.54,476.27 1296.44,478.43 1296.50,482.90 1299.65,487.27 1304.23,489.29 1307.87,487.98 1308.71,484.03 1306.28,479.41 1301.82,476.55 1297.70,477.01 1296.09,480.55 1297.82,485.25 1301.92,488.62 1306.28,488.99 1308.66,486.19 1307.81,481.65 1304.14,477.67 1299.57,476.39 1296.54,478.54 1296.62,482.93 1299.73,487.20 1304.22,489.17 1307.79,487.87 1308.59,483.98 1306.19,479.45 1301.80,476.66 1297.76,477.13 1296.21,480.62 1297.92,485.23 1301.96,488.53 1306.23,488.87 1308.55,486.11 1307.70,481.64 1304.08,477.75 1299.60,476.51 1296.63,478.63 1296.73,482.95 1299.80,487.14 1304.21,489.06 1307.70,487.77 1308.48,483.93 1306.10,479.49 1301.79,476.76 1297.83,477.24 1296.32,480.68 1298.02,485.21 1301.99,488.43 1306.18,488.75 1308.44,486.03 1307.59,481.64 1304.03,477.83 1299.63,476.63 1296.73,478.73 1296.85,482.97 1299.87,487.08 1304.20,488.95 1307.62,487.66 1308.36,483.89 1306.01,479.53 1301.77,476.87 1297.90,477.36 1296.43,480.74 1298.11,485.19 1302.02,488.34 1306.13,488.64 1308.34,485.95 1307.48,481.63 1303.97,477.90 1299.66,476.75 1296.83,478.82 1296.96,482.99 1299.94,487.02 1304.19,488.84 1307.54,487.56 1308.25,483.84 1305.92,479.57 1301.76,476.97 1297.96,477.47 1296.54,480.81 1298.21,485.17 1302.06,488.25 1306.09,488.53 1308.23,485.87 1307.37,481.63 1303.92,477.98 1299.69,476.86 1296.92,478.92 1297.07,483.02 1300.00,486.97 1304.18,488.73 1307.46,487.46 1308.14,483.80 1305.84,479.61 1301.75,477.07 1298.03,477.58 1296.65,480.87 1298.30,485.15 1302.09,488.17 1306.04,488.42 1308.13,485.80 1307.27,481.63 1303.87,478.05 1299.71,476.97 1297.01,479.01 1297.17,483.04 1300.07,486.91 1304.17,488.63 1307.38,487.36 1308.03,483.76 1305.76,479.64 1301.74,477.17 1298.09,477.69 1296.76,480.92 1298.39,485.12 1302.11,488.08 1305.99,488.31 1308.03,485.72 1307.17,481.62 1303.82,478.12 1299.74,477.08 1297.10,479.09 1297.28,483.06 1300.13,486.85 1304.16,488.52 1307.30,487.27 1307.92,483.72 1305.68,479.68 1301.73,477.27 1298.16,477.79 1296.86,480.98 1298.48,485.10 1302.14,487.99 1305.95,488.20 1307.94,485.65 1307.07,481.62 1303.77,478.19 1299.77,477.19 1297.19,479.18 1297.38,483.08 1300.19,486.79 1304.15,488.42 1307.22,487.17 1307.82,483.68 1305.60,479.72 1301.72,477.36 1298.22,477.90 1296.96,481.04 1298.57,485.08 1302.17,487.91 1305.90,488.10 1307.84,485.58 1306.97,481.62 1303.72,478.26 1299.80,477.30 1297.28,479.26 1297.48,483.09 1300.25,486.74 1304.14,488.32 1307.15,487.08 1307.71,483.64 1305.52,479.75 1301.71,477.46 1298.28,478.00 1297.06,481.09 1298.65,485.06 1302.20,487.83 1305.85,488.00 1307.74,485.51 1306.88,481.62 1303.68,478.33 1299.83,477.40 1297.37,479.35 1297.58,483.11 1300.31,486.68 1304.13,488.23 1307.07,486.99 1307.61,483.60 1305.45,479.79 1301.70,477.55 1298.34,478.10 1297.16,481.14 1298.74,485.04 1302.22,487.75 1305.81,487.90 1307.65,485.44 1306.78,481.62 1303.63,478.40 1299.85,477.50 1297.45,479.43 1297.67,483.13 1300.37,486.63 1304.12,488.13 1307.00,486.90 1307.51,483.57 1305.37,479.83 1301.69,477.64 1298.40,478.19 1297.26,481.20 1298.82,485.02 1302.25,487.67 1305.76,487.80 1307.56,485.37 1306.69,481.62 1303.59,478.47 1299.88,477.60 1297.53,479.51 1297.77,483.14 1300.43,486.58 1304.11,488.03 1306.93,486.81 1307.42,483.53 1305.30,479.86 1301.68,477.73 1298.46,478.29 1297.35,481.25 1298.90,485.00 1302.27,487.59 1305.72,487.70 1307.47,485.31 1306.60,481.62 1303.55,478.54 1299.91,477.70 1297.62,479.58 1297.86,483.16 1300.48,486.52 1304.10,487.94 1306.86,486.73 1307.32,483.50 1305.23,479.90 1301.67,477.82 1298.52,478.38 1297.44,481.30 1298.98,484.98 1302.30,487.51 1305.68,487.61 1307.38,485.24 1306.51,481.62 1303.51,478.60 1299.94,477.80 1297.70,479.66 1297.95,483.17 1300.54,486.47 1304.09,487.85 1306.79,486.64 1307.23,483.46 1305.16,479.94 1301.67,477.90 1298.58,478.47 1297.54,481.34 1299.05,484.96 1302.32,487.43 1305.63,487.51 1307.29,485.18 1306.43,481.62 1303.47,478.67 1299.97,477.90 1297.78,479.73 1298.04,483.19 1300.59,486.42 1304.08,487.76 1306.72,486.56 1307.13,483.43 1305.10,479.97 1301.66,477.99 1298.64,478.56 1297.63,481.39 1299.13,484.94 1302.34,487.36 1305.59,487.42 1307.21,485.12 1306.34,481.62 1303.43,478.73 1299.99,477.99 1297.86,479.81 1298.13,483.20 1300.64,486.37 1304.07,487.67 1306.65,486.48 1307.04,483.40 1305.03,480.01 1301.65,478.07 1298.69,478.65 1297.71,481.43 1299.20,484.92 1302.36,487.28 1305.55,487.33 1307.12,485.06 1306.26,481.63 1303.39,478.80 1300.02,478.08 1297.93,479.88 1298.22,483.22 1300.69,486.32 1304.06,487.58 1306.58,486.40 1306.95,483.37 1304.97,480.04 1301.65,478.16 1298.75,478.74 1297.80,481.48 1299.28,484.90 1302.38,487.21 1305.51,487.24 1307.04,485.01 1306.18,481.63 1303.35,478.86 1300.05,478.17 1298.01,479.95 1298.30,483.23 1300.74,486.27 1304.05,487.50 1306.51,486.32 1306.87,483.34 1304.90,480.07 1301.64,478.24 1298.80,478.82 1297.89,481.52 1299.35,484.88 1302.40,487.14 1305.46,487.16 1306.96,484.95 1306.10,481.63 1303.32,478.92 1300.07,478.26 1298.08,480.01 1298.38,483.24 1300.79,486.22 1304.03,487.41 1306.45,486.25 1306.78,483.31 1304.84,480.11 1301.64,478.32 1298.86,478.91 1297.97,481.56 1299.42,484.86 1302.42,487.07 1305.42,487.07 1306.88,484.89 1306.02,481.63 1303.28,478.98 1300.10,478.35 1298.16,480.08 1298.46,483.25 1300.83,486.17 1304.02,487.33 1306.38,486.17 1306.70,483.28 1304.78,480.14 1301.63,478.40 1298.91,478.99 1298.05,481.61 1299.48,484.84 1302.44,487.00 1305.38,486.99 1306.80,484.84 1305.94,481.64 1303.25,479.04 1300.13,478.43 1298.23,480.15 1298.54,483.26 1300.88,486.12 1304.01,487.25 1306.32,486.10 1306.62,483.26 1304.72,480.18 1301.63,478.47 1298.97,479.07 1298.13,481.65 1299.55,484.82 1302.46,486.93 1305.34,486.91 1306.72,484.79 1305.87,481.64 1303.21,479.10 1300.15,478.51 1298.30,480.21 1298.62,483.27 1300.92,486.07 1304.00,487.17 1306.26,486.03 1306.53,483.23 1304.67,480.21 1301.63,478.55 1299.02,479.15 1298.21,481.68 1299.62,484.80 1302.47,486.86 1305.30,486.83 1306.64,484.73 1305.79,481.64 1303.18,479.16 1300.18,478.60 1298.37,480.27 1298.70,483.28 1300.97,486.03 1303.99,487.09 1306.20,485.96 1306.45,483.21 1304.61,480.24 1301.62,478.62 1299.07,479.22 1298.29,481.72 1299.68,484.78 1302.49,486.79 1305.26,486.75 1306.57,484.68 1305.72,481.65 1303.15,479.21 1300.21,478.68 1298.44,480.33 1298.77,483.29 1301.01,485.98 1303.97,487.02 1306.14,485.89 1306.38,483.18 1304.56,480.28 1301.62,478.70 1299.12,479.30 1298.37,481.76 1299.74,484.76 1302.50,486.73 1305.22,486.67 1306.50,484.64 1305.65,481.65 1303.12,479.27 1300.23,478.76 1298.51,480.39 1298.85,483.30 1301.05,485.93 1303.96,486.94 1306.08,485.82 1306.30,483.16 1304.50,480.31 1301.62,478.77 1299.17,479.37 1298.44,481.80 1299.80,484.74 1302.52,486.66 1305.19,486.60 1306.42,484.59 1305.58,481.66 1303.09,479.33 1300.26,478.83 1298.58,480.45 1298.92,483.31 1301.09,485.89 1303.95,486.87 1306.02,485.76 1306.22,483.13 1304.45,480.34 1301.62,478.84 1299.22,479.44 1298.52,481.83 1299.86,484.72 1302.53,486.60 1305.15,486.52 1306.35,484.54 1305.52,481.66 1303.06,479.38 1300.28,478.91 1298.64,480.51 1298.99,483.32 1301.13,485.84 1303.94,486.79 1305.96,485.69 1306.15,483.11 1304.40,480.37 1301.62,478.91 1299.27,479.52 1298.59,481.86 1299.92,484.70 1302.55,486.54 1305.11,486.45 1306.28,484.49 1305.45,481.67 1303.04,479.44 1300.31,478.98 1298.71,480.56 1299.06,483.32 1301.17,485.80 1303.92,486.72 1305.90,485.63 1306.08,483.09 1304.35,480.40 1301.61,478.98 1299.32,479.59 1298.66,481.90 1299.98,484.68 1302.56,486.48 1305.07,486.38 1306.21,484.45 1305.38,481.67 1303.01,479.49 1300.33,479.06 1298.77,480.62 1299.13,483.33 1301.21,485.76 1303.91,486.65 1305.85,485.57 1306.01,483.07 1304.30,480.44 1301.61,479.05 1299.36,479.65 1298.73,481.93 1300.03,484.66 1302.58,486.42 1305.04,486.31 1306.15,484.41 1305.32,481.68 1302.98,479.54 1300.36,479.13 1298.83,480.67 1299.20,483.34 1301.24,485.71 1303.90,486.58 1305.79,485.51 1305.94,483.05 1304.25,480.47 1301.61,479.11 1299.41,479.72 1298.80,481.96 1300.09,484.64 1302.59,486.36 1305.00,486.24 1306.08,484.36 1305.26,481.68 1302.96,479.59 1300.38,479.20 1298.89,480.72 1299.26,483.34 1301.28,485.67 1303.89,486.51 1305.74,485.45 1305.87,483.03 1304.21,480.50 1301.61,479.18 1299.46,479.79 1298.87,481.99 1300.14,484.62 1302.60,486.30 1304.96,486.17 1306.01,484.32 1305.20,481.69 1302.93,479.65 1300.41,479.27 1298.95,480.77 1299.33,483.35 1301.31,485.63 1303.87,486.44 1305.68,485.39 1305.80,483.01 1304.16,480.53 1301.61,479.24 1299.50,479.85 1298.94,482.02 1300.20,484.60 1302.61,486.24 1304.93,486.11 1305.95,484.28 1305.14,481.70 1302.91,479.70 1300.43,479.34 1299.01,480.82 1299.39,483.35 1301.35,485.59 1303.86,486.38 1305.63,485.33 1305.74,482.99 1304.12,480.56 1301.61,479.31 1299.55,479.91 1299.00,482.05 1300.25,484.58 1302.62,486.18 1304.89,486.04 1305.89,484.24 1305.08,481.70 1302.88,479.75 1300.46,479.41 1299.07,480.87 1299.45,483.36 1301.38,485.55 1303.85,486.31 1305.58,485.28 1305.67,482.98 1304.07,480.59 1301.61,479.37 1299.59,479.97 1299.06,482.08 1300.30,484.56 1302.63,486.13 1304.86,485.98 1305.82,484.20 1305.02,481.71 1302.86,479.79 1300.48,479.47 1299.13,480.92 1299.51,483.36 1301.41,485.51 1303.83,486.25 1305.52,485.22 1305.61,482.96 1304.03,480.62 1301.62,479.43 1299.63,480.03 1299.13,482.11 1300.35,484.54 1302.64,486.07 1304.82,485.91 1305.76,484.16 1304.96,481.72 1302.84,479.84 1300.50,479.54 1299.19,480.97 1299.57,483.37 1301.44,485.47 1303.82,486.19 1305.47,485.17 1305.55,482.94 1303.99,480.65 1301.62,479.49 1299.68,480.09 1299.19,482.13 1300.40,484.53 1302.65,486.02 1304.79,485.85 1305.70,484.13 1304.91,481.72 1302.82,479.89 1300.53,479.60 1299.24,481.01 1299.63,483.37 1301.47,485.43 1303.81,486.13 1305.42,485.12 1305.48,482.93 1303.95,480.67 1301.62,479.55 1299.72,480.15 1299.25,482.16 1300.44,484.51 1302.66,485.96 1304.76,485.79 1305.64,484.09 1304.86,481.73 1302.80,479.94 1300.55,479.66 1299.30,481.06 1299.69,483.37 1301.50,485.39 1303.80,486.07 1305.38,485.07 1305.42,482.91 1303.91,480.70 1301.62,479.61 1299.76,480.21 1299.31,482.19 1300.49,484.49 1302.67,485.91 1304.72,485.73 1305.59,484.06 1304.80,481.74 1302.78,479.98 1300.57,479.72 1299.35,481.10 1299.75,483.38 1301.53,485.35 1303.78,486.01 1305.33,485.02 1305.37,482.89 1303.87,480.73 1301.62,479.66 1299.80,480.26 1299.37,482.21 1300.53,484.47 1302.68,485.86 1304.69,485.68 1305.53,484.02 1304.75,481.74 1302.76,480.03 1300.60,479.78 1299.41,481.14 1299.80,483.38 1301.56,485.31 1303.77,485.95 1305.28,484.97 1305.31,482.88 1303.83,480.76 1301.62,479.72 1299.84,480.32 1299.43,482.24 1300.58,484.45 1302.69,485.81 1304.66,485.62 1305.47,483.99 1304.70,481.75 1302.74,480.07 1300.62,479.84 1299.46,481.19 1299.85,483.38 1301.59,485.28 1303.76,485.89 1305.23,484.92 1305.25,482.87 1303.80,480.79 1301.63,479.78 1299.88,480.37 1299.48,482.26 1300.62,484.43 1302.70,485.76 1304.63,485.56 1305.42,483.95 1304.65,481.76 1302.72,480.12 1300.64,479.90 1299.51,481.23 1299.91,483.39 1301.62,485.24 1303.74,485.83 1305.19,484.87 1305.19,482.85 1303.76,480.82 1301.63,479.83 1299.92,480.42 1299.54,482.28 1300.66,484.41 1302.70,485.71 1304.60,485.51 1305.36,483.92 1304.60,481.77 1302.70,480.16 1300.67,479.96 1299.56,481.27 1299.96,483.39 1301.64,485.20 1303.73,485.78 1305.14,484.83 1305.14,482.84 1303.72,480.84 1301.63,479.88 1299.96,480.48 1299.59,482.30 1300.71,484.39 1302.71,485.66 1304.56,485.45 1305.31,483.89 1304.55,481.77 1302.69,480.20 1300.69,480.01 1299.61,481.30 1300.01,483.39 1301.67,485.17 1303.72,485.72 1305.10,484.78 1305.09,482.83 1303.69,480.87 1301.63,479.94 1300.00,480.53 1299.65,482.32 1300.75,484.38 1302.72,485.61 1304.53,485.40 1305.26,483.86 1304.51,481.78 1302.67,480.25 1300.71,480.07 1299.66,481.34 1300.06,483.39 1301.69,485.13 1303.70,485.67 1305.05,484.74 1305.03,482.82 1303.66,480.90 1301.64,479.99 1300.04,480.57 1299.70,482.35 1300.79,484.36 1302.72,485.56 1304.50,485.35 1305.21,483.83 1304.46,481.79 1302.65,480.29 1300.73,480.12 1299.71,481.38 1300.11,483.39 1301.72,485.10 1303.69,485.62 1305.01,484.69 1304.98,482.80 1303.62,480.92 1301.64,480.04 1300.08,480.62 1299.75,482.37 1300.82,484.34 1302.73,485.52 1304.47,485.30 1305.16,483.80 1304.42,481.80 1302.64,480.33 1300.75,480.17 1299.75,481.42 1300.16,483.39 1301.74,485.06 1303.68,485.57 1304.97,484.65 1304.93,482.79 1303.59,480.95 1301.64,480.09 1300.11,480.67 1299.80,482.39 1300.86,484.32 1302.73,485.47 1304.44,485.25 1305.11,483.77 1304.37,481.81 1302.62,480.37 1300.78,480.23 1299.80,481.45 1300.20,483.40 1301.77,485.03 1303.67,485.52 1304.92,484.61 1304.88,482.78 1303.56,480.97 1301.65,480.14 1300.15,480.72 1299.85,482.41 1300.90,484.31 1302.74,485.43 1304.41,485.20 1305.06,483.75 1304.33,481.81 1302.61,480.41 1300.80,480.28 1299.85,481.49 1300.25,483.40 1301.79,485.00 1303.65,485.47 1304.88,484.57 1304.83,482.77 1303.53,481.00 1301.65,480.19 1300.19,480.76 1299.90,482.42 1300.94,484.29 1302.74,485.38 1304.39,485.15 1305.01,483.72 1304.29,481.82 1302.59,480.45 1300.82,480.33 1299.89,481.52 1300.30,483.40 1301.81,484.96 1303.64,485.42 1304.84,484.53 1304.79,482.76 1303.50,481.03 1301.65,480.23 1300.22,480.81 1299.95,482.44 1300.97,484.27 1302.75,485.34 1304.36,485.10 1304.96,483.69 1304.25,481.83 1302.58,480.49 1300.84,480.38 1299.94,481.55 1300.34,483.40 1301.83,484.93 1303.63,485.37 1304.80,484.49 1304.74,482.75 1303.47,481.05 1301.66,480.28 1300.26,480.85 1300.00,482.46 1301.01,484.25 1302.75,485.30 1304.33,485.06 1304.92,483.67 1304.21,481.84 1302.57,480.53 1300.86,480.42 1299.98,481.59 1300.38,483.40 1301.85,484.90 1303.62,485.32 1304.76,484.45 1304.69,482.74 1303.44,481.07 1301.66,480.32 1300.29,480.89 1300.04,482.48 1301.04,484.24 1302.76,485.25 1304.30,485.01 1304.87,483.64 1304.17,481.85 1302.55,480.56 1300.88,480.47 1300.02,481.62 1300.43,483.40 1301.87,484.87 1303.60,485.28 1304.72,484.42 1304.65,482.73 1303.41,481.10 1301.67,480.37 1300.32,480.94 1300.09,482.49 1301.07,484.22 1302.76,485.21 1304.27,484.97 1304.83,483.62 1304.13,481.86 1302.54,480.60 1300.90,480.52 1300.07,481.65 1300.47,483.40 1301.89,484.84 1303.59,485.23 1304.68,484.38 1304.60,482.73 1303.39,481.12 1301.67,480.41 1300.36,480.98 1300.13,482.51 1301.11,484.20 1302.77,485.17 1304.25,484.93 1304.78,483.59 1304.09,481.86 1302.53,480.64 1300.92,480.56 1300.11,481.68 1300.51,483.40 1301.91,484.81 1303.58,485.19 1304.65,484.34 1304.56,482.72 1303.36,481.15 1301.68,480.46 1300.39,481.02 1300.18,482.53 1301.14,484.19 1302.77,485.13 1304.22,484.88 1304.74,483.57 1304.05,481.87 1302.52,480.67 1300.94,480.61 1300.15,481.71 1300.55,483.39 1301.93,484.78 1303.57,485.14 1304.61,484.31 1304.52,482.71 1303.33,481.17 1301.68,480.50 1300.42,481.06 1300.22,482.54 1301.17,484.17 1302.77,485.09 1304.19,484.84 1304.70,483.55 1304.02,481.88 1302.51,480.71 1300.96,480.65 1300.19,481.74 1300.59,483.39 1301.95,484.75 1303.55,485.10 1304.57,484.28 1304.48,482.70 1303.31,481.19 1301.68,480.54 1300.45,481.09 1300.26,482.56 1301.20,484.15 1302.78,485.05 1304.17,484.80 1304.65,483.53 1303.98,481.89 1302.50,480.74 1300.98,480.69 1300.23,481.77 1300.63,483.39 1301.97,484.72 1303.54,485.06 1304.54,484.24 1304.43,482.70 1303.28,481.22 1301.69,480.58 1300.49,481.13 1300.30,482.57 1301.23,484.14 1302.78,485.02 1304.14,484.76 1304.61,483.50 1303.95,481.90 1302.49,480.78 1301.00,480.73 1300.27,481.79 1300.67,483.39 1301.98,484.69 1303.53,485.01 1304.50,484.21 1304.39,482.69 1303.26,481.24 1301.69,480.62 1300.52,481.17 1300.34,482.58 1301.26,484.12 1302.78,484.98 1304.12,484.72 1304.57,483.48 1303.91,481.91 1302.48,480.81 1301.02,480.78 1300.30,481.82 1300.70,483.39 1302.00,484.66 1303.52,484.97 1304.47,484.18 1304.35,482.68 1303.24,481.26 1301.70,480.66 1300.55,481.21 1300.38,482.60 1301.29,484.10 1302.78,484.94 1304.09,484.68 1304.53,483.46 1303.88,481.91 1302.47,480.84 1301.04,480.82 1300.34,481.85 1300.74,483.39 1302.02,484.63 1303.50,484.93 1304.43,484.15 1304.32,482.68 1303.21,481.28 1301.70,480.70 1300.58,481.24 1300.42,482.61 1301.32,484.09 1302.79,484.91 1304.07,484.64 1304.49,483.44 1303.85,481.92 1302.46,480.88 1301.06,480.86 1300.38,481.87 1300.78,483.39 1302.03,484.60 1303.49,484.89 1304.40,484.12 1304.28,482.67 1303.19,481.31 1301.71,480.74 1300.61,481.28 1300.46,482.62 1301.34,484.07 1302.79,484.87 1304.04,484.61 1304.46,483.42 1303.81,481.93 1302.45,480.91 1301.07,480.90 1300.41,481.90 1300.81,483.39 1302.05,484.58 1303.48,484.86 1304.36,484.09 1304.24,482.66 1303.17,481.33 1301.71,480.78 1300.64,481.31 1300.50,482.64 1301.37,484.06 1302.79,484.83 1304.02,484.57 1304.42,483.40 1303.78,481.94 1302.44,480.94 1301.09,480.93 1300.45,481.92 1300.84,483.38 1302.06,484.55 1303.47,484.82 1304.33,484.06 1304.20,482.66 1303.15,481.35 1301.72,480.82 1300.66,481.34 1300.54,482.65 1301.40,484.04 1302.79,484.80 1303.99,484.53 1304.38,483.39 1303.75,481.95 1302.43,480.97 1301.11,480.97 1300.49,481.95 1300.88,483.38 1302.08,484.52 1303.46,484.78 1304.30,484.03 1304.17,482.65 1303.13,481.37 1301.72,480.85 1300.69,481.38 1300.57,482.66 1301.42,484.03 1302.79,484.77 1303.97,484.50 1304.35,483.37 1303.72,481.96 1302.42,481.00 1301.13,481.01 1300.52,481.97 1300.91,483.38 1302.09,484.50 1303.44,484.74 1304.27,484.00 1304.13,482.65 1303.11,481.39 1301.73,480.89 1300.72,481.41 1300.61,482.67 1301.45,484.01 1302.79,484.73 1303.95,484.46 1304.31,483.35 1303.69,481.97 1302.41,481.03 1301.15,481.04 1300.55,481.99 1300.94,483.38 1302.11,484.47 1303.43,484.71 1304.24,483.97 1304.10,482.64 1303.09,481.41 1301.73,480.93 1300.75,481.44 1300.64,482.68 1301.47,484.00 1302.79,484.70 1303.92,484.43 1304.28,483.33 1303.66,481.97 1302.41,481.06 1301.16,481.08 1300.59,482.02 1300.97,483.38 1302.12,484.44 1303.42,484.67 1304.21,483.94 1304.06,482.64"/>
<circle cx="1304.06" cy="482.64" r="3.5" fill="#0072bd"/>
<circle cx="1081.66" cy="545.28" r="13.5" fill="none" stroke="#d95319" stroke-width="1.9"/>
<text class="t" style="font-size:33.0px" transform="translate(1079.00 787.70) scale(1 1.05)">105</text>
<text class="t" style="font-size:33.0px" transform="translate(1236.80 787.70) scale(1 1.05)">110</text>
<text class="t" style="font-size:33.0px" transform="translate(1394.30 787.70) scale(1 1.05)">115</text>
<text class="t" style="font-size:33.0px" transform="translate(1553.00 787.70) scale(1 1.05)">120</text>
<text class="r" style="font-size:33.0px" transform="translate(969.90 714.34) scale(1 1.05)">4</text>
<text class="r" style="font-size:33.0px" transform="translate(969.90 636.61) scale(1 1.05)">6</text>
<text class="r" style="font-size:33.0px" transform="translate(969.90 558.88) scale(1 1.05)">8</text>
<text class="r" style="font-size:33.0px" transform="translate(969.90 481.16) scale(1 1.05)">10</text>
<text class="r" style="font-size:33.0px" transform="translate(969.90 403.43) scale(1 1.05)">12</text>
<text class="r" style="font-size:33.0px" transform="translate(969.90 325.70) scale(1 1.05)">14</text>
<text class="r" style="font-size:33.0px" transform="translate(969.90 247.98) scale(1 1.05)">16</text>
<text class="r" style="font-size:33.0px" transform="translate(969.90 170.25) scale(1 1.05)">18</text>
<text class="r" style="font-size:33.0px" transform="translate(969.90 92.52) scale(1 1.05)">20</text>
<text transform="translate(1121.50 27.90) scale(1 1.02)">Phase Portrait at h = 6.35</text>
<text class="t" transform="translate(1317.20 831.00) scale(1 1.04)">U</text>
<text class="t" transform="translate(917.10 390.40) rotate(-90) scale(1 1.04)">V</text>
</g>
</g>
</svg>
</body></html>
